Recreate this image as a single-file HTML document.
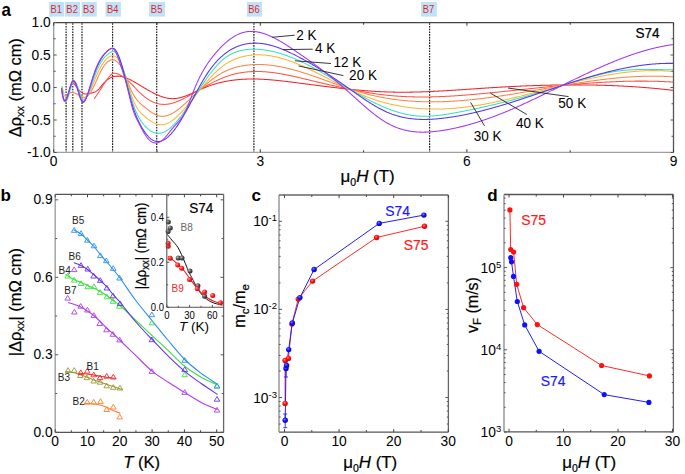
<!DOCTYPE html>
<html><head><meta charset="utf-8"><title>Figure</title>
<style>html,body{margin:0;padding:0;background:#fff;}body{width:685px;height:474px;overflow:hidden;font-family:"Liberation Sans", sans-serif;}svg{display:block;}</style>
</head><body>
<svg width="685" height="474" viewBox="0 0 685 474" font-family='"Liberation Sans", sans-serif'>
<style>text{stroke-width:0.22px;paint-order:stroke;}</style>
<rect width="685" height="474" fill="#fff"/>
<defs><radialGradient id="gk" cx="0.35" cy="0.35" r="0.7"><stop offset="0" stop-color="#bbb"/><stop offset="0.5" stop-color="#555"/><stop offset="1" stop-color="#222"/></radialGradient><radialGradient id="gr" cx="0.35" cy="0.35" r="0.7"><stop offset="0" stop-color="#ff9a9a"/><stop offset="0.5" stop-color="#f22"/><stop offset="1" stop-color="#c00"/></radialGradient><radialGradient id="cbg" cx="0.4" cy="0.35" r="0.7"><stop offset="0" stop-color="#7a7aff"/><stop offset="0.45" stop-color="#1010ff"/><stop offset="1" stop-color="#0000c0"/></radialGradient><radialGradient id="crg" cx="0.4" cy="0.35" r="0.7"><stop offset="0" stop-color="#ff8080"/><stop offset="0.45" stop-color="#ff1010"/><stop offset="1" stop-color="#c80000"/></radialGradient></defs>
<rect x="49.2" y="2" width="15" height="14.6" fill="#bae4fa"/>
<text transform="translate(56.3,13.3) scale(0.9,1)" font-size="10.5" text-anchor="middle" fill="#ee1c25" stroke="none" font-weight="normal"  >B1</text>
<rect x="65" y="2" width="15" height="14.6" fill="#bae4fa"/>
<text transform="translate(72.1,13.3) scale(0.9,1)" font-size="10.5" text-anchor="middle" fill="#ee1c25" stroke="none" font-weight="normal"  >B2</text>
<rect x="81.6" y="2" width="15.2" height="14.6" fill="#bae4fa"/>
<text transform="translate(88.8,13.3) scale(0.9,1)" font-size="10.5" text-anchor="middle" fill="#ee1c25" stroke="none" font-weight="normal"  >B3</text>
<rect x="105.5" y="2" width="15.4" height="14.6" fill="#bae4fa"/>
<text transform="translate(112.8,13.3) scale(0.9,1)" font-size="10.5" text-anchor="middle" fill="#ee1c25" stroke="none" font-weight="normal"  >B4</text>
<rect x="149" y="2" width="16" height="14.6" fill="#bae4fa"/>
<text transform="translate(156.6,13.3) scale(0.9,1)" font-size="10.5" text-anchor="middle" fill="#ee1c25" stroke="none" font-weight="normal"  >B5</text>
<rect x="246.9" y="2" width="15.1" height="14.6" fill="#bae4fa"/>
<text transform="translate(254.05,13.3) scale(0.9,1)" font-size="10.5" text-anchor="middle" fill="#ee1c25" stroke="none" font-weight="normal"  >B6</text>
<rect x="421" y="2" width="15.8" height="14.6" fill="#bae4fa"/>
<text transform="translate(428.5,13.3) scale(0.9,1)" font-size="10.5" text-anchor="middle" fill="#ee1c25" stroke="none" font-weight="normal"  >B7</text>
<line x1="66.1" y1="23.2" x2="66.1" y2="152" stroke="#1a1a1a" stroke-width="1.2" stroke-dasharray="1.6 1.13"/>
<line x1="72.8" y1="23.2" x2="72.8" y2="152" stroke="#1a1a1a" stroke-width="1.2" stroke-dasharray="1.6 1.13"/>
<line x1="82" y1="23.2" x2="82" y2="152" stroke="#1a1a1a" stroke-width="1.2" stroke-dasharray="1.6 1.13"/>
<line x1="112.6" y1="23.2" x2="112.6" y2="152" stroke="#1a1a1a" stroke-width="1.2" stroke-dasharray="1.6 1.13"/>
<line x1="156.7" y1="23.2" x2="156.7" y2="152" stroke="#1a1a1a" stroke-width="1.2" stroke-dasharray="1.6 1.13"/>
<line x1="253.9" y1="23.2" x2="253.9" y2="152" stroke="#1a1a1a" stroke-width="1.2" stroke-dasharray="1.6 1.13"/>
<line x1="429.6" y1="23.2" x2="429.6" y2="152" stroke="#1a1a1a" stroke-width="1.2" stroke-dasharray="1.6 1.13"/>
<g clip-path="url(#clipa)">
<path d="M72.8,81.98 L73.3,82.64 L73.8,83.31 L74.3,83.98 L74.8,84.65 L75.3,85.32 L75.8,85.99 L76.3,86.65 L76.8,87.3 L77.3,87.94 L77.8,88.56 L78.3,89.16 L78.8,89.74 L79.3,90.29 L79.8,90.82 L80.3,91.32 L80.8,91.78 L81.3,92.21 L81.8,92.59 L82.3,92.93 L82.8,93.23 L83.3,93.48 L83.8,93.68 L84.3,93.82 L84.8,93.92 L85.3,93.98 L85.8,93.99 L86.3,93.98 L86.8,93.94 L87.3,93.87 L87.8,93.79 L88.3,93.69 L88.8,93.59 L89.3,93.49 L89.8,93.38 L90.3,93.28 L90.8,93.18 L91.3,93.06 L91.8,92.95 L92.3,92.82 L92.8,92.68 L93.3,92.52 L93.8,92.35 L94.3,92.15 L94.8,91.94 L95.3,91.69 L95.8,91.42 L96.3,91.12 L96.8,90.78 L97.3,90.41 L97.8,90 L98.3,89.54 L98.8,89.05 L99.3,88.51 L99.8,87.93 L100.3,87.33 L100.8,86.71 L101.3,86.07 L101.8,85.44 L102.3,84.81 L102.8,84.2 L103.3,83.61 L103.8,83.05 L104.3,82.51 L104.8,82 L105.3,81.51 L105.8,81.05 L106.3,80.61 L106.8,80.19 L107.3,79.8 L107.8,79.42 L108.3,79.07 L108.8,78.74 L109.3,78.44 L109.8,78.15 L110.3,77.89 L110.8,77.64 L111.3,77.41 L111.8,77.21 L112.3,77.02 L112.8,76.85 L113.3,76.7 L113.8,76.57 L114.3,76.46 L114.8,76.36 L115.3,76.28 L115.8,76.21 L116.3,76.17 L116.8,76.13 L117.3,76.12 L117.8,76.11 L118.3,76.13 L118.8,76.15 L119.3,76.19 L119.8,76.25 L120.3,76.31 L120.8,76.39 L121.3,76.49 L121.8,76.59 L122.3,76.71 L122.8,76.83 L123.3,76.97 L123.8,77.12 L124.3,77.28 L124.8,77.45 L125.3,77.62 L125.8,77.81 L126.3,78 L126.8,78.21 L127.3,78.42 L127.8,78.64 L128.3,78.86 L128.8,79.1 L129.3,79.33 L129.8,79.58 L130.3,79.83 L130.8,80.08 L131.3,80.34 L131.8,80.61 L132.3,80.88 L132.8,81.15 L133.3,81.43 L133.8,81.71 L134.3,81.99 L134.8,82.27 L135.3,82.56 L135.8,82.85 L136.3,83.13 L136.8,83.43 L137.3,83.72 L137.8,84.01 L138.3,84.31 L138.8,84.6 L139.3,84.9 L139.8,85.2 L140.3,85.5 L140.8,85.8 L141.3,86.1 L141.8,86.4 L142.3,86.7 L142.8,86.99 L143.3,87.29 L143.8,87.59 L144.3,87.89 L144.8,88.18 L145.3,88.48 L145.8,88.78 L146.3,89.07 L146.8,89.36 L147.3,89.65 L147.8,89.94 L148.3,90.22 L148.8,90.51 L149.3,90.79 L149.8,91.07 L150.3,91.35 L150.8,91.62 L151.3,91.89 L151.8,92.16 L152.3,92.43 L152.8,92.69 L153.3,92.95 L153.8,93.2 L154.3,93.45 L154.8,93.7 L155.3,93.94 L155.8,94.18 L156.3,94.42 L156.8,94.65 L157.3,94.87 L157.8,95.09 L158.3,95.31 L158.8,95.52 L159.3,95.72 L159.8,95.92 L160.3,96.12 L160.8,96.3 L161.3,96.48 L161.8,96.66 L162.3,96.83 L162.8,96.99 L163.3,97.15 L163.8,97.3 L164.3,97.44 L164.8,97.58 L165.3,97.7 L165.8,97.83 L166.3,97.94 L166.8,98.04 L167.3,98.14 L167.8,98.23 L168.3,98.31 L168.8,98.39 L169.3,98.45 L169.8,98.51 L170.3,98.56 L170.8,98.6 L171.3,98.63 L171.8,98.65 L172.3,98.66 L172.8,98.66 L173.3,98.65 L173.8,98.63 L174.3,98.61 L174.8,98.57 L175.3,98.53 L175.8,98.47 L176.3,98.41 L176.8,98.34 L177.3,98.26 L177.8,98.18 L178.3,98.09 L178.8,97.99 L179.3,97.88 L179.8,97.76 L180.3,97.64 L180.8,97.51 L181.3,97.38 L181.8,97.24 L182.3,97.09 L182.8,96.94 L183.3,96.78 L183.8,96.62 L184.3,96.45 L184.8,96.28 L185.3,96.1 L185.8,95.91 L186.3,95.73 L186.8,95.54 L187.3,95.34 L187.8,95.14 L188.3,94.94 L188.8,94.73 L189.3,94.52 L189.8,94.31 L190.3,94.1 L190.8,93.88 L191.3,93.66 L191.8,93.44 L192.3,93.22 L192.8,92.99 L193.3,92.76 L193.8,92.54 L194.3,92.31 L194.8,92.08 L195.3,91.85 L195.8,91.62 L196.3,91.38 L196.8,91.15 L197.3,90.92 L197.8,90.69 L198.3,90.46 L198.8,90.23 L199.3,90 L199.8,89.77 L200.3,89.55 L200.8,89.32 L201.3,89.1 L201.8,88.88 L202.3,88.66 L202.8,88.44 L203.3,88.23 L203.8,88.02 L204.3,87.81 L204.8,87.6 L205.3,87.4 L205.8,87.2 L206.3,87 L206.8,86.81 L207.3,86.62 L207.8,86.43 L208.3,86.24 L208.8,86.06 L209.3,85.88 L209.8,85.7 L210.3,85.53 L210.8,85.35 L211.3,85.19 L211.8,85.02 L212.3,84.85 L212.8,84.69 L213.3,84.53 L213.8,84.38 L214.3,84.22 L214.8,84.07 L215.3,83.93 L215.8,83.78 L216.3,83.64 L216.8,83.5 L217.3,83.36 L217.8,83.22 L218.3,83.09 L218.8,82.96 L219.3,82.83 L219.8,82.7 L220.3,82.58 L220.8,82.46 L221.3,82.34 L221.8,82.22 L222.3,82.11 L222.8,82 L223.3,81.89 L223.8,81.78 L224.3,81.68 L224.8,81.58 L225.3,81.48 L225.8,81.38 L226.3,81.28 L226.8,81.19 L227.3,81.1 L227.8,81.01 L228.3,80.92 L228.8,80.84 L229.3,80.75 L229.8,80.67 L230.3,80.6 L230.8,80.52 L231.3,80.45 L231.8,80.37 L232.3,80.3 L232.8,80.24 L233.3,80.17 L233.8,80.11 L234.3,80.04 L234.8,79.98 L235.3,79.93 L235.8,79.87 L236.3,79.81 L236.8,79.76 L237.3,79.71 L237.8,79.66 L238.3,79.62 L238.8,79.57 L239.3,79.53 L239.8,79.49 L240.3,79.45 L240.8,79.41 L241.3,79.38 L241.8,79.34 L242.3,79.31 L242.8,79.28 L243.3,79.25 L243.8,79.22 L244.3,79.2 L244.8,79.17 L245.3,79.15 L245.8,79.13 L246.3,79.11 L246.8,79.09 L247.3,79.08 L247.8,79.06 L248.3,79.05 L248.8,79.04 L249.3,79.03 L249.8,79.02 L250.3,79.02 L250.8,79.01 L251.3,79.01 L251.8,79 L252.3,79 L252.8,79 L253.3,79.01 L253.8,79.01 L254.3,79.01 L254.8,79.02 L255.3,79.03 L255.8,79.04 L256.3,79.05 L256.8,79.06 L257.3,79.07 L257.8,79.08 L258.3,79.1 L258.8,79.12 L259.3,79.13 L259.8,79.15 L260.3,79.17 L260.8,79.19 L261.3,79.22 L261.8,79.24 L262.3,79.26 L262.8,79.29 L263.3,79.32 L263.8,79.34 L264.3,79.37 L264.8,79.4 L265.3,79.43 L265.8,79.46 L266.3,79.5 L266.8,79.53 L267.3,79.57 L267.8,79.6 L268.3,79.64 L268.8,79.68 L269.3,79.71 L269.8,79.75 L270.3,79.79 L270.8,79.84 L271.3,79.88 L271.8,79.92 L272.3,79.96 L272.8,80.01 L273.3,80.05 L273.8,80.1 L274.3,80.15 L274.8,80.19 L275.3,80.24 L275.8,80.29 L276.3,80.34 L276.8,80.39 L277.3,80.44 L277.8,80.49 L278.3,80.54 L278.8,80.6 L279.3,80.65 L279.8,80.7 L280.3,80.76 L280.8,80.81 L281.3,80.87 L281.8,80.92 L282.3,80.98 L282.8,81.04 L283.3,81.1 L283.8,81.15 L284.3,81.21 L284.8,81.27 L285.3,81.33 L285.8,81.39 L286.3,81.45 L286.8,81.51 L287.3,81.57 L287.8,81.63 L288.3,81.69 L288.8,81.75 L289.3,81.82 L289.8,81.88 L290.3,81.94 L290.8,82 L291.3,82.07 L291.8,82.13 L292.3,82.19 L292.8,82.26 L293.3,82.32 L293.8,82.38 L294.3,82.45 L294.8,82.51 L295.3,82.57 L295.8,82.64 L296.3,82.7 L296.8,82.77 L297.3,82.83 L297.8,82.9 L298.3,82.96 L298.8,83.02 L299.3,83.09 L299.8,83.15 L300.3,83.22 L300.8,83.28 L301.3,83.35 L301.8,83.41 L302.3,83.48 L302.8,83.54 L303.3,83.61 L303.8,83.67 L304.3,83.74 L304.8,83.8 L305.3,83.87 L305.8,83.93 L306.3,84 L306.8,84.06 L307.3,84.13 L307.8,84.19 L308.3,84.26 L308.8,84.32 L309.3,84.39 L309.8,84.45 L310.3,84.52 L310.8,84.58 L311.3,84.65 L311.8,84.71 L312.3,84.78 L312.8,84.84 L313.3,84.91 L313.8,84.97 L314.3,85.04 L314.8,85.1 L315.3,85.17 L315.8,85.23 L316.3,85.29 L316.8,85.36 L317.3,85.42 L317.8,85.49 L318.3,85.55 L318.8,85.62 L319.3,85.68 L319.8,85.74 L320.3,85.81 L320.8,85.87 L321.3,85.93 L321.8,86 L322.3,86.06 L322.8,86.12 L323.3,86.19 L323.8,86.25 L324.3,86.31 L324.8,86.38 L325.3,86.44 L325.8,86.5 L326.3,86.56 L326.8,86.63 L327.3,86.69 L327.8,86.75 L328.3,86.81 L328.8,86.87 L329.3,86.93 L329.8,87 L330.3,87.06 L330.8,87.12 L331.3,87.18 L331.8,87.24 L332.3,87.3 L332.8,87.36 L333.3,87.42 L333.8,87.48 L334.3,87.54 L334.8,87.6 L335.3,87.66 L335.8,87.72 L336.3,87.78 L336.8,87.83 L337.3,87.89 L337.8,87.95 L338.3,88.01 L338.8,88.07 L339.3,88.12 L339.8,88.18 L340.3,88.24 L340.8,88.29 L341.3,88.35 L341.8,88.41 L342.3,88.46 L342.8,88.52 L343.3,88.57 L343.8,88.63 L344.3,88.68 L344.8,88.74 L345.3,88.79 L345.8,88.85 L346.3,88.9 L346.8,88.95 L347.3,89.01 L347.8,89.06 L348.3,89.11 L348.8,89.16 L349.3,89.21 L349.8,89.27 L350.3,89.32 L350.8,89.37 L351.3,89.42 L351.8,89.47 L352.3,89.52 L352.8,89.57 L353.3,89.62 L353.8,89.67 L354.3,89.71 L354.8,89.76 L355.3,89.81 L355.8,89.86 L356.3,89.91 L356.8,89.95 L357.3,90 L357.8,90.04 L358.3,90.09 L358.8,90.13 L359.3,90.18 L359.8,90.22 L360.3,90.27 L360.8,90.31 L361.3,90.35 L361.8,90.4 L362.3,90.44 L362.8,90.48 L363.3,90.52 L363.8,90.56 L364.3,90.61 L364.8,90.65 L365.3,90.69 L365.8,90.72 L366.3,90.76 L366.8,90.8 L367.3,90.84 L367.8,90.88 L368.3,90.91 L368.8,90.95 L369.3,90.99 L369.8,91.02 L370.3,91.06 L370.8,91.09 L371.3,91.13 L371.8,91.16 L372.3,91.2 L372.8,91.23 L373.3,91.26 L373.8,91.29 L374.3,91.32 L374.8,91.35 L375.3,91.39 L375.8,91.42 L376.3,91.44 L376.8,91.47 L377.3,91.5 L377.8,91.53 L378.3,91.56 L378.8,91.58 L379.3,91.61 L379.8,91.64 L380.3,91.66 L380.8,91.69 L381.3,91.71 L381.8,91.73 L382.3,91.76 L382.8,91.78 L383.3,91.8 L383.8,91.82 L384.3,91.84 L384.8,91.86 L385.3,91.88 L385.8,91.9 L386.3,91.92 L386.8,91.94 L387.3,91.95 L387.8,91.97 L388.3,91.99 L388.8,92 L389.3,92.02 L389.8,92.03 L390.3,92.04 L390.8,92.06 L391.3,92.07 L391.8,92.08 L392.3,92.09 L392.8,92.1 L393.3,92.11 L393.8,92.12 L394.3,92.13 L394.8,92.14 L395.3,92.15 L395.8,92.15 L396.3,92.16 L396.8,92.17 L397.3,92.17 L397.8,92.18 L398.3,92.18 L398.8,92.19 L399.3,92.19 L399.8,92.19 L400.3,92.19 L400.8,92.2 L401.3,92.2 L401.8,92.2 L402.3,92.2 L402.8,92.2 L403.3,92.2 L403.8,92.2 L404.3,92.2 L404.8,92.19 L405.3,92.19 L405.8,92.19 L406.3,92.18 L406.8,92.18 L407.3,92.18 L407.8,92.17 L408.3,92.17 L408.8,92.16 L409.3,92.15 L409.8,92.15 L410.3,92.14 L410.8,92.13 L411.3,92.12 L411.8,92.12 L412.3,92.11 L412.8,92.1 L413.3,92.09 L413.8,92.08 L414.3,92.07 L414.8,92.06 L415.3,92.04 L415.8,92.03 L416.3,92.02 L416.8,92.01 L417.3,91.99 L417.8,91.98 L418.3,91.97 L418.8,91.95 L419.3,91.94 L419.8,91.92 L420.3,91.91 L420.8,91.89 L421.3,91.88 L421.8,91.86 L422.3,91.84 L422.8,91.83 L423.3,91.81 L423.8,91.79 L424.3,91.77 L424.8,91.75 L425.3,91.73 L425.8,91.72 L426.3,91.7 L426.8,91.68 L427.3,91.66 L427.8,91.64 L428.3,91.61 L428.8,91.59 L429.3,91.57 L429.8,91.55 L430.3,91.53 L430.8,91.51 L431.3,91.48 L431.8,91.46 L432.3,91.44 L432.8,91.41 L433.3,91.39 L433.8,91.37 L434.3,91.34 L434.8,91.32 L435.3,91.29 L435.8,91.27 L436.3,91.24 L436.8,91.22 L437.3,91.19 L437.8,91.16 L438.3,91.14 L438.8,91.11 L439.3,91.08 L439.8,91.06 L440.3,91.03 L440.8,91 L441.3,90.97 L441.8,90.95 L442.3,90.92 L442.8,90.89 L443.3,90.86 L443.8,90.83 L444.3,90.8 L444.8,90.77 L445.3,90.74 L445.8,90.71 L446.3,90.68 L446.8,90.65 L447.3,90.62 L447.8,90.59 L448.3,90.56 L448.8,90.53 L449.3,90.5 L449.8,90.47 L450.3,90.44 L450.8,90.41 L451.3,90.38 L451.8,90.35 L452.3,90.31 L452.8,90.28 L453.3,90.25 L453.8,90.22 L454.3,90.19 L454.8,90.15 L455.3,90.12 L455.8,90.09 L456.3,90.06 L456.8,90.02 L457.3,89.99 L457.8,89.96 L458.3,89.92 L458.8,89.89 L459.3,89.86 L459.8,89.82 L460.3,89.79 L460.8,89.76 L461.3,89.72 L461.8,89.69 L462.3,89.66 L462.8,89.62 L463.3,89.59 L463.8,89.55 L464.3,89.52 L464.8,89.49 L465.3,89.45 L465.8,89.42 L466.3,89.38 L466.8,89.35 L467.3,89.32 L467.8,89.28 L468.3,89.25 L468.8,89.21 L469.3,89.18 L469.8,89.14 L470.3,89.11 L470.8,89.07 L471.3,89.04 L471.8,89.01 L472.3,88.97 L472.8,88.94 L473.3,88.9 L473.8,88.87 L474.3,88.83 L474.8,88.8 L475.3,88.77 L475.8,88.73 L476.3,88.7 L476.8,88.66 L477.3,88.63 L477.8,88.6 L478.3,88.56 L478.8,88.53 L479.3,88.49 L479.8,88.46 L480.3,88.43 L480.8,88.39 L481.3,88.36 L481.8,88.32 L482.3,88.29 L482.8,88.26 L483.3,88.22 L483.8,88.19 L484.3,88.16 L484.8,88.13 L485.3,88.09 L485.8,88.06 L486.3,88.03 L486.8,87.99 L487.3,87.96 L487.8,87.93 L488.3,87.9 L488.8,87.86 L489.3,87.83 L489.8,87.8 L490.3,87.77 L490.8,87.74 L491.3,87.71 L491.8,87.67 L492.3,87.64 L492.8,87.61 L493.3,87.58 L493.8,87.55 L494.3,87.52 L494.8,87.49 L495.3,87.46 L495.8,87.43 L496.3,87.4 L496.8,87.37 L497.3,87.34 L497.8,87.31 L498.3,87.28 L498.8,87.25 L499.3,87.22 L499.8,87.19 L500.3,87.16 L500.8,87.14 L501.3,87.11 L501.8,87.08 L502.3,87.05 L502.8,87.02 L503.3,86.99 L503.8,86.97 L504.3,86.94 L504.8,86.91 L505.3,86.88 L505.8,86.86 L506.3,86.83 L506.8,86.8 L507.3,86.78 L507.8,86.75 L508.3,86.72 L508.8,86.7 L509.3,86.67 L509.8,86.64 L510.3,86.62 L510.8,86.59 L511.3,86.57 L511.8,86.54 L512.3,86.52 L512.8,86.49 L513.3,86.47 L513.8,86.44 L514.3,86.42 L514.8,86.39 L515.3,86.37 L515.8,86.35 L516.3,86.32 L516.8,86.3 L517.3,86.28 L517.8,86.25 L518.3,86.23 L518.8,86.21 L519.3,86.18 L519.8,86.16 L520.3,86.14 L520.8,86.12 L521.3,86.09 L521.8,86.07 L522.3,86.05 L522.8,86.03 L523.3,86.01 L523.8,85.99 L524.3,85.97 L524.8,85.95 L525.3,85.92 L525.8,85.9 L526.3,85.88 L526.8,85.86 L527.3,85.84 L527.8,85.82 L528.3,85.8 L528.8,85.79 L529.3,85.77 L529.8,85.75 L530.3,85.73 L530.8,85.71 L531.3,85.69 L531.8,85.67 L532.3,85.66 L532.8,85.64 L533.3,85.62 L533.8,85.6 L534.3,85.59 L534.8,85.57 L535.3,85.55 L535.8,85.53 L536.3,85.52 L536.8,85.5 L537.3,85.49 L537.8,85.47 L538.3,85.45 L538.8,85.44 L539.3,85.42 L539.8,85.41 L540.3,85.39 L540.8,85.38 L541.3,85.36 L541.8,85.35 L542.3,85.33 L542.8,85.32 L543.3,85.31 L543.8,85.29 L544.3,85.28 L544.8,85.27 L545.3,85.25 L545.8,85.24 L546.3,85.23 L546.8,85.22 L547.3,85.2 L547.8,85.19 L548.3,85.18 L548.8,85.17 L549.3,85.16 L549.8,85.15 L550.3,85.14 L550.8,85.13 L551.3,85.12 L551.8,85.1 L552.3,85.09 L552.8,85.08 L553.3,85.08 L553.8,85.07 L554.3,85.06 L554.8,85.05 L555.3,85.04 L555.8,85.03 L556.3,85.02 L556.8,85.01 L557.3,85.01 L557.8,85 L558.3,84.99 L558.8,84.98 L559.3,84.98 L559.8,84.97 L560.3,84.96 L560.8,84.96 L561.3,84.95 L561.8,84.95 L562.3,84.94 L562.8,84.93 L563.3,84.93 L563.8,84.92 L564.3,84.92 L564.8,84.91 L565.3,84.91 L565.8,84.91 L566.3,84.9 L566.8,84.9 L567.3,84.9 L567.8,84.89 L568.3,84.89 L568.8,84.89 L569.3,84.88 L569.8,84.88 L570.3,84.88 L570.8,84.88 L571.3,84.88 L571.8,84.88 L572.3,84.87 L572.8,84.87 L573.3,84.87 L573.8,84.87 L574.3,84.87 L574.8,84.87 L575.3,84.87 L575.8,84.87 L576.3,84.87 L576.8,84.88 L577.3,84.88 L577.8,84.88 L578.3,84.88 L578.8,84.88 L579.3,84.89 L579.8,84.89 L580.3,84.89 L580.8,84.89 L581.3,84.9 L581.8,84.9 L582.3,84.9 L582.8,84.91 L583.3,84.91 L583.8,84.92 L584.3,84.92 L584.8,84.93 L585.3,84.93 L585.8,84.94 L586.3,84.94 L586.8,84.95 L587.3,84.96 L587.8,84.96 L588.3,84.97 L588.8,84.98 L589.3,84.98 L589.8,84.99 L590.3,85 L590.8,85.01 L591.3,85.02 L591.8,85.02 L592.3,85.03 L592.8,85.04 L593.3,85.05 L593.8,85.06 L594.3,85.07 L594.8,85.08 L595.3,85.09 L595.8,85.1 L596.3,85.11 L596.8,85.13 L597.3,85.14 L597.8,85.15 L598.3,85.16 L598.8,85.17 L599.3,85.19 L599.8,85.2 L600.3,85.21 L600.8,85.23 L601.3,85.24 L601.8,85.25 L602.3,85.27 L602.8,85.28 L603.3,85.3 L603.8,85.31 L604.3,85.33 L604.8,85.34 L605.3,85.36 L605.8,85.37 L606.3,85.39 L606.8,85.41 L607.3,85.42 L607.8,85.44 L608.3,85.46 L608.8,85.48 L609.3,85.5 L609.8,85.51 L610.3,85.53 L610.8,85.55 L611.3,85.57 L611.8,85.59 L612.3,85.61 L612.8,85.63 L613.3,85.65 L613.8,85.67 L614.3,85.69 L614.8,85.71 L615.3,85.74 L615.8,85.76 L616.3,85.78 L616.8,85.8 L617.3,85.82 L617.8,85.85 L618.3,85.87 L618.8,85.89 L619.3,85.92 L619.8,85.94 L620.3,85.97 L620.8,85.99 L621.3,86.02 L621.8,86.04 L622.3,86.07 L622.8,86.09 L623.3,86.12 L623.8,86.15 L624.3,86.17 L624.8,86.2 L625.3,86.23 L625.8,86.26 L626.3,86.28 L626.8,86.31 L627.3,86.34 L627.8,86.37 L628.3,86.4 L628.8,86.43 L629.3,86.46 L629.8,86.49 L630.3,86.52 L630.8,86.55 L631.3,86.58 L631.8,86.61 L632.3,86.64 L632.8,86.68 L633.3,86.71 L633.8,86.74 L634.3,86.77 L634.8,86.81 L635.3,86.84 L635.8,86.87 L636.3,86.91 L636.8,86.94 L637.3,86.98 L637.8,87.01 L638.3,87.05 L638.8,87.08 L639.3,87.12 L639.8,87.16 L640.3,87.19 L640.8,87.23 L641.3,87.27 L641.8,87.3 L642.3,87.34 L642.8,87.38 L643.3,87.42 L643.8,87.46 L644.3,87.5 L644.8,87.54 L645.3,87.58 L645.8,87.62 L646.3,87.66 L646.8,87.7 L647.3,87.74 L647.8,87.78 L648.3,87.82 L648.8,87.87 L649.3,87.91 L649.8,87.95 L650.3,87.99 L650.8,88.04 L651.3,88.08 L651.8,88.13 L652.3,88.17 L652.8,88.22 L653.3,88.26 L653.8,88.31 L654.3,88.35 L654.8,88.4 L655.3,88.45 L655.8,88.49 L656.3,88.54 L656.8,88.59 L657.3,88.63 L657.8,88.68 L658.3,88.73 L658.8,88.78 L659.3,88.83 L659.8,88.88 L660.3,88.93 L660.8,88.98 L661.3,89.03 L661.8,89.08 L662.3,89.13 L662.8,89.18 L663.3,89.24 L663.8,89.29 L664.3,89.34 L664.8,89.39 L665.3,89.45 L665.8,89.5 L666.3,89.56 L666.8,89.61 L667.3,89.66 L667.8,89.72 L668.3,89.78 L668.8,89.83 L669.3,89.89 L669.8,89.94 L670.3,90 L670.8,90.06 L671.3,90.12 L671.8,90.17 L672.3,90.23 L672.8,90.29 L673.3,90.35 L673.4,90.36" fill="none" stroke="#f42228" stroke-width="1.05" stroke-linejoin="round" stroke-linecap="round" />
<path d="M94.5,98.36 L95,97.67 L95.5,96.97 L96,96.25 L96.5,95.52 L97,94.79 L97.5,94.04 L98,93.29 L98.5,92.53 L99,91.76 L99.5,90.99 L100,90.22 L100.5,89.44 L101,88.66 L101.5,87.88 L102,87.11 L102.5,86.33 L103,85.56 L103.5,84.79 L104,84.03 L104.5,83.27 L105,82.52 L105.5,81.78 L106,81.04 L106.5,80.32 L107,79.61 L107.5,78.91 L108,78.23 L108.5,77.56 L109,76.91 L109.5,76.3 L110,75.72 L110.5,75.19 L111,74.71 L111.5,74.29 L112,73.95 L112.5,73.67 L113,73.47 L113.5,73.34 L114,73.26 L114.5,73.23 L115,73.25 L115.5,73.31 L116,73.4 L116.5,73.52 L117,73.67 L117.5,73.83 L118,74.01 L118.5,74.21 L119,74.44 L119.5,74.67 L120,74.93 L120.5,75.2 L121,75.48 L121.5,75.78 L122,76.1 L122.5,76.42 L123,76.76 L123.5,77.12 L124,77.48 L124.5,77.86 L125,78.24 L125.5,78.64 L126,79.05 L126.5,79.47 L127,79.9 L127.5,80.34 L128,80.78 L128.5,81.24 L129,81.7 L129.5,82.18 L130,82.65 L130.5,83.14 L131,83.63 L131.5,84.13 L132,84.63 L132.5,85.14 L133,85.65 L133.5,86.17 L134,86.68 L134.5,87.2 L135,87.72 L135.5,88.24 L136,88.76 L136.5,89.28 L137,89.79 L137.5,90.31 L138,90.81 L138.5,91.32 L139,91.82 L139.5,92.31 L140,92.79 L140.5,93.27 L141,93.74 L141.5,94.2 L142,94.64 L142.5,95.08 L143,95.51 L143.5,95.93 L144,96.34 L144.5,96.74 L145,97.12 L145.5,97.5 L146,97.87 L146.5,98.23 L147,98.58 L147.5,98.91 L148,99.24 L148.5,99.56 L149,99.87 L149.5,100.16 L150,100.45 L150.5,100.73 L151,100.99 L151.5,101.25 L152,101.5 L152.5,101.73 L153,101.96 L153.5,102.18 L154,102.38 L154.5,102.58 L155,102.77 L155.5,102.94 L156,103.11 L156.5,103.26 L157,103.41 L157.5,103.55 L158,103.67 L158.5,103.79 L159,103.89 L159.5,103.99 L160,104.07 L160.5,104.15 L161,104.22 L161.5,104.27 L162,104.32 L162.5,104.35 L163,104.38 L163.5,104.39 L164,104.4 L164.5,104.4 L165,104.38 L165.5,104.36 L166,104.33 L166.5,104.29 L167,104.24 L167.5,104.18 L168,104.11 L168.5,104.04 L169,103.95 L169.5,103.86 L170,103.76 L170.5,103.65 L171,103.54 L171.5,103.41 L172,103.28 L172.5,103.15 L173,103 L173.5,102.85 L174,102.69 L174.5,102.53 L175,102.36 L175.5,102.18 L176,102 L176.5,101.81 L177,101.62 L177.5,101.42 L178,101.22 L178.5,101.01 L179,100.79 L179.5,100.57 L180,100.35 L180.5,100.12 L181,99.89 L181.5,99.65 L182,99.41 L182.5,99.17 L183,98.92 L183.5,98.66 L184,98.41 L184.5,98.15 L185,97.89 L185.5,97.62 L186,97.36 L186.5,97.09 L187,96.81 L187.5,96.54 L188,96.26 L188.5,95.98 L189,95.7 L189.5,95.42 L190,95.14 L190.5,94.85 L191,94.57 L191.5,94.28 L192,93.99 L192.5,93.71 L193,93.42 L193.5,93.13 L194,92.84 L194.5,92.55 L195,92.26 L195.5,91.97 L196,91.69 L196.5,91.4 L197,91.11 L197.5,90.82 L198,90.54 L198.5,90.25 L199,89.96 L199.5,89.68 L200,89.39 L200.5,89.11 L201,88.83 L201.5,88.54 L202,88.26 L202.5,87.98 L203,87.7 L203.5,87.42 L204,87.14 L204.5,86.87 L205,86.59 L205.5,86.32 L206,86.04 L206.5,85.77 L207,85.5 L207.5,85.23 L208,84.96 L208.5,84.7 L209,84.43 L209.5,84.17 L210,83.91 L210.5,83.65 L211,83.39 L211.5,83.13 L212,82.88 L212.5,82.62 L213,82.37 L213.5,82.12 L214,81.87 L214.5,81.63 L215,81.39 L215.5,81.15 L216,80.91 L216.5,80.67 L217,80.44 L217.5,80.2 L218,79.98 L218.5,79.75 L219,79.52 L219.5,79.3 L220,79.08 L220.5,78.87 L221,78.65 L221.5,78.44 L222,78.23 L222.5,78.03 L223,77.83 L223.5,77.63 L224,77.43 L224.5,77.24 L225,77.05 L225.5,76.86 L226,76.67 L226.5,76.49 L227,76.31 L227.5,76.14 L228,75.97 L228.5,75.8 L229,75.64 L229.5,75.48 L230,75.32 L230.5,75.17 L231,75.02 L231.5,74.87 L232,74.73 L232.5,74.59 L233,74.45 L233.5,74.32 L234,74.19 L234.5,74.07 L235,73.94 L235.5,73.82 L236,73.71 L236.5,73.59 L237,73.48 L237.5,73.38 L238,73.28 L238.5,73.18 L239,73.08 L239.5,72.98 L240,72.89 L240.5,72.81 L241,72.72 L241.5,72.64 L242,72.56 L242.5,72.49 L243,72.41 L243.5,72.34 L244,72.28 L244.5,72.21 L245,72.15 L245.5,72.09 L246,72.04 L246.5,71.99 L247,71.94 L247.5,71.89 L248,71.85 L248.5,71.8 L249,71.77 L249.5,71.73 L250,71.7 L250.5,71.67 L251,71.64 L251.5,71.61 L252,71.59 L252.5,71.57 L253,71.55 L253.5,71.53 L254,71.52 L254.5,71.51 L255,71.5 L255.5,71.5 L256,71.49 L256.5,71.49 L257,71.49 L257.5,71.5 L258,71.5 L258.5,71.51 L259,71.52 L259.5,71.53 L260,71.55 L260.5,71.56 L261,71.58 L261.5,71.6 L262,71.63 L262.5,71.65 L263,71.68 L263.5,71.71 L264,71.74 L264.5,71.77 L265,71.81 L265.5,71.85 L266,71.89 L266.5,71.93 L267,71.97 L267.5,72.01 L268,72.06 L268.5,72.11 L269,72.16 L269.5,72.21 L270,72.26 L270.5,72.32 L271,72.38 L271.5,72.44 L272,72.5 L272.5,72.56 L273,72.62 L273.5,72.69 L274,72.75 L274.5,72.82 L275,72.89 L275.5,72.96 L276,73.04 L276.5,73.11 L277,73.19 L277.5,73.26 L278,73.34 L278.5,73.42 L279,73.5 L279.5,73.59 L280,73.67 L280.5,73.76 L281,73.84 L281.5,73.93 L282,74.02 L282.5,74.11 L283,74.2 L283.5,74.29 L284,74.38 L284.5,74.48 L285,74.57 L285.5,74.67 L286,74.77 L286.5,74.87 L287,74.97 L287.5,75.07 L288,75.17 L288.5,75.27 L289,75.37 L289.5,75.48 L290,75.58 L290.5,75.69 L291,75.8 L291.5,75.9 L292,76.01 L292.5,76.12 L293,76.23 L293.5,76.34 L294,76.45 L294.5,76.56 L295,76.67 L295.5,76.79 L296,76.9 L296.5,77.01 L297,77.13 L297.5,77.24 L298,77.36 L298.5,77.47 L299,77.59 L299.5,77.7 L300,77.82 L300.5,77.94 L301,78.06 L301.5,78.17 L302,78.29 L302.5,78.41 L303,78.53 L303.5,78.65 L304,78.77 L304.5,78.89 L305,79.01 L305.5,79.13 L306,79.25 L306.5,79.37 L307,79.49 L307.5,79.61 L308,79.73 L308.5,79.85 L309,79.97 L309.5,80.09 L310,80.21 L310.5,80.33 L311,80.45 L311.5,80.57 L312,80.69 L312.5,80.81 L313,80.93 L313.5,81.05 L314,81.16 L314.5,81.28 L315,81.4 L315.5,81.52 L316,81.64 L316.5,81.76 L317,81.88 L317.5,82 L318,82.12 L318.5,82.24 L319,82.36 L319.5,82.48 L320,82.6 L320.5,82.72 L321,82.83 L321.5,82.95 L322,83.07 L322.5,83.19 L323,83.31 L323.5,83.42 L324,83.54 L324.5,83.66 L325,83.78 L325.5,83.89 L326,84.01 L326.5,84.13 L327,84.24 L327.5,84.36 L328,84.48 L328.5,84.59 L329,84.71 L329.5,84.82 L330,84.94 L330.5,85.05 L331,85.17 L331.5,85.28 L332,85.4 L332.5,85.51 L333,85.63 L333.5,85.74 L334,85.85 L334.5,85.97 L335,86.08 L335.5,86.19 L336,86.3 L336.5,86.42 L337,86.53 L337.5,86.64 L338,86.75 L338.5,86.86 L339,86.97 L339.5,87.08 L340,87.19 L340.5,87.3 L341,87.41 L341.5,87.52 L342,87.63 L342.5,87.73 L343,87.84 L343.5,87.95 L344,88.05 L344.5,88.16 L345,88.27 L345.5,88.37 L346,88.48 L346.5,88.58 L347,88.69 L347.5,88.79 L348,88.89 L348.5,89 L349,89.1 L349.5,89.2 L350,89.3 L350.5,89.41 L351,89.51 L351.5,89.61 L352,89.71 L352.5,89.81 L353,89.91 L353.5,90 L354,90.1 L354.5,90.2 L355,90.3 L355.5,90.39 L356,90.49 L356.5,90.58 L357,90.68 L357.5,90.77 L358,90.87 L358.5,90.96 L359,91.05 L359.5,91.15 L360,91.24 L360.5,91.33 L361,91.42 L361.5,91.51 L362,91.6 L362.5,91.69 L363,91.78 L363.5,91.86 L364,91.95 L364.5,92.04 L365,92.12 L365.5,92.21 L366,92.29 L366.5,92.38 L367,92.46 L367.5,92.54 L368,92.62 L368.5,92.71 L369,92.79 L369.5,92.87 L370,92.95 L370.5,93.02 L371,93.1 L371.5,93.18 L372,93.26 L372.5,93.33 L373,93.41 L373.5,93.48 L374,93.56 L374.5,93.63 L375,93.7 L375.5,93.77 L376,93.84 L376.5,93.91 L377,93.98 L377.5,94.05 L378,94.12 L378.5,94.19 L379,94.25 L379.5,94.32 L380,94.38 L380.5,94.45 L381,94.51 L381.5,94.57 L382,94.64 L382.5,94.7 L383,94.76 L383.5,94.82 L384,94.87 L384.5,94.93 L385,94.99 L385.5,95.05 L386,95.1 L386.5,95.15 L387,95.21 L387.5,95.26 L388,95.31 L388.5,95.36 L389,95.41 L389.5,95.46 L390,95.51 L390.5,95.56 L391,95.6 L391.5,95.65 L392,95.69 L392.5,95.74 L393,95.78 L393.5,95.82 L394,95.87 L394.5,95.91 L395,95.95 L395.5,95.98 L396,96.02 L396.5,96.06 L397,96.1 L397.5,96.13 L398,96.17 L398.5,96.2 L399,96.23 L399.5,96.27 L400,96.3 L400.5,96.33 L401,96.36 L401.5,96.39 L402,96.42 L402.5,96.45 L403,96.47 L403.5,96.5 L404,96.53 L404.5,96.55 L405,96.57 L405.5,96.6 L406,96.62 L406.5,96.64 L407,96.66 L407.5,96.68 L408,96.7 L408.5,96.72 L409,96.74 L409.5,96.76 L410,96.77 L410.5,96.79 L411,96.81 L411.5,96.82 L412,96.83 L412.5,96.85 L413,96.86 L413.5,96.87 L414,96.88 L414.5,96.89 L415,96.9 L415.5,96.91 L416,96.92 L416.5,96.93 L417,96.94 L417.5,96.94 L418,96.95 L418.5,96.95 L419,96.96 L419.5,96.96 L420,96.97 L420.5,96.97 L421,96.97 L421.5,96.97 L422,96.97 L422.5,96.97 L423,96.97 L423.5,96.97 L424,96.97 L424.5,96.97 L425,96.97 L425.5,96.96 L426,96.96 L426.5,96.95 L427,96.95 L427.5,96.94 L428,96.94 L428.5,96.93 L429,96.92 L429.5,96.91 L430,96.9 L430.5,96.9 L431,96.89 L431.5,96.87 L432,96.86 L432.5,96.85 L433,96.84 L433.5,96.83 L434,96.82 L434.5,96.8 L435,96.79 L435.5,96.77 L436,96.76 L436.5,96.74 L437,96.73 L437.5,96.71 L438,96.69 L438.5,96.67 L439,96.66 L439.5,96.64 L440,96.62 L440.5,96.6 L441,96.58 L441.5,96.56 L442,96.54 L442.5,96.51 L443,96.49 L443.5,96.47 L444,96.45 L444.5,96.42 L445,96.4 L445.5,96.38 L446,96.35 L446.5,96.33 L447,96.3 L447.5,96.27 L448,96.25 L448.5,96.22 L449,96.19 L449.5,96.17 L450,96.14 L450.5,96.11 L451,96.08 L451.5,96.05 L452,96.02 L452.5,95.99 L453,95.96 L453.5,95.93 L454,95.9 L454.5,95.87 L455,95.83 L455.5,95.8 L456,95.77 L456.5,95.73 L457,95.7 L457.5,95.67 L458,95.63 L458.5,95.6 L459,95.56 L459.5,95.53 L460,95.49 L460.5,95.46 L461,95.42 L461.5,95.38 L462,95.35 L462.5,95.31 L463,95.27 L463.5,95.23 L464,95.19 L464.5,95.16 L465,95.12 L465.5,95.08 L466,95.04 L466.5,95 L467,94.96 L467.5,94.92 L468,94.88 L468.5,94.84 L469,94.79 L469.5,94.75 L470,94.71 L470.5,94.67 L471,94.63 L471.5,94.58 L472,94.54 L472.5,94.5 L473,94.45 L473.5,94.41 L474,94.37 L474.5,94.32 L475,94.28 L475.5,94.23 L476,94.19 L476.5,94.15 L477,94.1 L477.5,94.05 L478,94.01 L478.5,93.96 L479,93.92 L479.5,93.87 L480,93.82 L480.5,93.78 L481,93.73 L481.5,93.68 L482,93.64 L482.5,93.59 L483,93.54 L483.5,93.5 L484,93.45 L484.5,93.4 L485,93.35 L485.5,93.3 L486,93.25 L486.5,93.21 L487,93.16 L487.5,93.11 L488,93.06 L488.5,93.01 L489,92.96 L489.5,92.91 L490,92.86 L490.5,92.81 L491,92.76 L491.5,92.71 L492,92.66 L492.5,92.61 L493,92.56 L493.5,92.51 L494,92.46 L494.5,92.41 L495,92.36 L495.5,92.31 L496,92.26 L496.5,92.21 L497,92.16 L497.5,92.11 L498,92.06 L498.5,92.01 L499,91.96 L499.5,91.9 L500,91.85 L500.5,91.8 L501,91.75 L501.5,91.7 L502,91.65 L502.5,91.59 L503,91.54 L503.5,91.49 L504,91.44 L504.5,91.39 L505,91.33 L505.5,91.28 L506,91.23 L506.5,91.18 L507,91.13 L507.5,91.07 L508,91.02 L508.5,90.97 L509,90.92 L509.5,90.86 L510,90.81 L510.5,90.76 L511,90.71 L511.5,90.65 L512,90.6 L512.5,90.55 L513,90.49 L513.5,90.44 L514,90.39 L514.5,90.34 L515,90.28 L515.5,90.23 L516,90.18 L516.5,90.12 L517,90.07 L517.5,90.02 L518,89.96 L518.5,89.91 L519,89.86 L519.5,89.81 L520,89.75 L520.5,89.7 L521,89.65 L521.5,89.59 L522,89.54 L522.5,89.49 L523,89.43 L523.5,89.38 L524,89.33 L524.5,89.27 L525,89.22 L525.5,89.17 L526,89.12 L526.5,89.06 L527,89.01 L527.5,88.96 L528,88.9 L528.5,88.85 L529,88.8 L529.5,88.74 L530,88.69 L530.5,88.64 L531,88.59 L531.5,88.53 L532,88.48 L532.5,88.43 L533,88.38 L533.5,88.32 L534,88.27 L534.5,88.22 L535,88.17 L535.5,88.11 L536,88.06 L536.5,88.01 L537,87.96 L537.5,87.9 L538,87.85 L538.5,87.8 L539,87.75 L539.5,87.7 L540,87.64 L540.5,87.59 L541,87.54 L541.5,87.49 L542,87.44 L542.5,87.39 L543,87.33 L543.5,87.28 L544,87.23 L544.5,87.18 L545,87.13 L545.5,87.08 L546,87.03 L546.5,86.98 L547,86.93 L547.5,86.88 L548,86.83 L548.5,86.77 L549,86.72 L549.5,86.67 L550,86.62 L550.5,86.57 L551,86.52 L551.5,86.47 L552,86.42 L552.5,86.38 L553,86.33 L553.5,86.28 L554,86.23 L554.5,86.18 L555,86.13 L555.5,86.08 L556,86.03 L556.5,85.98 L557,85.93 L557.5,85.89 L558,85.84 L558.5,85.79 L559,85.74 L559.5,85.69 L560,85.65 L560.5,85.6 L561,85.55 L561.5,85.5 L562,85.46 L562.5,85.41 L563,85.36 L563.5,85.32 L564,85.27 L564.5,85.22 L565,85.18 L565.5,85.13 L566,85.09 L566.5,85.04 L567,84.99 L567.5,84.95 L568,84.9 L568.5,84.86 L569,84.81 L569.5,84.77 L570,84.73 L570.5,84.68 L571,84.64 L571.5,84.59 L572,84.55 L572.5,84.51 L573,84.46 L573.5,84.42 L574,84.38 L574.5,84.33 L575,84.29 L575.5,84.25 L576,84.21 L576.5,84.16 L577,84.12 L577.5,84.08 L578,84.04 L578.5,84 L579,83.96 L579.5,83.92 L580,83.88 L580.5,83.84 L581,83.8 L581.5,83.76 L582,83.72 L582.5,83.68 L583,83.64 L583.5,83.6 L584,83.56 L584.5,83.52 L585,83.48 L585.5,83.45 L586,83.41 L586.5,83.37 L587,83.33 L587.5,83.3 L588,83.26 L588.5,83.22 L589,83.19 L589.5,83.15 L590,83.11 L590.5,83.08 L591,83.04 L591.5,83.01 L592,82.97 L592.5,82.94 L593,82.9 L593.5,82.87 L594,82.84 L594.5,82.8 L595,82.77 L595.5,82.74 L596,82.7 L596.5,82.67 L597,82.64 L597.5,82.61 L598,82.58 L598.5,82.54 L599,82.51 L599.5,82.48 L600,82.45 L600.5,82.42 L601,82.39 L601.5,82.36 L602,82.33 L602.5,82.3 L603,82.28 L603.5,82.25 L604,82.22 L604.5,82.19 L605,82.16 L605.5,82.14 L606,82.11 L606.5,82.08 L607,82.06 L607.5,82.03 L608,82.01 L608.5,81.98 L609,81.96 L609.5,81.93 L610,81.91 L610.5,81.88 L611,81.86 L611.5,81.84 L612,81.81 L612.5,81.79 L613,81.77 L613.5,81.75 L614,81.72 L614.5,81.7 L615,81.68 L615.5,81.66 L616,81.64 L616.5,81.62 L617,81.6 L617.5,81.58 L618,81.56 L618.5,81.54 L619,81.53 L619.5,81.51 L620,81.49 L620.5,81.47 L621,81.46 L621.5,81.44 L622,81.42 L622.5,81.41 L623,81.39 L623.5,81.38 L624,81.36 L624.5,81.35 L625,81.34 L625.5,81.32 L626,81.31 L626.5,81.3 L627,81.29 L627.5,81.27 L628,81.26 L628.5,81.25 L629,81.24 L629.5,81.23 L630,81.22 L630.5,81.21 L631,81.2 L631.5,81.19 L632,81.19 L632.5,81.18 L633,81.17 L633.5,81.16 L634,81.16 L634.5,81.15 L635,81.14 L635.5,81.14 L636,81.13 L636.5,81.13 L637,81.13 L637.5,81.12 L638,81.12 L638.5,81.12 L639,81.11 L639.5,81.11 L640,81.11 L640.5,81.11 L641,81.11 L641.5,81.11 L642,81.11 L642.5,81.11 L643,81.11 L643.5,81.11 L644,81.11 L644.5,81.12 L645,81.12 L645.5,81.12 L646,81.13 L646.5,81.13 L647,81.14 L647.5,81.14 L648,81.15 L648.5,81.15 L649,81.16 L649.5,81.17 L650,81.18 L650.5,81.18 L651,81.19 L651.5,81.2 L652,81.21 L652.5,81.22 L653,81.23 L653.5,81.24 L654,81.25 L654.5,81.27 L655,81.28 L655.5,81.29 L656,81.3 L656.5,81.32 L657,81.33 L657.5,81.35 L658,81.36 L658.5,81.38 L659,81.39 L659.5,81.41 L660,81.43 L660.5,81.45 L661,81.47 L661.5,81.48 L662,81.5 L662.5,81.52 L663,81.54 L663.5,81.57 L664,81.59 L664.5,81.61 L665,81.63 L665.5,81.65 L666,81.68 L666.5,81.7 L667,81.73 L667.5,81.75 L668,81.78 L668.5,81.81 L669,81.83 L669.5,81.86 L670,81.89 L670.5,81.92 L671,81.94 L671.5,81.97 L672,82 L672.5,82.04 L673,82.07 L673.4,82.09" fill="none" stroke="#ff5446" stroke-width="1.05" stroke-linejoin="round" stroke-linecap="round" />
<path d="M68.8,93.71 L69.3,93.35 L69.8,93.06 L70.3,92.83 L70.8,92.66 L71.3,92.55 L71.8,92.5 L72.3,92.5 L72.8,92.54 L73.3,92.62 L73.8,92.74 L74.3,92.9 L74.8,93.08 L75.3,93.3 L75.8,93.53 L76.3,93.78 L76.8,94.05 L77.3,94.33 L77.8,94.62 L78.3,94.91 L78.8,95.19 L79.3,95.48 L79.8,95.75 L80.3,96.02 L80.8,96.26 L81.3,96.49 L81.8,96.69 L82.3,96.86 L82.8,97 L83.3,97.11 L83.8,97.18 L84.3,97.2 L84.8,97.18 L85.3,97.1 L85.8,96.97 L86.3,96.78 L86.8,96.52 L87.3,96.2 L87.8,95.81 L88.3,95.35 L88.8,94.81 L89.3,94.2 L89.8,93.53 L90.3,92.79 L90.8,92 L91.3,91.16 L91.8,90.27 L92.3,89.34 L92.8,88.38 L93.3,87.37 L93.8,86.34 L94.3,85.29 L94.8,84.21 L95.3,83.12 L95.8,82.01 L96.3,80.9 L96.8,79.79 L97.3,78.68 L97.8,77.57 L98.3,76.48 L98.8,75.4 L99.3,74.34 L99.8,73.3 L100.3,72.29 L100.8,71.32 L101.3,70.38 L101.8,69.48 L102.3,68.61 L102.8,67.79 L103.3,67 L103.8,66.25 L104.3,65.54 L104.8,64.87 L105.3,64.25 L105.8,63.66 L106.3,63.11 L106.8,62.6 L107.3,62.13 L107.8,61.7 L108.3,61.32 L108.8,60.98 L109.3,60.68 L109.8,60.42 L110.3,60.2 L110.8,60.03 L111.3,59.9 L111.8,59.82 L112.3,59.78 L112.8,59.78 L113.3,59.83 L113.8,59.92 L114.3,60.06 L114.8,60.25 L115.3,60.48 L115.8,60.75 L116.3,61.08 L116.8,61.45 L117.3,61.87 L117.8,62.34 L118.3,62.86 L118.8,63.43 L119.3,64.06 L119.8,64.75 L120.3,65.49 L120.8,66.29 L121.3,67.15 L121.8,68.06 L122.3,69.03 L122.8,70.04 L123.3,71.1 L123.8,72.21 L124.3,73.36 L124.8,74.54 L125.3,75.76 L125.8,77.01 L126.3,78.27 L126.8,79.55 L127.3,80.83 L127.8,82.12 L128.3,83.4 L128.8,84.66 L129.3,85.91 L129.8,87.12 L130.3,88.3 L130.8,89.44 L131.3,90.53 L131.8,91.57 L132.3,92.56 L132.8,93.51 L133.3,94.41 L133.8,95.27 L134.3,96.09 L134.8,96.88 L135.3,97.62 L135.8,98.34 L136.3,99.02 L136.8,99.67 L137.3,100.29 L137.8,100.88 L138.3,101.45 L138.8,101.99 L139.3,102.51 L139.8,103.01 L140.3,103.49 L140.8,103.96 L141.3,104.41 L141.8,104.85 L142.3,105.27 L142.8,105.69 L143.3,106.1 L143.8,106.5 L144.3,106.9 L144.8,107.3 L145.3,107.69 L145.8,108.08 L146.3,108.48 L146.8,108.86 L147.3,109.25 L147.8,109.63 L148.3,110 L148.8,110.37 L149.3,110.74 L149.8,111.1 L150.3,111.45 L150.8,111.79 L151.3,112.13 L151.8,112.46 L152.3,112.77 L152.8,113.08 L153.3,113.38 L153.8,113.67 L154.3,113.94 L154.8,114.2 L155.3,114.45 L155.8,114.69 L156.3,114.91 L156.8,115.12 L157.3,115.31 L157.8,115.49 L158.3,115.65 L158.8,115.79 L159.3,115.92 L159.8,116.03 L160.3,116.12 L160.8,116.19 L161.3,116.24 L161.8,116.28 L162.3,116.29 L162.8,116.29 L163.3,116.27 L163.8,116.24 L164.3,116.19 L164.8,116.12 L165.3,116.04 L165.8,115.94 L166.3,115.83 L166.8,115.7 L167.3,115.55 L167.8,115.4 L168.3,115.22 L168.8,115.04 L169.3,114.84 L169.8,114.63 L170.3,114.41 L170.8,114.17 L171.3,113.92 L171.8,113.66 L172.3,113.39 L172.8,113.11 L173.3,112.81 L173.8,112.51 L174.3,112.2 L174.8,111.87 L175.3,111.54 L175.8,111.2 L176.3,110.85 L176.8,110.49 L177.3,110.12 L177.8,109.74 L178.3,109.36 L178.8,108.97 L179.3,108.57 L179.8,108.17 L180.3,107.75 L180.8,107.34 L181.3,106.92 L181.8,106.49 L182.3,106.06 L182.8,105.62 L183.3,105.18 L183.8,104.73 L184.3,104.28 L184.8,103.83 L185.3,103.37 L185.8,102.91 L186.3,102.45 L186.8,101.99 L187.3,101.52 L187.8,101.05 L188.3,100.58 L188.8,100.11 L189.3,99.64 L189.8,99.17 L190.3,98.7 L190.8,98.23 L191.3,97.76 L191.8,97.29 L192.3,96.82 L192.8,96.35 L193.3,95.88 L193.8,95.41 L194.3,94.94 L194.8,94.48 L195.3,94.01 L195.8,93.54 L196.3,93.08 L196.8,92.62 L197.3,92.16 L197.8,91.69 L198.3,91.24 L198.8,90.78 L199.3,90.32 L199.8,89.87 L200.3,89.41 L200.8,88.96 L201.3,88.51 L201.8,88.07 L202.3,87.62 L202.8,87.18 L203.3,86.74 L203.8,86.3 L204.3,85.87 L204.8,85.44 L205.3,85.01 L205.8,84.58 L206.3,84.16 L206.8,83.74 L207.3,83.32 L207.8,82.91 L208.3,82.5 L208.8,82.09 L209.3,81.69 L209.8,81.29 L210.3,80.89 L210.8,80.5 L211.3,80.11 L211.8,79.73 L212.3,79.35 L212.8,78.97 L213.3,78.6 L213.8,78.23 L214.3,77.87 L214.8,77.51 L215.3,77.16 L215.8,76.81 L216.3,76.47 L216.8,76.13 L217.3,75.8 L217.8,75.47 L218.3,75.15 L218.8,74.83 L219.3,74.52 L219.8,74.21 L220.3,73.91 L220.8,73.62 L221.3,73.33 L221.8,73.05 L222.3,72.77 L222.8,72.5 L223.3,72.23 L223.8,71.97 L224.3,71.72 L224.8,71.47 L225.3,71.23 L225.8,71 L226.3,70.76 L226.8,70.54 L227.3,70.32 L227.8,70.11 L228.3,69.9 L228.8,69.69 L229.3,69.49 L229.8,69.3 L230.3,69.11 L230.8,68.93 L231.3,68.75 L231.8,68.57 L232.3,68.4 L232.8,68.24 L233.3,68.08 L233.8,67.92 L234.3,67.77 L234.8,67.62 L235.3,67.48 L235.8,67.34 L236.3,67.2 L236.8,67.07 L237.3,66.94 L237.8,66.82 L238.3,66.7 L238.8,66.58 L239.3,66.47 L239.8,66.36 L240.3,66.26 L240.8,66.16 L241.3,66.06 L241.8,65.96 L242.3,65.87 L242.8,65.78 L243.3,65.7 L243.8,65.61 L244.3,65.53 L244.8,65.46 L245.3,65.38 L245.8,65.31 L246.3,65.25 L246.8,65.18 L247.3,65.12 L247.8,65.06 L248.3,65.01 L248.8,64.96 L249.3,64.91 L249.8,64.86 L250.3,64.82 L250.8,64.77 L251.3,64.74 L251.8,64.7 L252.3,64.67 L252.8,64.64 L253.3,64.61 L253.8,64.59 L254.3,64.57 L254.8,64.55 L255.3,64.53 L255.8,64.52 L256.3,64.51 L256.8,64.5 L257.3,64.49 L257.8,64.49 L258.3,64.49 L258.8,64.49 L259.3,64.5 L259.8,64.5 L260.3,64.51 L260.8,64.53 L261.3,64.54 L261.8,64.56 L262.3,64.58 L262.8,64.6 L263.3,64.62 L263.8,64.65 L264.3,64.68 L264.8,64.71 L265.3,64.74 L265.8,64.78 L266.3,64.82 L266.8,64.86 L267.3,64.9 L267.8,64.95 L268.3,64.99 L268.8,65.04 L269.3,65.1 L269.8,65.15 L270.3,65.21 L270.8,65.26 L271.3,65.32 L271.8,65.39 L272.3,65.45 L272.8,65.52 L273.3,65.58 L273.8,65.66 L274.3,65.73 L274.8,65.8 L275.3,65.88 L275.8,65.96 L276.3,66.04 L276.8,66.12 L277.3,66.2 L277.8,66.29 L278.3,66.38 L278.8,66.47 L279.3,66.56 L279.8,66.65 L280.3,66.75 L280.8,66.84 L281.3,66.94 L281.8,67.04 L282.3,67.14 L282.8,67.25 L283.3,67.35 L283.8,67.46 L284.3,67.57 L284.8,67.68 L285.3,67.79 L285.8,67.9 L286.3,68.02 L286.8,68.14 L287.3,68.25 L287.8,68.37 L288.3,68.49 L288.8,68.62 L289.3,68.74 L289.8,68.87 L290.3,68.99 L290.8,69.12 L291.3,69.25 L291.8,69.38 L292.3,69.51 L292.8,69.65 L293.3,69.78 L293.8,69.92 L294.3,70.06 L294.8,70.19 L295.3,70.33 L295.8,70.47 L296.3,70.62 L296.8,70.76 L297.3,70.91 L297.8,71.05 L298.3,71.2 L298.8,71.35 L299.3,71.5 L299.8,71.65 L300.3,71.8 L300.8,71.95 L301.3,72.1 L301.8,72.26 L302.3,72.41 L302.8,72.57 L303.3,72.73 L303.8,72.88 L304.3,73.04 L304.8,73.2 L305.3,73.36 L305.8,73.52 L306.3,73.69 L306.8,73.85 L307.3,74.01 L307.8,74.18 L308.3,74.35 L308.8,74.51 L309.3,74.68 L309.8,74.85 L310.3,75.01 L310.8,75.18 L311.3,75.35 L311.8,75.52 L312.3,75.7 L312.8,75.87 L313.3,76.04 L313.8,76.21 L314.3,76.39 L314.8,76.56 L315.3,76.73 L315.8,76.91 L316.3,77.08 L316.8,77.26 L317.3,77.44 L317.8,77.61 L318.3,77.79 L318.8,77.97 L319.3,78.14 L319.8,78.32 L320.3,78.5 L320.8,78.68 L321.3,78.86 L321.8,79.04 L322.3,79.22 L322.8,79.4 L323.3,79.58 L323.8,79.76 L324.3,79.94 L324.8,80.12 L325.3,80.3 L325.8,80.48 L326.3,80.66 L326.8,80.84 L327.3,81.02 L327.8,81.2 L328.3,81.39 L328.8,81.57 L329.3,81.75 L329.8,81.93 L330.3,82.11 L330.8,82.29 L331.3,82.47 L331.8,82.65 L332.3,82.83 L332.8,83.01 L333.3,83.2 L333.8,83.38 L334.3,83.56 L334.8,83.74 L335.3,83.92 L335.8,84.1 L336.3,84.27 L336.8,84.45 L337.3,84.63 L337.8,84.81 L338.3,84.99 L338.8,85.17 L339.3,85.34 L339.8,85.52 L340.3,85.7 L340.8,85.87 L341.3,86.05 L341.8,86.22 L342.3,86.4 L342.8,86.57 L343.3,86.75 L343.8,86.92 L344.3,87.09 L344.8,87.27 L345.3,87.44 L345.8,87.61 L346.3,87.78 L346.8,87.95 L347.3,88.12 L347.8,88.29 L348.3,88.45 L348.8,88.62 L349.3,88.79 L349.8,88.95 L350.3,89.12 L350.8,89.28 L351.3,89.44 L351.8,89.61 L352.3,89.77 L352.8,89.93 L353.3,90.09 L353.8,90.25 L354.3,90.4 L354.8,90.56 L355.3,90.72 L355.8,90.87 L356.3,91.03 L356.8,91.18 L357.3,91.33 L357.8,91.48 L358.3,91.63 L358.8,91.78 L359.3,91.93 L359.8,92.08 L360.3,92.22 L360.8,92.37 L361.3,92.51 L361.8,92.65 L362.3,92.79 L362.8,92.93 L363.3,93.07 L363.8,93.21 L364.3,93.34 L364.8,93.48 L365.3,93.61 L365.8,93.75 L366.3,93.88 L366.8,94.01 L367.3,94.14 L367.8,94.26 L368.3,94.39 L368.8,94.51 L369.3,94.64 L369.8,94.76 L370.3,94.88 L370.8,95 L371.3,95.12 L371.8,95.24 L372.3,95.36 L372.8,95.47 L373.3,95.59 L373.8,95.7 L374.3,95.81 L374.8,95.92 L375.3,96.03 L375.8,96.14 L376.3,96.25 L376.8,96.36 L377.3,96.46 L377.8,96.57 L378.3,96.67 L378.8,96.77 L379.3,96.87 L379.8,96.97 L380.3,97.07 L380.8,97.17 L381.3,97.26 L381.8,97.36 L382.3,97.45 L382.8,97.55 L383.3,97.64 L383.8,97.73 L384.3,97.82 L384.8,97.91 L385.3,98 L385.8,98.08 L386.3,98.17 L386.8,98.25 L387.3,98.33 L387.8,98.42 L388.3,98.5 L388.8,98.58 L389.3,98.66 L389.8,98.73 L390.3,98.81 L390.8,98.89 L391.3,98.96 L391.8,99.04 L392.3,99.11 L392.8,99.18 L393.3,99.25 L393.8,99.32 L394.3,99.39 L394.8,99.46 L395.3,99.52 L395.8,99.59 L396.3,99.65 L396.8,99.72 L397.3,99.78 L397.8,99.84 L398.3,99.9 L398.8,99.96 L399.3,100.02 L399.8,100.08 L400.3,100.13 L400.8,100.19 L401.3,100.24 L401.8,100.3 L402.3,100.35 L402.8,100.4 L403.3,100.45 L403.8,100.5 L404.3,100.55 L404.8,100.6 L405.3,100.64 L405.8,100.69 L406.3,100.73 L406.8,100.78 L407.3,100.82 L407.8,100.86 L408.3,100.9 L408.8,100.94 L409.3,100.98 L409.8,101.02 L410.3,101.06 L410.8,101.09 L411.3,101.13 L411.8,101.16 L412.3,101.2 L412.8,101.23 L413.3,101.26 L413.8,101.29 L414.3,101.32 L414.8,101.35 L415.3,101.38 L415.8,101.41 L416.3,101.43 L416.8,101.46 L417.3,101.49 L417.8,101.51 L418.3,101.53 L418.8,101.55 L419.3,101.58 L419.8,101.6 L420.3,101.62 L420.8,101.63 L421.3,101.65 L421.8,101.67 L422.3,101.69 L422.8,101.7 L423.3,101.71 L423.8,101.73 L424.3,101.74 L424.8,101.75 L425.3,101.76 L425.8,101.77 L426.3,101.78 L426.8,101.79 L427.3,101.8 L427.8,101.81 L428.3,101.81 L428.8,101.82 L429.3,101.82 L429.8,101.83 L430.3,101.83 L430.8,101.83 L431.3,101.84 L431.8,101.84 L432.3,101.84 L432.8,101.84 L433.3,101.83 L433.8,101.83 L434.3,101.83 L434.8,101.82 L435.3,101.82 L435.8,101.81 L436.3,101.81 L436.8,101.8 L437.3,101.79 L437.8,101.79 L438.3,101.78 L438.8,101.77 L439.3,101.76 L439.8,101.74 L440.3,101.73 L440.8,101.72 L441.3,101.71 L441.8,101.69 L442.3,101.68 L442.8,101.66 L443.3,101.64 L443.8,101.63 L444.3,101.61 L444.8,101.59 L445.3,101.57 L445.8,101.55 L446.3,101.53 L446.8,101.51 L447.3,101.49 L447.8,101.47 L448.3,101.44 L448.8,101.42 L449.3,101.39 L449.8,101.37 L450.3,101.34 L450.8,101.32 L451.3,101.29 L451.8,101.26 L452.3,101.23 L452.8,101.2 L453.3,101.17 L453.8,101.14 L454.3,101.11 L454.8,101.08 L455.3,101.05 L455.8,101.02 L456.3,100.98 L456.8,100.95 L457.3,100.91 L457.8,100.88 L458.3,100.84 L458.8,100.81 L459.3,100.77 L459.8,100.73 L460.3,100.69 L460.8,100.65 L461.3,100.61 L461.8,100.57 L462.3,100.53 L462.8,100.49 L463.3,100.45 L463.8,100.41 L464.3,100.36 L464.8,100.32 L465.3,100.28 L465.8,100.23 L466.3,100.19 L466.8,100.14 L467.3,100.09 L467.8,100.05 L468.3,100 L468.8,99.95 L469.3,99.9 L469.8,99.85 L470.3,99.8 L470.8,99.75 L471.3,99.7 L471.8,99.65 L472.3,99.6 L472.8,99.55 L473.3,99.5 L473.8,99.44 L474.3,99.39 L474.8,99.34 L475.3,99.28 L475.8,99.23 L476.3,99.17 L476.8,99.11 L477.3,99.06 L477.8,99 L478.3,98.94 L478.8,98.89 L479.3,98.83 L479.8,98.77 L480.3,98.71 L480.8,98.65 L481.3,98.59 L481.8,98.53 L482.3,98.47 L482.8,98.41 L483.3,98.35 L483.8,98.28 L484.3,98.22 L484.8,98.16 L485.3,98.09 L485.8,98.03 L486.3,97.97 L486.8,97.9 L487.3,97.84 L487.8,97.77 L488.3,97.7 L488.8,97.64 L489.3,97.57 L489.8,97.5 L490.3,97.44 L490.8,97.37 L491.3,97.3 L491.8,97.23 L492.3,97.16 L492.8,97.09 L493.3,97.02 L493.8,96.95 L494.3,96.88 L494.8,96.81 L495.3,96.74 L495.8,96.67 L496.3,96.6 L496.8,96.53 L497.3,96.46 L497.8,96.38 L498.3,96.31 L498.8,96.24 L499.3,96.16 L499.8,96.09 L500.3,96.01 L500.8,95.94 L501.3,95.87 L501.8,95.79 L502.3,95.71 L502.8,95.64 L503.3,95.56 L503.8,95.49 L504.3,95.41 L504.8,95.33 L505.3,95.26 L505.8,95.18 L506.3,95.1 L506.8,95.02 L507.3,94.94 L507.8,94.87 L508.3,94.79 L508.8,94.71 L509.3,94.63 L509.8,94.55 L510.3,94.47 L510.8,94.39 L511.3,94.31 L511.8,94.23 L512.3,94.15 L512.8,94.07 L513.3,93.99 L513.8,93.91 L514.3,93.83 L514.8,93.74 L515.3,93.66 L515.8,93.58 L516.3,93.5 L516.8,93.42 L517.3,93.33 L517.8,93.25 L518.3,93.17 L518.8,93.08 L519.3,93 L519.8,92.92 L520.3,92.83 L520.8,92.75 L521.3,92.67 L521.8,92.58 L522.3,92.5 L522.8,92.41 L523.3,92.33 L523.8,92.25 L524.3,92.16 L524.8,92.08 L525.3,91.99 L525.8,91.91 L526.3,91.82 L526.8,91.73 L527.3,91.65 L527.8,91.56 L528.3,91.48 L528.8,91.39 L529.3,91.31 L529.8,91.22 L530.3,91.13 L530.8,91.05 L531.3,90.96 L531.8,90.88 L532.3,90.79 L532.8,90.7 L533.3,90.62 L533.8,90.53 L534.3,90.44 L534.8,90.36 L535.3,90.27 L535.8,90.18 L536.3,90.1 L536.8,90.01 L537.3,89.92 L537.8,89.83 L538.3,89.75 L538.8,89.66 L539.3,89.57 L539.8,89.49 L540.3,89.4 L540.8,89.31 L541.3,89.22 L541.8,89.14 L542.3,89.05 L542.8,88.96 L543.3,88.88 L543.8,88.79 L544.3,88.7 L544.8,88.61 L545.3,88.53 L545.8,88.44 L546.3,88.35 L546.8,88.27 L547.3,88.18 L547.8,88.09 L548.3,88.01 L548.8,87.92 L549.3,87.83 L549.8,87.74 L550.3,87.66 L550.8,87.57 L551.3,87.48 L551.8,87.4 L552.3,87.31 L552.8,87.22 L553.3,87.14 L553.8,87.05 L554.3,86.97 L554.8,86.88 L555.3,86.79 L555.8,86.71 L556.3,86.62 L556.8,86.54 L557.3,86.45 L557.8,86.36 L558.3,86.28 L558.8,86.19 L559.3,86.11 L559.8,86.02 L560.3,85.94 L560.8,85.85 L561.3,85.77 L561.8,85.68 L562.3,85.6 L562.8,85.51 L563.3,85.43 L563.8,85.35 L564.3,85.26 L564.8,85.18 L565.3,85.1 L565.8,85.01 L566.3,84.93 L566.8,84.85 L567.3,84.76 L567.8,84.68 L568.3,84.6 L568.8,84.52 L569.3,84.43 L569.8,84.35 L570.3,84.27 L570.8,84.19 L571.3,84.11 L571.8,84.03 L572.3,83.94 L572.8,83.86 L573.3,83.78 L573.8,83.7 L574.3,83.62 L574.8,83.54 L575.3,83.46 L575.8,83.38 L576.3,83.3 L576.8,83.23 L577.3,83.15 L577.8,83.07 L578.3,82.99 L578.8,82.91 L579.3,82.83 L579.8,82.76 L580.3,82.68 L580.8,82.6 L581.3,82.53 L581.8,82.45 L582.3,82.37 L582.8,82.3 L583.3,82.22 L583.8,82.15 L584.3,82.07 L584.8,82 L585.3,81.92 L585.8,81.85 L586.3,81.78 L586.8,81.7 L587.3,81.63 L587.8,81.56 L588.3,81.48 L588.8,81.41 L589.3,81.34 L589.8,81.27 L590.3,81.2 L590.8,81.13 L591.3,81.06 L591.8,80.99 L592.3,80.92 L592.8,80.85 L593.3,80.78 L593.8,80.71 L594.3,80.64 L594.8,80.57 L595.3,80.51 L595.8,80.44 L596.3,80.37 L596.8,80.31 L597.3,80.24 L597.8,80.18 L598.3,80.11 L598.8,80.05 L599.3,79.98 L599.8,79.92 L600.3,79.85 L600.8,79.79 L601.3,79.73 L601.8,79.67 L602.3,79.6 L602.8,79.54 L603.3,79.48 L603.8,79.42 L604.3,79.36 L604.8,79.3 L605.3,79.24 L605.8,79.18 L606.3,79.12 L606.8,79.07 L607.3,79.01 L607.8,78.95 L608.3,78.9 L608.8,78.84 L609.3,78.78 L609.8,78.73 L610.3,78.67 L610.8,78.62 L611.3,78.57 L611.8,78.51 L612.3,78.46 L612.8,78.41 L613.3,78.36 L613.8,78.31 L614.3,78.26 L614.8,78.21 L615.3,78.16 L615.8,78.11 L616.3,78.06 L616.8,78.01 L617.3,77.96 L617.8,77.92 L618.3,77.87 L618.8,77.82 L619.3,77.78 L619.8,77.73 L620.3,77.69 L620.8,77.65 L621.3,77.6 L621.8,77.56 L622.3,77.52 L622.8,77.48 L623.3,77.44 L623.8,77.4 L624.3,77.36 L624.8,77.32 L625.3,77.28 L625.8,77.24 L626.3,77.2 L626.8,77.17 L627.3,77.13 L627.8,77.1 L628.3,77.06 L628.8,77.03 L629.3,76.99 L629.8,76.96 L630.3,76.93 L630.8,76.9 L631.3,76.86 L631.8,76.83 L632.3,76.8 L632.8,76.77 L633.3,76.75 L633.8,76.72 L634.3,76.69 L634.8,76.66 L635.3,76.64 L635.8,76.61 L636.3,76.59 L636.8,76.56 L637.3,76.54 L637.8,76.52 L638.3,76.5 L638.8,76.48 L639.3,76.46 L639.8,76.44 L640.3,76.42 L640.8,76.4 L641.3,76.38 L641.8,76.36 L642.3,76.35 L642.8,76.33 L643.3,76.32 L643.8,76.3 L644.3,76.29 L644.8,76.28 L645.3,76.26 L645.8,76.25 L646.3,76.24 L646.8,76.23 L647.3,76.22 L647.8,76.22 L648.3,76.21 L648.8,76.2 L649.3,76.19 L649.8,76.19 L650.3,76.19 L650.8,76.18 L651.3,76.18 L651.8,76.18 L652.3,76.18 L652.8,76.17 L653.3,76.17 L653.8,76.18 L654.3,76.18 L654.8,76.18 L655.3,76.18 L655.8,76.19 L656.3,76.19 L656.8,76.2 L657.3,76.21 L657.8,76.21 L658.3,76.22 L658.8,76.23 L659.3,76.24 L659.8,76.25 L660.3,76.26 L660.8,76.28 L661.3,76.29 L661.8,76.3 L662.3,76.32 L662.8,76.33 L663.3,76.35 L663.8,76.37 L664.3,76.39 L664.8,76.41 L665.3,76.43 L665.8,76.45 L666.3,76.47 L666.8,76.49 L667.3,76.52 L667.8,76.54 L668.3,76.57 L668.8,76.59 L669.3,76.62 L669.8,76.65 L670.3,76.68 L670.8,76.71 L671.3,76.74 L671.8,76.77 L672.3,76.8 L672.8,76.84 L673.3,76.87 L673.4,76.88" fill="none" stroke="#ff8444" stroke-width="1.05" stroke-linejoin="round" stroke-linecap="round" />
<path d="M62.5,87.01 L63,90.11 L63.5,92.57 L64,94.44 L64.5,95.76 L65,96.6 L65.5,96.99 L66,96.98 L66.5,96.63 L67,95.97 L67.5,95.06 L68,93.96 L68.5,92.69 L69,91.32 L69.5,89.9 L70,88.46 L70.5,87.06 L71,85.76 L71.5,84.58 L72,83.6 L72.5,82.84 L73,82.37 L73.5,82.19 L74,82.29 L74.5,82.63 L75,83.19 L75.5,83.94 L76,84.85 L76.5,85.89 L77,87.04 L77.5,88.27 L78,89.55 L78.5,90.86 L79,92.16 L79.5,93.44 L80,94.65 L80.5,95.78 L81,96.79 L81.5,97.66 L82,98.37 L82.5,98.88 L83,99.17 L83.5,99.25 L84,99.13 L84.5,98.86 L85,98.43 L85.5,97.89 L86,97.24 L86.5,96.52 L87,95.74 L87.5,94.93 L88,94.11 L88.5,93.29 L89,92.47 L89.5,91.63 L90,90.77 L90.5,89.86 L91,88.9 L91.5,87.86 L92,86.75 L92.5,85.58 L93,84.36 L93.5,83.11 L94,81.84 L94.5,80.59 L95,79.35 L95.5,78.14 L96,76.95 L96.5,75.78 L97,74.65 L97.5,73.54 L98,72.46 L98.5,71.4 L99,70.38 L99.5,69.38 L100,68.42 L100.5,67.49 L101,66.58 L101.5,65.72 L102,64.88 L102.5,64.08 L103,63.31 L103.5,62.57 L104,61.87 L104.5,61.21 L105,60.58 L105.5,59.99 L106,59.43 L106.5,58.92 L107,58.44 L107.5,57.99 L108,57.59 L108.5,57.23 L109,56.91 L109.5,56.62 L110,56.38 L110.5,56.18 L111,56.03 L111.5,55.91 L112,55.84 L112.5,55.81 L113,55.83 L113.5,55.89 L114,55.99 L114.5,56.14 L115,56.34 L115.5,56.58 L116,56.87 L116.5,57.21 L117,57.6 L117.5,58.06 L118,58.58 L118.5,59.18 L119,59.86 L119.5,60.63 L120,61.5 L120.5,62.47 L121,63.55 L121.5,64.71 L122,65.95 L122.5,67.25 L123,68.59 L123.5,69.97 L124,71.35 L124.5,72.74 L125,74.14 L125.5,75.57 L126,77.04 L126.5,78.56 L127,80.14 L127.5,81.81 L128,83.53 L128.5,85.28 L129,87.06 L129.5,88.82 L130,90.56 L130.5,92.26 L131,93.88 L131.5,95.42 L132,96.89 L132.5,98.28 L133,99.59 L133.5,100.84 L134,102.02 L134.5,103.13 L135,104.18 L135.5,105.18 L136,106.12 L136.5,107 L137,107.84 L137.5,108.63 L138,109.37 L138.5,110.07 L139,110.73 L139.5,111.36 L140,111.95 L140.5,112.51 L141,113.05 L141.5,113.56 L142,114.05 L142.5,114.52 L143,114.97 L143.5,115.41 L144,115.84 L144.5,116.26 L145,116.67 L145.5,117.08 L146,117.49 L146.5,117.89 L147,118.29 L147.5,118.67 L148,119.06 L148.5,119.43 L149,119.8 L149.5,120.16 L150,120.5 L150.5,120.84 L151,121.17 L151.5,121.49 L152,121.8 L152.5,122.09 L153,122.38 L153.5,122.65 L154,122.91 L154.5,123.15 L155,123.38 L155.5,123.59 L156,123.79 L156.5,123.97 L157,124.14 L157.5,124.29 L158,124.42 L158.5,124.54 L159,124.63 L159.5,124.71 L160,124.76 L160.5,124.8 L161,124.82 L161.5,124.81 L162,124.79 L162.5,124.75 L163,124.69 L163.5,124.61 L164,124.52 L164.5,124.4 L165,124.27 L165.5,124.12 L166,123.95 L166.5,123.77 L167,123.57 L167.5,123.36 L168,123.13 L168.5,122.88 L169,122.62 L169.5,122.35 L170,122.06 L170.5,121.75 L171,121.44 L171.5,121.11 L172,120.76 L172.5,120.4 L173,120.04 L173.5,119.65 L174,119.26 L174.5,118.85 L175,118.44 L175.5,118.01 L176,117.57 L176.5,117.12 L177,116.66 L177.5,116.19 L178,115.71 L178.5,115.23 L179,114.73 L179.5,114.22 L180,113.71 L180.5,113.19 L181,112.66 L181.5,112.12 L182,111.58 L182.5,111.03 L183,110.47 L183.5,109.91 L184,109.34 L184.5,108.76 L185,108.18 L185.5,107.6 L186,107.01 L186.5,106.41 L187,105.81 L187.5,105.21 L188,104.61 L188.5,104 L189,103.39 L189.5,102.77 L190,102.16 L190.5,101.54 L191,100.92 L191.5,100.3 L192,99.68 L192.5,99.06 L193,98.43 L193.5,97.81 L194,97.19 L194.5,96.56 L195,95.94 L195.5,95.32 L196,94.69 L196.5,94.07 L197,93.45 L197.5,92.83 L198,92.21 L198.5,91.59 L199,90.98 L199.5,90.36 L200,89.75 L200.5,89.14 L201,88.53 L201.5,87.92 L202,87.31 L202.5,86.71 L203,86.11 L203.5,85.51 L204,84.92 L204.5,84.33 L205,83.74 L205.5,83.15 L206,82.57 L206.5,81.99 L207,81.42 L207.5,80.85 L208,80.28 L208.5,79.72 L209,79.16 L209.5,78.61 L210,78.06 L210.5,77.52 L211,76.98 L211.5,76.44 L212,75.91 L212.5,75.39 L213,74.87 L213.5,74.36 L214,73.86 L214.5,73.36 L215,72.86 L215.5,72.37 L216,71.89 L216.5,71.42 L217,70.95 L217.5,70.49 L218,70.04 L218.5,69.59 L219,69.15 L219.5,68.72 L220,68.3 L220.5,67.88 L221,67.47 L221.5,67.07 L222,66.68 L222.5,66.3 L223,65.92 L223.5,65.55 L224,65.19 L224.5,64.84 L225,64.5 L225.5,64.16 L226,63.84 L226.5,63.52 L227,63.2 L227.5,62.9 L228,62.6 L228.5,62.31 L229,62.03 L229.5,61.75 L230,61.48 L230.5,61.22 L231,60.96 L231.5,60.71 L232,60.47 L232.5,60.23 L233,60 L233.5,59.78 L234,59.56 L234.5,59.35 L235,59.14 L235.5,58.94 L236,58.75 L236.5,58.56 L237,58.37 L237.5,58.2 L238,58.02 L238.5,57.86 L239,57.69 L239.5,57.54 L240,57.39 L240.5,57.24 L241,57.1 L241.5,56.96 L242,56.83 L242.5,56.7 L243,56.57 L243.5,56.45 L244,56.34 L244.5,56.23 L245,56.12 L245.5,56.02 L246,55.92 L246.5,55.83 L247,55.74 L247.5,55.65 L248,55.57 L248.5,55.49 L249,55.42 L249.5,55.35 L250,55.29 L250.5,55.22 L251,55.17 L251.5,55.11 L252,55.07 L252.5,55.02 L253,54.98 L253.5,54.94 L254,54.91 L254.5,54.88 L255,54.85 L255.5,54.83 L256,54.81 L256.5,54.8 L257,54.79 L257.5,54.78 L258,54.78 L258.5,54.78 L259,54.78 L259.5,54.79 L260,54.8 L260.5,54.82 L261,54.83 L261.5,54.86 L262,54.88 L262.5,54.91 L263,54.94 L263.5,54.98 L264,55.01 L264.5,55.06 L265,55.1 L265.5,55.15 L266,55.2 L266.5,55.26 L267,55.31 L267.5,55.38 L268,55.44 L268.5,55.51 L269,55.58 L269.5,55.65 L270,55.73 L270.5,55.81 L271,55.89 L271.5,55.98 L272,56.07 L272.5,56.16 L273,56.25 L273.5,56.35 L274,56.45 L274.5,56.55 L275,56.66 L275.5,56.77 L276,56.88 L276.5,56.99 L277,57.11 L277.5,57.23 L278,57.35 L278.5,57.48 L279,57.6 L279.5,57.73 L280,57.87 L280.5,58 L281,58.14 L281.5,58.28 L282,58.42 L282.5,58.57 L283,58.71 L283.5,58.86 L284,59.01 L284.5,59.17 L285,59.33 L285.5,59.48 L286,59.65 L286.5,59.81 L287,59.97 L287.5,60.14 L288,60.31 L288.5,60.48 L289,60.66 L289.5,60.83 L290,61.01 L290.5,61.19 L291,61.37 L291.5,61.56 L292,61.74 L292.5,61.93 L293,62.12 L293.5,62.31 L294,62.51 L294.5,62.7 L295,62.9 L295.5,63.1 L296,63.3 L296.5,63.5 L297,63.7 L297.5,63.91 L298,64.12 L298.5,64.32 L299,64.53 L299.5,64.75 L300,64.96 L300.5,65.17 L301,65.39 L301.5,65.61 L302,65.83 L302.5,66.05 L303,66.27 L303.5,66.49 L304,66.72 L304.5,66.94 L305,67.17 L305.5,67.4 L306,67.63 L306.5,67.86 L307,68.09 L307.5,68.33 L308,68.56 L308.5,68.8 L309,69.03 L309.5,69.27 L310,69.51 L310.5,69.75 L311,69.99 L311.5,70.23 L312,70.47 L312.5,70.72 L313,70.96 L313.5,71.21 L314,71.45 L314.5,71.7 L315,71.95 L315.5,72.19 L316,72.44 L316.5,72.69 L317,72.94 L317.5,73.19 L318,73.45 L318.5,73.7 L319,73.95 L319.5,74.2 L320,74.46 L320.5,74.71 L321,74.97 L321.5,75.22 L322,75.48 L322.5,75.73 L323,75.99 L323.5,76.25 L324,76.5 L324.5,76.76 L325,77.02 L325.5,77.28 L326,77.53 L326.5,77.79 L327,78.05 L327.5,78.31 L328,78.57 L328.5,78.83 L329,79.09 L329.5,79.34 L330,79.6 L330.5,79.86 L331,80.12 L331.5,80.38 L332,80.64 L332.5,80.9 L333,81.15 L333.5,81.41 L334,81.67 L334.5,81.93 L335,82.19 L335.5,82.44 L336,82.7 L336.5,82.96 L337,83.21 L337.5,83.47 L338,83.72 L338.5,83.98 L339,84.23 L339.5,84.49 L340,84.74 L340.5,84.99 L341,85.25 L341.5,85.5 L342,85.75 L342.5,86 L343,86.25 L343.5,86.5 L344,86.75 L344.5,87 L345,87.24 L345.5,87.49 L346,87.74 L346.5,87.98 L347,88.23 L347.5,88.47 L348,88.71 L348.5,88.95 L349,89.19 L349.5,89.43 L350,89.67 L350.5,89.91 L351,90.14 L351.5,90.38 L352,90.61 L352.5,90.85 L353,91.08 L353.5,91.31 L354,91.54 L354.5,91.77 L355,91.99 L355.5,92.22 L356,92.44 L356.5,92.67 L357,92.89 L357.5,93.11 L358,93.33 L358.5,93.54 L359,93.76 L359.5,93.97 L360,94.19 L360.5,94.4 L361,94.61 L361.5,94.82 L362,95.02 L362.5,95.23 L363,95.43 L363.5,95.63 L364,95.83 L364.5,96.03 L365,96.23 L365.5,96.42 L366,96.62 L366.5,96.81 L367,97 L367.5,97.19 L368,97.37 L368.5,97.56 L369,97.74 L369.5,97.92 L370,98.1 L370.5,98.28 L371,98.46 L371.5,98.64 L372,98.81 L372.5,98.98 L373,99.15 L373.5,99.32 L374,99.49 L374.5,99.65 L375,99.82 L375.5,99.98 L376,100.14 L376.5,100.3 L377,100.46 L377.5,100.62 L378,100.77 L378.5,100.92 L379,101.08 L379.5,101.23 L380,101.37 L380.5,101.52 L381,101.67 L381.5,101.81 L382,101.95 L382.5,102.09 L383,102.23 L383.5,102.37 L384,102.51 L384.5,102.64 L385,102.77 L385.5,102.91 L386,103.04 L386.5,103.17 L387,103.29 L387.5,103.42 L388,103.54 L388.5,103.67 L389,103.79 L389.5,103.91 L390,104.02 L390.5,104.14 L391,104.26 L391.5,104.37 L392,104.48 L392.5,104.59 L393,104.7 L393.5,104.81 L394,104.92 L394.5,105.02 L395,105.13 L395.5,105.23 L396,105.33 L396.5,105.43 L397,105.53 L397.5,105.63 L398,105.72 L398.5,105.81 L399,105.91 L399.5,106 L400,106.09 L400.5,106.18 L401,106.26 L401.5,106.35 L402,106.43 L402.5,106.51 L403,106.6 L403.5,106.68 L404,106.75 L404.5,106.83 L405,106.91 L405.5,106.98 L406,107.05 L406.5,107.13 L407,107.2 L407.5,107.26 L408,107.33 L408.5,107.4 L409,107.46 L409.5,107.53 L410,107.59 L410.5,107.65 L411,107.71 L411.5,107.77 L412,107.83 L412.5,107.88 L413,107.94 L413.5,107.99 L414,108.04 L414.5,108.09 L415,108.14 L415.5,108.19 L416,108.23 L416.5,108.28 L417,108.32 L417.5,108.37 L418,108.41 L418.5,108.45 L419,108.49 L419.5,108.53 L420,108.56 L420.5,108.6 L421,108.63 L421.5,108.66 L422,108.7 L422.5,108.73 L423,108.75 L423.5,108.78 L424,108.81 L424.5,108.83 L425,108.86 L425.5,108.88 L426,108.9 L426.5,108.92 L427,108.94 L427.5,108.96 L428,108.98 L428.5,108.99 L429,109.01 L429.5,109.02 L430,109.03 L430.5,109.04 L431,109.05 L431.5,109.06 L432,109.07 L432.5,109.08 L433,109.08 L433.5,109.09 L434,109.09 L434.5,109.09 L435,109.09 L435.5,109.09 L436,109.09 L436.5,109.09 L437,109.08 L437.5,109.08 L438,109.07 L438.5,109.06 L439,109.05 L439.5,109.04 L440,109.03 L440.5,109.02 L441,109.01 L441.5,109 L442,108.98 L442.5,108.96 L443,108.95 L443.5,108.93 L444,108.91 L444.5,108.89 L445,108.87 L445.5,108.84 L446,108.82 L446.5,108.8 L447,108.77 L447.5,108.74 L448,108.72 L448.5,108.69 L449,108.66 L449.5,108.63 L450,108.59 L450.5,108.56 L451,108.53 L451.5,108.49 L452,108.45 L452.5,108.42 L453,108.38 L453.5,108.34 L454,108.3 L454.5,108.26 L455,108.22 L455.5,108.17 L456,108.13 L456.5,108.08 L457,108.04 L457.5,107.99 L458,107.94 L458.5,107.89 L459,107.84 L459.5,107.79 L460,107.74 L460.5,107.69 L461,107.63 L461.5,107.58 L462,107.52 L462.5,107.47 L463,107.41 L463.5,107.35 L464,107.29 L464.5,107.23 L465,107.17 L465.5,107.11 L466,107.04 L466.5,106.98 L467,106.92 L467.5,106.85 L468,106.78 L468.5,106.72 L469,106.65 L469.5,106.58 L470,106.51 L470.5,106.44 L471,106.37 L471.5,106.3 L472,106.22 L472.5,106.15 L473,106.07 L473.5,106 L474,105.92 L474.5,105.85 L475,105.77 L475.5,105.69 L476,105.61 L476.5,105.53 L477,105.45 L477.5,105.37 L478,105.28 L478.5,105.2 L479,105.12 L479.5,105.03 L480,104.95 L480.5,104.86 L481,104.77 L481.5,104.69 L482,104.6 L482.5,104.51 L483,104.42 L483.5,104.33 L484,104.24 L484.5,104.15 L485,104.06 L485.5,103.96 L486,103.87 L486.5,103.77 L487,103.68 L487.5,103.58 L488,103.49 L488.5,103.39 L489,103.29 L489.5,103.2 L490,103.1 L490.5,103 L491,102.9 L491.5,102.8 L492,102.7 L492.5,102.59 L493,102.49 L493.5,102.39 L494,102.29 L494.5,102.18 L495,102.08 L495.5,101.97 L496,101.87 L496.5,101.76 L497,101.65 L497.5,101.55 L498,101.44 L498.5,101.33 L499,101.22 L499.5,101.11 L500,101 L500.5,100.89 L501,100.78 L501.5,100.67 L502,100.56 L502.5,100.45 L503,100.33 L503.5,100.22 L504,100.11 L504.5,99.99 L505,99.88 L505.5,99.76 L506,99.65 L506.5,99.53 L507,99.42 L507.5,99.3 L508,99.18 L508.5,99.07 L509,98.95 L509.5,98.83 L510,98.71 L510.5,98.59 L511,98.47 L511.5,98.35 L512,98.23 L512.5,98.11 L513,97.99 L513.5,97.87 L514,97.75 L514.5,97.63 L515,97.5 L515.5,97.38 L516,97.26 L516.5,97.13 L517,97.01 L517.5,96.89 L518,96.76 L518.5,96.64 L519,96.51 L519.5,96.39 L520,96.26 L520.5,96.14 L521,96.01 L521.5,95.89 L522,95.76 L522.5,95.63 L523,95.51 L523.5,95.38 L524,95.25 L524.5,95.12 L525,94.99 L525.5,94.87 L526,94.74 L526.5,94.61 L527,94.48 L527.5,94.35 L528,94.22 L528.5,94.09 L529,93.96 L529.5,93.84 L530,93.71 L530.5,93.58 L531,93.45 L531.5,93.31 L532,93.18 L532.5,93.05 L533,92.92 L533.5,92.79 L534,92.66 L534.5,92.53 L535,92.4 L535.5,92.27 L536,92.14 L536.5,92.01 L537,91.87 L537.5,91.74 L538,91.61 L538.5,91.48 L539,91.35 L539.5,91.21 L540,91.08 L540.5,90.95 L541,90.82 L541.5,90.69 L542,90.55 L542.5,90.42 L543,90.29 L543.5,90.16 L544,90.02 L544.5,89.89 L545,89.76 L545.5,89.63 L546,89.5 L546.5,89.36 L547,89.23 L547.5,89.1 L548,88.97 L548.5,88.83 L549,88.7 L549.5,88.57 L550,88.44 L550.5,88.31 L551,88.17 L551.5,88.04 L552,87.91 L552.5,87.78 L553,87.65 L553.5,87.52 L554,87.39 L554.5,87.25 L555,87.12 L555.5,86.99 L556,86.86 L556.5,86.73 L557,86.6 L557.5,86.47 L558,86.34 L558.5,86.21 L559,86.08 L559.5,85.95 L560,85.82 L560.5,85.69 L561,85.56 L561.5,85.43 L562,85.3 L562.5,85.17 L563,85.04 L563.5,84.92 L564,84.79 L564.5,84.66 L565,84.53 L565.5,84.4 L566,84.28 L566.5,84.15 L567,84.02 L567.5,83.9 L568,83.77 L568.5,83.64 L569,83.52 L569.5,83.39 L570,83.27 L570.5,83.14 L571,83.02 L571.5,82.89 L572,82.77 L572.5,82.64 L573,82.52 L573.5,82.4 L574,82.27 L574.5,82.15 L575,82.03 L575.5,81.91 L576,81.79 L576.5,81.66 L577,81.54 L577.5,81.42 L578,81.3 L578.5,81.18 L579,81.06 L579.5,80.95 L580,80.83 L580.5,80.71 L581,80.59 L581.5,80.47 L582,80.36 L582.5,80.24 L583,80.12 L583.5,80.01 L584,79.89 L584.5,79.78 L585,79.66 L585.5,79.55 L586,79.44 L586.5,79.32 L587,79.21 L587.5,79.1 L588,78.99 L588.5,78.87 L589,78.76 L589.5,78.65 L590,78.54 L590.5,78.44 L591,78.33 L591.5,78.22 L592,78.11 L592.5,78 L593,77.9 L593.5,77.79 L594,77.69 L594.5,77.58 L595,77.48 L595.5,77.37 L596,77.27 L596.5,77.17 L597,77.06 L597.5,76.96 L598,76.86 L598.5,76.76 L599,76.66 L599.5,76.56 L600,76.46 L600.5,76.37 L601,76.27 L601.5,76.17 L602,76.08 L602.5,75.98 L603,75.89 L603.5,75.79 L604,75.7 L604.5,75.6 L605,75.51 L605.5,75.42 L606,75.33 L606.5,75.24 L607,75.15 L607.5,75.06 L608,74.97 L608.5,74.89 L609,74.8 L609.5,74.71 L610,74.63 L610.5,74.54 L611,74.46 L611.5,74.38 L612,74.3 L612.5,74.21 L613,74.13 L613.5,74.05 L614,73.97 L614.5,73.9 L615,73.82 L615.5,73.74 L616,73.66 L616.5,73.59 L617,73.51 L617.5,73.44 L618,73.37 L618.5,73.3 L619,73.22 L619.5,73.15 L620,73.08 L620.5,73.02 L621,72.95 L621.5,72.88 L622,72.81 L622.5,72.75 L623,72.69 L623.5,72.62 L624,72.56 L624.5,72.5 L625,72.44 L625.5,72.38 L626,72.32 L626.5,72.26 L627,72.2 L627.5,72.14 L628,72.09 L628.5,72.03 L629,71.98 L629.5,71.93 L630,71.88 L630.5,71.83 L631,71.78 L631.5,71.73 L632,71.68 L632.5,71.63 L633,71.59 L633.5,71.54 L634,71.5 L634.5,71.45 L635,71.41 L635.5,71.37 L636,71.33 L636.5,71.29 L637,71.25 L637.5,71.22 L638,71.18 L638.5,71.15 L639,71.11 L639.5,71.08 L640,71.05 L640.5,71.02 L641,70.99 L641.5,70.96 L642,70.93 L642.5,70.9 L643,70.88 L643.5,70.85 L644,70.83 L644.5,70.81 L645,70.79 L645.5,70.77 L646,70.75 L646.5,70.73 L647,70.72 L647.5,70.7 L648,70.69 L648.5,70.67 L649,70.66 L649.5,70.65 L650,70.64 L650.5,70.63 L651,70.63 L651.5,70.62 L652,70.62 L652.5,70.61 L653,70.61 L653.5,70.61 L654,70.61 L654.5,70.61 L655,70.61 L655.5,70.62 L656,70.62 L656.5,70.63 L657,70.64 L657.5,70.64 L658,70.65 L658.5,70.67 L659,70.68 L659.5,70.69 L660,70.71 L660.5,70.72 L661,70.74 L661.5,70.76 L662,70.78 L662.5,70.8 L663,70.82 L663.5,70.85 L664,70.87 L664.5,70.9 L665,70.93 L665.5,70.96 L666,70.99 L666.5,71.02 L667,71.05 L667.5,71.09 L668,71.12 L668.5,71.16 L669,71.2 L669.5,71.24 L670,71.28 L670.5,71.33 L671,71.37 L671.5,71.42 L672,71.46 L672.5,71.51 L673,71.56 L673.4,71.6" fill="none" stroke="#ffb431" stroke-width="1.05" stroke-linejoin="round" stroke-linecap="round" />
<path d="M61.8,86.41 L62.3,90.53 L62.8,93.91 L63.3,96.6 L63.8,98.65 L64.3,100.12 L64.8,101.04 L65.3,101.47 L65.8,101.46 L66.3,101.06 L66.8,100.31 L67.3,99.26 L67.8,97.97 L68.3,96.48 L68.8,94.85 L69.3,93.11 L69.8,91.33 L70.3,89.54 L70.8,87.8 L71.3,86.17 L71.8,84.67 L72.3,83.37 L72.8,82.32 L73.3,81.56 L73.8,81.14 L74.3,81.06 L74.8,81.29 L75.3,81.8 L75.8,82.55 L76.3,83.5 L76.8,84.63 L77.3,85.91 L77.8,87.29 L78.3,88.74 L78.8,90.23 L79.3,91.73 L79.8,93.21 L80.3,94.62 L80.8,95.94 L81.3,97.13 L81.8,98.16 L82.3,99 L82.8,99.61 L83.3,99.96 L83.8,100.05 L84.3,99.91 L84.8,99.56 L85.3,99.03 L85.8,98.35 L86.3,97.53 L86.8,96.62 L87.3,95.62 L87.8,94.58 L88.3,93.49 L88.8,92.36 L89.3,91.19 L89.8,89.98 L90.3,88.71 L90.8,87.4 L91.3,86.04 L91.8,84.64 L92.3,83.18 L92.8,81.69 L93.3,80.19 L93.8,78.7 L94.3,77.24 L94.8,75.84 L95.3,74.5 L95.8,73.22 L96.3,71.98 L96.8,70.79 L97.3,69.63 L97.8,68.51 L98.3,67.42 L98.8,66.36 L99.3,65.34 L99.8,64.36 L100.3,63.42 L100.8,62.54 L101.3,61.71 L101.8,60.93 L102.3,60.2 L102.8,59.51 L103.3,58.87 L103.8,58.26 L104.3,57.69 L104.8,57.15 L105.3,56.64 L105.8,56.15 L106.3,55.69 L106.8,55.24 L107.3,54.81 L107.8,54.39 L108.3,53.98 L108.8,53.58 L109.3,53.19 L109.8,52.83 L110.3,52.5 L110.8,52.21 L111.3,51.96 L111.8,51.76 L112.3,51.61 L112.8,51.53 L113.3,51.52 L113.8,51.58 L114.3,51.72 L114.8,51.95 L115.3,52.28 L115.8,52.71 L116.3,53.24 L116.8,53.89 L117.3,54.63 L117.8,55.48 L118.3,56.42 L118.8,57.45 L119.3,58.56 L119.8,59.76 L120.3,61.02 L120.8,62.35 L121.3,63.75 L121.8,65.21 L122.3,66.71 L122.8,68.27 L123.3,69.87 L123.8,71.5 L124.3,73.17 L124.8,74.87 L125.3,76.6 L125.8,78.36 L126.3,80.15 L126.8,81.97 L127.3,83.82 L127.8,85.7 L128.3,87.59 L128.8,89.47 L129.3,91.34 L129.8,93.19 L130.3,94.99 L130.8,96.75 L131.3,98.44 L131.8,100.07 L132.3,101.65 L132.8,103.16 L133.3,104.61 L133.8,106.01 L134.3,107.36 L134.8,108.65 L135.3,109.89 L135.8,111.08 L136.3,112.23 L136.8,113.32 L137.3,114.37 L137.8,115.38 L138.3,116.35 L138.8,117.28 L139.3,118.16 L139.8,119.01 L140.3,119.83 L140.8,120.61 L141.3,121.36 L141.8,122.07 L142.3,122.76 L142.8,123.42 L143.3,124.06 L143.8,124.66 L144.3,125.25 L144.8,125.81 L145.3,126.36 L145.8,126.88 L146.3,127.38 L146.8,127.86 L147.3,128.32 L147.8,128.76 L148.3,129.19 L148.8,129.59 L149.3,129.96 L149.8,130.32 L150.3,130.66 L150.8,130.98 L151.3,131.28 L151.8,131.56 L152.3,131.81 L152.8,132.05 L153.3,132.27 L153.8,132.46 L154.3,132.64 L154.8,132.8 L155.3,132.93 L155.8,133.05 L156.3,133.14 L156.8,133.22 L157.3,133.27 L157.8,133.31 L158.3,133.32 L158.8,133.31 L159.3,133.29 L159.8,133.24 L160.3,133.17 L160.8,133.08 L161.3,132.98 L161.8,132.85 L162.3,132.71 L162.8,132.54 L163.3,132.36 L163.8,132.16 L164.3,131.94 L164.8,131.7 L165.3,131.45 L165.8,131.18 L166.3,130.89 L166.8,130.58 L167.3,130.26 L167.8,129.92 L168.3,129.57 L168.8,129.2 L169.3,128.82 L169.8,128.42 L170.3,128.01 L170.8,127.58 L171.3,127.14 L171.8,126.69 L172.3,126.22 L172.8,125.74 L173.3,125.25 L173.8,124.74 L174.3,124.23 L174.8,123.7 L175.3,123.15 L175.8,122.6 L176.3,122.04 L176.8,121.47 L177.3,120.88 L177.8,120.29 L178.3,119.68 L178.8,119.07 L179.3,118.45 L179.8,117.82 L180.3,117.17 L180.8,116.53 L181.3,115.87 L181.8,115.21 L182.3,114.53 L182.8,113.85 L183.3,113.17 L183.8,112.48 L184.3,111.78 L184.8,111.07 L185.3,110.36 L185.8,109.65 L186.3,108.93 L186.8,108.2 L187.3,107.47 L187.8,106.74 L188.3,106 L188.8,105.26 L189.3,104.51 L189.8,103.76 L190.3,103.01 L190.8,102.26 L191.3,101.5 L191.8,100.75 L192.3,99.99 L192.8,99.23 L193.3,98.47 L193.8,97.7 L194.3,96.94 L194.8,96.18 L195.3,95.41 L195.8,94.65 L196.3,93.89 L196.8,93.13 L197.3,92.36 L197.8,91.6 L198.3,90.84 L198.8,90.08 L199.3,89.33 L199.8,88.57 L200.3,87.82 L200.8,87.07 L201.3,86.32 L201.8,85.58 L202.3,84.83 L202.8,84.1 L203.3,83.36 L203.8,82.63 L204.3,81.9 L204.8,81.17 L205.3,80.46 L205.8,79.74 L206.3,79.03 L206.8,78.32 L207.3,77.62 L207.8,76.93 L208.3,76.24 L208.8,75.55 L209.3,74.88 L209.8,74.21 L210.3,73.54 L210.8,72.88 L211.3,72.23 L211.8,71.59 L212.3,70.95 L212.8,70.32 L213.3,69.7 L213.8,69.09 L214.3,68.48 L214.8,67.89 L215.3,67.3 L215.8,66.72 L216.3,66.15 L216.8,65.59 L217.3,65.04 L217.8,64.5 L218.3,63.97 L218.8,63.45 L219.3,62.94 L219.8,62.44 L220.3,61.96 L220.8,61.48 L221.3,61.01 L221.8,60.56 L222.3,60.12 L222.8,59.69 L223.3,59.27 L223.8,58.86 L224.3,58.47 L224.8,58.08 L225.3,57.71 L225.8,57.35 L226.3,57 L226.8,56.65 L227.3,56.32 L227.8,56 L228.3,55.69 L228.8,55.39 L229.3,55.1 L229.8,54.81 L230.3,54.54 L230.8,54.27 L231.3,54.02 L231.8,53.77 L232.3,53.53 L232.8,53.3 L233.3,53.08 L233.8,52.87 L234.3,52.66 L234.8,52.46 L235.3,52.27 L235.8,52.09 L236.3,51.91 L236.8,51.74 L237.3,51.58 L237.8,51.42 L238.3,51.27 L238.8,51.13 L239.3,50.99 L239.8,50.86 L240.3,50.74 L240.8,50.62 L241.3,50.51 L241.8,50.4 L242.3,50.29 L242.8,50.2 L243.3,50.1 L243.8,50.01 L244.3,49.93 L244.8,49.85 L245.3,49.78 L245.8,49.71 L246.3,49.64 L246.8,49.58 L247.3,49.52 L247.8,49.47 L248.3,49.43 L248.8,49.38 L249.3,49.34 L249.8,49.31 L250.3,49.28 L250.8,49.25 L251.3,49.23 L251.8,49.21 L252.3,49.2 L252.8,49.19 L253.3,49.18 L253.8,49.18 L254.3,49.18 L254.8,49.18 L255.3,49.19 L255.8,49.2 L256.3,49.22 L256.8,49.24 L257.3,49.26 L257.8,49.29 L258.3,49.32 L258.8,49.35 L259.3,49.38 L259.8,49.42 L260.3,49.46 L260.8,49.51 L261.3,49.56 L261.8,49.61 L262.3,49.66 L262.8,49.72 L263.3,49.78 L263.8,49.84 L264.3,49.9 L264.8,49.97 L265.3,50.04 L265.8,50.12 L266.3,50.19 L266.8,50.27 L267.3,50.36 L267.8,50.44 L268.3,50.53 L268.8,50.62 L269.3,50.72 L269.8,50.81 L270.3,50.91 L270.8,51.01 L271.3,51.12 L271.8,51.23 L272.3,51.34 L272.8,51.45 L273.3,51.56 L273.8,51.68 L274.3,51.8 L274.8,51.93 L275.3,52.05 L275.8,52.18 L276.3,52.31 L276.8,52.44 L277.3,52.58 L277.8,52.72 L278.3,52.86 L278.8,53 L279.3,53.15 L279.8,53.3 L280.3,53.45 L280.8,53.6 L281.3,53.75 L281.8,53.91 L282.3,54.07 L282.8,54.23 L283.3,54.4 L283.8,54.56 L284.3,54.73 L284.8,54.9 L285.3,55.08 L285.8,55.25 L286.3,55.43 L286.8,55.61 L287.3,55.79 L287.8,55.98 L288.3,56.16 L288.8,56.35 L289.3,56.54 L289.8,56.73 L290.3,56.93 L290.8,57.13 L291.3,57.32 L291.8,57.52 L292.3,57.73 L292.8,57.93 L293.3,58.14 L293.8,58.35 L294.3,58.56 L294.8,58.77 L295.3,58.98 L295.8,59.2 L296.3,59.42 L296.8,59.64 L297.3,59.86 L297.8,60.08 L298.3,60.31 L298.8,60.53 L299.3,60.76 L299.8,60.99 L300.3,61.22 L300.8,61.46 L301.3,61.69 L301.8,61.93 L302.3,62.17 L302.8,62.41 L303.3,62.65 L303.8,62.89 L304.3,63.14 L304.8,63.39 L305.3,63.63 L305.8,63.88 L306.3,64.13 L306.8,64.39 L307.3,64.64 L307.8,64.9 L308.3,65.15 L308.8,65.41 L309.3,65.67 L309.8,65.93 L310.3,66.2 L310.8,66.46 L311.3,66.72 L311.8,66.99 L312.3,67.26 L312.8,67.53 L313.3,67.8 L313.8,68.07 L314.3,68.34 L314.8,68.61 L315.3,68.89 L315.8,69.16 L316.3,69.44 L316.8,69.72 L317.3,70 L317.8,70.28 L318.3,70.56 L318.8,70.84 L319.3,71.12 L319.8,71.41 L320.3,71.69 L320.8,71.98 L321.3,72.26 L321.8,72.55 L322.3,72.84 L322.8,73.13 L323.3,73.42 L323.8,73.71 L324.3,74 L324.8,74.29 L325.3,74.58 L325.8,74.87 L326.3,75.17 L326.8,75.46 L327.3,75.76 L327.8,76.05 L328.3,76.35 L328.8,76.64 L329.3,76.94 L329.8,77.24 L330.3,77.53 L330.8,77.83 L331.3,78.13 L331.8,78.43 L332.3,78.73 L332.8,79.03 L333.3,79.33 L333.8,79.63 L334.3,79.93 L334.8,80.23 L335.3,80.53 L335.8,80.83 L336.3,81.13 L336.8,81.43 L337.3,81.73 L337.8,82.03 L338.3,82.33 L338.8,82.63 L339.3,82.94 L339.8,83.24 L340.3,83.54 L340.8,83.84 L341.3,84.14 L341.8,84.44 L342.3,84.74 L342.8,85.04 L343.3,85.34 L343.8,85.64 L344.3,85.94 L344.8,86.24 L345.3,86.54 L345.8,86.84 L346.3,87.14 L346.8,87.44 L347.3,87.74 L347.8,88.04 L348.3,88.33 L348.8,88.63 L349.3,88.93 L349.8,89.22 L350.3,89.52 L350.8,89.82 L351.3,90.11 L351.8,90.4 L352.3,90.7 L352.8,90.99 L353.3,91.28 L353.8,91.57 L354.3,91.87 L354.8,92.16 L355.3,92.45 L355.8,92.73 L356.3,93.02 L356.8,93.31 L357.3,93.6 L357.8,93.88 L358.3,94.17 L358.8,94.45 L359.3,94.73 L359.8,95.02 L360.3,95.3 L360.8,95.58 L361.3,95.86 L361.8,96.13 L362.3,96.41 L362.8,96.69 L363.3,96.96 L363.8,97.24 L364.3,97.51 L364.8,97.78 L365.3,98.05 L365.8,98.32 L366.3,98.59 L366.8,98.85 L367.3,99.12 L367.8,99.38 L368.3,99.65 L368.8,99.91 L369.3,100.17 L369.8,100.43 L370.3,100.69 L370.8,100.94 L371.3,101.2 L371.8,101.45 L372.3,101.7 L372.8,101.95 L373.3,102.2 L373.8,102.45 L374.3,102.7 L374.8,102.94 L375.3,103.18 L375.8,103.42 L376.3,103.66 L376.8,103.9 L377.3,104.14 L377.8,104.37 L378.3,104.61 L378.8,104.84 L379.3,105.07 L379.8,105.3 L380.3,105.52 L380.8,105.75 L381.3,105.97 L381.8,106.19 L382.3,106.41 L382.8,106.63 L383.3,106.84 L383.8,107.05 L384.3,107.27 L384.8,107.47 L385.3,107.68 L385.8,107.89 L386.3,108.09 L386.8,108.29 L387.3,108.49 L387.8,108.69 L388.3,108.88 L388.8,109.08 L389.3,109.27 L389.8,109.46 L390.3,109.64 L390.8,109.83 L391.3,110.01 L391.8,110.19 L392.3,110.37 L392.8,110.55 L393.3,110.72 L393.8,110.89 L394.3,111.06 L394.8,111.23 L395.3,111.39 L395.8,111.55 L396.3,111.71 L396.8,111.87 L397.3,112.02 L397.8,112.17 L398.3,112.32 L398.8,112.47 L399.3,112.61 L399.8,112.76 L400.3,112.9 L400.8,113.03 L401.3,113.17 L401.8,113.3 L402.3,113.43 L402.8,113.55 L403.3,113.68 L403.8,113.8 L404.3,113.92 L404.8,114.03 L405.3,114.14 L405.8,114.25 L406.3,114.36 L406.8,114.47 L407.3,114.57 L407.8,114.67 L408.3,114.76 L408.8,114.85 L409.3,114.94 L409.8,115.03 L410.3,115.12 L410.8,115.2 L411.3,115.28 L411.8,115.35 L412.3,115.42 L412.8,115.49 L413.3,115.56 L413.8,115.62 L414.3,115.68 L414.8,115.74 L415.3,115.79 L415.8,115.84 L416.3,115.89 L416.8,115.93 L417.3,115.97 L417.8,116.01 L418.3,116.05 L418.8,116.08 L419.3,116.11 L419.8,116.13 L420.3,116.16 L420.8,116.18 L421.3,116.2 L421.8,116.21 L422.3,116.22 L422.8,116.23 L423.3,116.24 L423.8,116.24 L424.3,116.25 L424.8,116.25 L425.3,116.24 L425.8,116.24 L426.3,116.23 L426.8,116.22 L427.3,116.21 L427.8,116.19 L428.3,116.17 L428.8,116.15 L429.3,116.13 L429.8,116.11 L430.3,116.08 L430.8,116.05 L431.3,116.02 L431.8,115.99 L432.3,115.96 L432.8,115.92 L433.3,115.88 L433.8,115.84 L434.3,115.8 L434.8,115.76 L435.3,115.71 L435.8,115.66 L436.3,115.61 L436.8,115.56 L437.3,115.51 L437.8,115.45 L438.3,115.4 L438.8,115.34 L439.3,115.28 L439.8,115.22 L440.3,115.16 L440.8,115.09 L441.3,115.03 L441.8,114.96 L442.3,114.89 L442.8,114.82 L443.3,114.75 L443.8,114.68 L444.3,114.61 L444.8,114.53 L445.3,114.46 L445.8,114.38 L446.3,114.31 L446.8,114.23 L447.3,114.15 L447.8,114.07 L448.3,113.99 L448.8,113.9 L449.3,113.82 L449.8,113.74 L450.3,113.65 L450.8,113.56 L451.3,113.48 L451.8,113.39 L452.3,113.3 L452.8,113.21 L453.3,113.13 L453.8,113.04 L454.3,112.95 L454.8,112.85 L455.3,112.76 L455.8,112.67 L456.3,112.58 L456.8,112.49 L457.3,112.39 L457.8,112.3 L458.3,112.21 L458.8,112.11 L459.3,112.02 L459.8,111.92 L460.3,111.83 L460.8,111.73 L461.3,111.64 L461.8,111.54 L462.3,111.45 L462.8,111.35 L463.3,111.25 L463.8,111.15 L464.3,111.06 L464.8,110.96 L465.3,110.86 L465.8,110.76 L466.3,110.66 L466.8,110.56 L467.3,110.46 L467.8,110.36 L468.3,110.26 L468.8,110.16 L469.3,110.05 L469.8,109.95 L470.3,109.85 L470.8,109.75 L471.3,109.64 L471.8,109.54 L472.3,109.44 L472.8,109.33 L473.3,109.23 L473.8,109.12 L474.3,109.02 L474.8,108.91 L475.3,108.81 L475.8,108.7 L476.3,108.59 L476.8,108.49 L477.3,108.38 L477.8,108.27 L478.3,108.16 L478.8,108.05 L479.3,107.95 L479.8,107.84 L480.3,107.73 L480.8,107.62 L481.3,107.51 L481.8,107.4 L482.3,107.29 L482.8,107.17 L483.3,107.06 L483.8,106.95 L484.3,106.84 L484.8,106.73 L485.3,106.61 L485.8,106.5 L486.3,106.39 L486.8,106.27 L487.3,106.16 L487.8,106.04 L488.3,105.93 L488.8,105.81 L489.3,105.7 L489.8,105.58 L490.3,105.46 L490.8,105.35 L491.3,105.23 L491.8,105.11 L492.3,104.99 L492.8,104.88 L493.3,104.76 L493.8,104.64 L494.3,104.52 L494.8,104.4 L495.3,104.28 L495.8,104.16 L496.3,104.04 L496.8,103.92 L497.3,103.8 L497.8,103.68 L498.3,103.56 L498.8,103.43 L499.3,103.31 L499.8,103.19 L500.3,103.07 L500.8,102.94 L501.3,102.82 L501.8,102.7 L502.3,102.57 L502.8,102.45 L503.3,102.32 L503.8,102.2 L504.3,102.07 L504.8,101.95 L505.3,101.82 L505.8,101.69 L506.3,101.57 L506.8,101.44 L507.3,101.31 L507.8,101.18 L508.3,101.06 L508.8,100.93 L509.3,100.8 L509.8,100.67 L510.3,100.54 L510.8,100.41 L511.3,100.28 L511.8,100.15 L512.3,100.02 L512.8,99.89 L513.3,99.76 L513.8,99.63 L514.3,99.5 L514.8,99.36 L515.3,99.23 L515.8,99.1 L516.3,98.97 L516.8,98.83 L517.3,98.7 L517.8,98.56 L518.3,98.43 L518.8,98.3 L519.3,98.16 L519.8,98.03 L520.3,97.89 L520.8,97.75 L521.3,97.62 L521.8,97.48 L522.3,97.35 L522.8,97.21 L523.3,97.07 L523.8,96.93 L524.3,96.8 L524.8,96.66 L525.3,96.52 L525.8,96.38 L526.3,96.24 L526.8,96.1 L527.3,95.96 L527.8,95.82 L528.3,95.68 L528.8,95.54 L529.3,95.4 L529.8,95.26 L530.3,95.12 L530.8,94.98 L531.3,94.84 L531.8,94.7 L532.3,94.55 L532.8,94.41 L533.3,94.27 L533.8,94.13 L534.3,93.98 L534.8,93.84 L535.3,93.69 L535.8,93.55 L536.3,93.41 L536.8,93.26 L537.3,93.12 L537.8,92.97 L538.3,92.82 L538.8,92.68 L539.3,92.53 L539.8,92.39 L540.3,92.24 L540.8,92.09 L541.3,91.94 L541.8,91.8 L542.3,91.65 L542.8,91.5 L543.3,91.35 L543.8,91.2 L544.3,91.05 L544.8,90.91 L545.3,90.76 L545.8,90.61 L546.3,90.46 L546.8,90.31 L547.3,90.16 L547.8,90.01 L548.3,89.85 L548.8,89.7 L549.3,89.55 L549.8,89.4 L550.3,89.25 L550.8,89.09 L551.3,88.94 L551.8,88.79 L552.3,88.64 L552.8,88.48 L553.3,88.33 L553.8,88.18 L554.3,88.02 L554.8,87.87 L555.3,87.71 L555.8,87.56 L556.3,87.4 L556.8,87.25 L557.3,87.09 L557.8,86.94 L558.3,86.78 L558.8,86.62 L559.3,86.47 L559.8,86.31 L560.3,86.15 L560.8,86 L561.3,85.84 L561.8,85.68 L562.3,85.52 L562.8,85.36 L563.3,85.21 L563.8,85.05 L564.3,84.89 L564.8,84.73 L565.3,84.57 L565.8,84.42 L566.3,84.26 L566.8,84.1 L567.3,83.94 L567.8,83.78 L568.3,83.62 L568.8,83.47 L569.3,83.31 L569.8,83.15 L570.3,82.99 L570.8,82.84 L571.3,82.68 L571.8,82.52 L572.3,82.36 L572.8,82.21 L573.3,82.05 L573.8,81.89 L574.3,81.74 L574.8,81.58 L575.3,81.43 L575.8,81.27 L576.3,81.12 L576.8,80.96 L577.3,80.81 L577.8,80.65 L578.3,80.5 L578.8,80.35 L579.3,80.2 L579.8,80.04 L580.3,79.89 L580.8,79.74 L581.3,79.59 L581.8,79.44 L582.3,79.29 L582.8,79.14 L583.3,78.99 L583.8,78.85 L584.3,78.7 L584.8,78.55 L585.3,78.41 L585.8,78.26 L586.3,78.12 L586.8,77.97 L587.3,77.83 L587.8,77.69 L588.3,77.54 L588.8,77.4 L589.3,77.26 L589.8,77.12 L590.3,76.98 L590.8,76.85 L591.3,76.71 L591.8,76.57 L592.3,76.44 L592.8,76.3 L593.3,76.17 L593.8,76.04 L594.3,75.9 L594.8,75.77 L595.3,75.64 L595.8,75.51 L596.3,75.39 L596.8,75.26 L597.3,75.13 L597.8,75.01 L598.3,74.89 L598.8,74.76 L599.3,74.64 L599.8,74.52 L600.3,74.4 L600.8,74.28 L601.3,74.17 L601.8,74.05 L602.3,73.94 L602.8,73.82 L603.3,73.71 L603.8,73.6 L604.3,73.49 L604.8,73.38 L605.3,73.28 L605.8,73.17 L606.3,73.07 L606.8,72.96 L607.3,72.86 L607.8,72.76 L608.3,72.66 L608.8,72.56 L609.3,72.47 L609.8,72.37 L610.3,72.28 L610.8,72.19 L611.3,72.1 L611.8,72.01 L612.3,71.92 L612.8,71.84 L613.3,71.75 L613.8,71.67 L614.3,71.59 L614.8,71.51 L615.3,71.44 L615.8,71.36 L616.3,71.29 L616.8,71.21 L617.3,71.14 L617.8,71.07 L618.3,71.01 L618.8,70.94 L619.3,70.88 L619.8,70.82 L620.3,70.76 L620.8,70.7 L621.3,70.64 L621.8,70.59 L622.3,70.53 L622.8,70.48 L623.3,70.43 L623.8,70.38 L624.3,70.33 L624.8,70.29 L625.3,70.24 L625.8,70.2 L626.3,70.16 L626.8,70.12 L627.3,70.08 L627.8,70.05 L628.3,70.01 L628.8,69.98 L629.3,69.94 L629.8,69.91 L630.3,69.88 L630.8,69.85 L631.3,69.83 L631.8,69.8 L632.3,69.77 L632.8,69.75 L633.3,69.73 L633.8,69.71 L634.3,69.69 L634.8,69.67 L635.3,69.65 L635.8,69.63 L636.3,69.61 L636.8,69.6 L637.3,69.58 L637.8,69.57 L638.3,69.56 L638.8,69.55 L639.3,69.54 L639.8,69.53 L640.3,69.52 L640.8,69.51 L641.3,69.5 L641.8,69.5 L642.3,69.49 L642.8,69.48 L643.3,69.48 L643.8,69.48 L644.3,69.47 L644.8,69.47 L645.3,69.47 L645.8,69.47 L646.3,69.47 L646.8,69.47 L647.3,69.47 L647.8,69.47 L648.3,69.47 L648.8,69.48 L649.3,69.48 L649.8,69.48 L650.3,69.48 L650.8,69.49 L651.3,69.49 L651.8,69.5 L652.3,69.5 L652.8,69.51 L653.3,69.51 L653.8,69.52 L654.3,69.53 L654.8,69.53 L655.3,69.54 L655.8,69.55 L656.3,69.55 L656.8,69.56 L657.3,69.57 L657.8,69.57 L658.3,69.58 L658.8,69.59 L659.3,69.6 L659.8,69.6 L660.3,69.61 L660.8,69.62 L661.3,69.62 L661.8,69.63 L662.3,69.64 L662.8,69.65 L663.3,69.65 L663.8,69.66 L664.3,69.66 L664.8,69.67 L665.3,69.68 L665.8,69.68 L666.3,69.69 L666.8,69.69 L667.3,69.7 L667.8,69.7 L668.3,69.71 L668.8,69.71 L669.3,69.71 L669.8,69.71 L670.3,69.72 L670.8,69.72 L671.3,69.72 L671.8,69.72 L672.3,69.72 L672.8,69.72 L673.3,69.72 L673.4,69.72" fill="none" stroke="#36e0c4" stroke-width="1.05" stroke-linejoin="round" stroke-linecap="round" />
<path d="M61.6,88.57 L62.1,92.23 L62.6,95.15 L63.1,97.36 L63.6,98.94 L64.1,99.94 L64.6,100.42 L65.1,100.45 L65.6,100.08 L66.1,99.36 L66.6,98.34 L67.1,97.08 L67.6,95.63 L68.1,94.02 L68.6,92.32 L69.1,90.57 L69.6,88.83 L70.1,87.13 L70.6,85.54 L71.1,84.1 L71.6,82.85 L72.1,81.86 L72.6,81.16 L73.1,80.81 L73.6,80.81 L74.1,81.12 L74.6,81.71 L75.1,82.55 L75.6,83.6 L76.1,84.83 L76.6,86.2 L77.1,87.68 L77.6,89.24 L78.1,90.84 L78.6,92.45 L79.1,94.03 L79.6,95.55 L80.1,96.98 L80.6,98.28 L81.1,99.42 L81.6,100.36 L82.1,101.07 L82.6,101.52 L83.1,101.7 L83.6,101.64 L84.1,101.34 L84.6,100.84 L85.1,100.14 L85.6,99.27 L86.1,98.25 L86.6,97.09 L87.1,95.81 L87.6,94.43 L88.1,92.97 L88.6,91.45 L89.1,89.89 L89.6,88.3 L90.1,86.71 L90.6,85.11 L91.1,83.51 L91.6,81.93 L92.1,80.36 L92.6,78.81 L93.1,77.29 L93.6,75.81 L94.1,74.36 L94.6,72.96 L95.1,71.61 L95.6,70.31 L96.1,69.06 L96.6,67.86 L97.1,66.71 L97.6,65.6 L98.1,64.54 L98.6,63.51 L99.1,62.53 L99.6,61.58 L100.1,60.68 L100.6,59.8 L101.1,58.96 L101.6,58.15 L102.1,57.38 L102.6,56.63 L103.1,55.92 L103.6,55.23 L104.1,54.58 L104.6,53.95 L105.1,53.35 L105.6,52.78 L106.1,52.24 L106.6,51.72 L107.1,51.23 L107.6,50.76 L108.1,50.32 L108.6,49.9 L109.1,49.52 L109.6,49.17 L110.1,48.86 L110.6,48.61 L111.1,48.41 L111.6,48.27 L112.1,48.2 L112.6,48.2 L113.1,48.28 L113.6,48.44 L114.1,48.7 L114.6,49.05 L115.1,49.51 L115.6,50.07 L116.1,50.75 L116.6,51.55 L117.1,52.46 L117.6,53.48 L118.1,54.6 L118.6,55.81 L119.1,57.11 L119.6,58.5 L120.1,59.96 L120.6,61.5 L121.1,63.1 L121.6,64.76 L122.1,66.48 L122.6,68.24 L123.1,70.05 L123.6,71.9 L124.1,73.77 L124.6,75.68 L125.1,77.6 L125.6,79.55 L126.1,81.5 L126.6,83.47 L127.1,85.44 L127.6,87.41 L128.1,89.37 L128.6,91.33 L129.1,93.27 L129.6,95.19 L130.1,97.1 L130.6,98.97 L131.1,100.8 L131.6,102.59 L132.1,104.31 L132.6,105.98 L133.1,107.56 L133.6,109.08 L134.1,110.52 L134.6,111.91 L135.1,113.23 L135.6,114.5 L136.1,115.73 L136.6,116.91 L137.1,118.05 L137.6,119.16 L138.1,120.24 L138.6,121.29 L139.1,122.32 L139.6,123.32 L140.1,124.29 L140.6,125.24 L141.1,126.16 L141.6,127.05 L142.1,127.92 L142.6,128.76 L143.1,129.58 L143.6,130.37 L144.1,131.13 L144.6,131.86 L145.1,132.57 L145.6,133.25 L146.1,133.91 L146.6,134.54 L147.1,135.14 L147.6,135.71 L148.1,136.26 L148.6,136.78 L149.1,137.28 L149.6,137.75 L150.1,138.19 L150.6,138.6 L151.1,138.99 L151.6,139.35 L152.1,139.68 L152.6,139.99 L153.1,140.27 L153.6,140.53 L154.1,140.75 L154.6,140.95 L155.1,141.13 L155.6,141.27 L156.1,141.39 L156.6,141.48 L157.1,141.55 L157.6,141.58 L158.1,141.6 L158.6,141.58 L159.1,141.54 L159.6,141.48 L160.1,141.39 L160.6,141.27 L161.1,141.14 L161.6,140.97 L162.1,140.79 L162.6,140.58 L163.1,140.35 L163.6,140.09 L164.1,139.82 L164.6,139.52 L165.1,139.2 L165.6,138.86 L166.1,138.5 L166.6,138.12 L167.1,137.72 L167.6,137.3 L168.1,136.86 L168.6,136.41 L169.1,135.93 L169.6,135.43 L170.1,134.92 L170.6,134.39 L171.1,133.85 L171.6,133.28 L172.1,132.7 L172.6,132.11 L173.1,131.5 L173.6,130.87 L174.1,130.23 L174.6,129.57 L175.1,128.9 L175.6,128.22 L176.1,127.52 L176.6,126.81 L177.1,126.09 L177.6,125.35 L178.1,124.6 L178.6,123.84 L179.1,123.07 L179.6,122.29 L180.1,121.5 L180.6,120.69 L181.1,119.88 L181.6,119.06 L182.1,118.23 L182.6,117.39 L183.1,116.54 L183.6,115.68 L184.1,114.82 L184.6,113.94 L185.1,113.06 L185.6,112.18 L186.1,111.29 L186.6,110.39 L187.1,109.48 L187.6,108.58 L188.1,107.66 L188.6,106.75 L189.1,105.83 L189.6,104.9 L190.1,103.97 L190.6,103.05 L191.1,102.11 L191.6,101.18 L192.1,100.25 L192.6,99.31 L193.1,98.38 L193.6,97.44 L194.1,96.51 L194.6,95.58 L195.1,94.65 L195.6,93.72 L196.1,92.79 L196.6,91.87 L197.1,90.95 L197.6,90.03 L198.1,89.11 L198.6,88.21 L199.1,87.3 L199.6,86.4 L200.1,85.51 L200.6,84.62 L201.1,83.74 L201.6,82.87 L202.1,82.01 L202.6,81.15 L203.1,80.3 L203.6,79.46 L204.1,78.63 L204.6,77.81 L205.1,76.99 L205.6,76.19 L206.1,75.4 L206.6,74.62 L207.1,73.86 L207.6,73.1 L208.1,72.36 L208.6,71.63 L209.1,70.91 L209.6,70.2 L210.1,69.51 L210.6,68.82 L211.1,68.15 L211.6,67.49 L212.1,66.84 L212.6,66.2 L213.1,65.58 L213.6,64.96 L214.1,64.36 L214.6,63.76 L215.1,63.18 L215.6,62.6 L216.1,62.04 L216.6,61.49 L217.1,60.95 L217.6,60.42 L218.1,59.89 L218.6,59.38 L219.1,58.88 L219.6,58.39 L220.1,57.91 L220.6,57.44 L221.1,56.97 L221.6,56.52 L222.1,56.08 L222.6,55.64 L223.1,55.22 L223.6,54.8 L224.1,54.39 L224.6,53.99 L225.1,53.61 L225.6,53.22 L226.1,52.85 L226.6,52.49 L227.1,52.13 L227.6,51.78 L228.1,51.44 L228.6,51.11 L229.1,50.79 L229.6,50.47 L230.1,50.17 L230.6,49.87 L231.1,49.57 L231.6,49.29 L232.1,49.01 L232.6,48.74 L233.1,48.48 L233.6,48.22 L234.1,47.97 L234.6,47.73 L235.1,47.5 L235.6,47.27 L236.1,47.05 L236.6,46.83 L237.1,46.62 L237.6,46.42 L238.1,46.22 L238.6,46.03 L239.1,45.85 L239.6,45.68 L240.1,45.51 L240.6,45.34 L241.1,45.18 L241.6,45.03 L242.1,44.89 L242.6,44.75 L243.1,44.61 L243.6,44.49 L244.1,44.36 L244.6,44.25 L245.1,44.14 L245.6,44.03 L246.1,43.94 L246.6,43.84 L247.1,43.76 L247.6,43.68 L248.1,43.6 L248.6,43.53 L249.1,43.47 L249.6,43.41 L250.1,43.35 L250.6,43.31 L251.1,43.26 L251.6,43.22 L252.1,43.19 L252.6,43.16 L253.1,43.14 L253.6,43.13 L254.1,43.11 L254.6,43.11 L255.1,43.1 L255.6,43.11 L256.1,43.12 L256.6,43.13 L257.1,43.15 L257.6,43.17 L258.1,43.19 L258.6,43.23 L259.1,43.26 L259.6,43.3 L260.1,43.35 L260.6,43.4 L261.1,43.45 L261.6,43.51 L262.1,43.57 L262.6,43.64 L263.1,43.71 L263.6,43.79 L264.1,43.87 L264.6,43.95 L265.1,44.04 L265.6,44.13 L266.1,44.23 L266.6,44.33 L267.1,44.43 L267.6,44.54 L268.1,44.65 L268.6,44.77 L269.1,44.88 L269.6,45.01 L270.1,45.13 L270.6,45.26 L271.1,45.4 L271.6,45.53 L272.1,45.67 L272.6,45.82 L273.1,45.96 L273.6,46.12 L274.1,46.27 L274.6,46.43 L275.1,46.59 L275.6,46.75 L276.1,46.92 L276.6,47.09 L277.1,47.26 L277.6,47.43 L278.1,47.61 L278.6,47.79 L279.1,47.98 L279.6,48.16 L280.1,48.35 L280.6,48.55 L281.1,48.74 L281.6,48.94 L282.1,49.14 L282.6,49.34 L283.1,49.55 L283.6,49.75 L284.1,49.96 L284.6,50.17 L285.1,50.39 L285.6,50.61 L286.1,50.82 L286.6,51.05 L287.1,51.27 L287.6,51.49 L288.1,51.72 L288.6,51.95 L289.1,52.18 L289.6,52.42 L290.1,52.65 L290.6,52.89 L291.1,53.13 L291.6,53.37 L292.1,53.61 L292.6,53.85 L293.1,54.1 L293.6,54.34 L294.1,54.59 L294.6,54.84 L295.1,55.09 L295.6,55.35 L296.1,55.6 L296.6,55.85 L297.1,56.11 L297.6,56.37 L298.1,56.63 L298.6,56.89 L299.1,57.15 L299.6,57.41 L300.1,57.68 L300.6,57.94 L301.1,58.21 L301.6,58.48 L302.1,58.75 L302.6,59.02 L303.1,59.29 L303.6,59.56 L304.1,59.84 L304.6,60.11 L305.1,60.39 L305.6,60.67 L306.1,60.95 L306.6,61.23 L307.1,61.51 L307.6,61.79 L308.1,62.08 L308.6,62.36 L309.1,62.65 L309.6,62.94 L310.1,63.23 L310.6,63.51 L311.1,63.81 L311.6,64.1 L312.1,64.39 L312.6,64.69 L313.1,64.98 L313.6,65.28 L314.1,65.57 L314.6,65.87 L315.1,66.17 L315.6,66.47 L316.1,66.78 L316.6,67.08 L317.1,67.38 L317.6,67.69 L318.1,67.99 L318.6,68.3 L319.1,68.61 L319.6,68.92 L320.1,69.23 L320.6,69.54 L321.1,69.85 L321.6,70.16 L322.1,70.47 L322.6,70.79 L323.1,71.11 L323.6,71.42 L324.1,71.74 L324.6,72.06 L325.1,72.38 L325.6,72.7 L326.1,73.02 L326.6,73.34 L327.1,73.66 L327.6,73.99 L328.1,74.31 L328.6,74.64 L329.1,74.96 L329.6,75.29 L330.1,75.62 L330.6,75.95 L331.1,76.27 L331.6,76.61 L332.1,76.94 L332.6,77.27 L333.1,77.6 L333.6,77.93 L334.1,78.27 L334.6,78.6 L335.1,78.94 L335.6,79.28 L336.1,79.61 L336.6,79.95 L337.1,80.29 L337.6,80.63 L338.1,80.97 L338.6,81.31 L339.1,81.65 L339.6,81.99 L340.1,82.33 L340.6,82.68 L341.1,83.02 L341.6,83.37 L342.1,83.71 L342.6,84.06 L343.1,84.4 L343.6,84.75 L344.1,85.1 L344.6,85.45 L345.1,85.8 L345.6,86.15 L346.1,86.5 L346.6,86.85 L347.1,87.2 L347.6,87.55 L348.1,87.9 L348.6,88.25 L349.1,88.61 L349.6,88.96 L350.1,89.31 L350.6,89.66 L351.1,90.02 L351.6,90.37 L352.1,90.72 L352.6,91.08 L353.1,91.43 L353.6,91.78 L354.1,92.13 L354.6,92.49 L355.1,92.84 L355.6,93.19 L356.1,93.54 L356.6,93.89 L357.1,94.24 L357.6,94.59 L358.1,94.94 L358.6,95.28 L359.1,95.63 L359.6,95.98 L360.1,96.32 L360.6,96.66 L361.1,97.01 L361.6,97.35 L362.1,97.69 L362.6,98.03 L363.1,98.37 L363.6,98.71 L364.1,99.04 L364.6,99.38 L365.1,99.71 L365.6,100.04 L366.1,100.37 L366.6,100.7 L367.1,101.03 L367.6,101.35 L368.1,101.68 L368.6,102 L369.1,102.32 L369.6,102.64 L370.1,102.96 L370.6,103.27 L371.1,103.58 L371.6,103.89 L372.1,104.2 L372.6,104.51 L373.1,104.81 L373.6,105.11 L374.1,105.41 L374.6,105.71 L375.1,106 L375.6,106.3 L376.1,106.58 L376.6,106.87 L377.1,107.16 L377.6,107.44 L378.1,107.72 L378.6,107.99 L379.1,108.26 L379.6,108.53 L380.1,108.8 L380.6,109.07 L381.1,109.33 L381.6,109.58 L382.1,109.84 L382.6,110.09 L383.1,110.34 L383.6,110.58 L384.1,110.82 L384.6,111.06 L385.1,111.3 L385.6,111.53 L386.1,111.76 L386.6,111.98 L387.1,112.2 L387.6,112.42 L388.1,112.63 L388.6,112.84 L389.1,113.04 L389.6,113.24 L390.1,113.44 L390.6,113.63 L391.1,113.82 L391.6,114.01 L392.1,114.19 L392.6,114.37 L393.1,114.55 L393.6,114.72 L394.1,114.89 L394.6,115.05 L395.1,115.21 L395.6,115.37 L396.1,115.53 L396.6,115.68 L397.1,115.82 L397.6,115.97 L398.1,116.11 L398.6,116.25 L399.1,116.38 L399.6,116.51 L400.1,116.64 L400.6,116.76 L401.1,116.88 L401.6,117 L402.1,117.12 L402.6,117.23 L403.1,117.34 L403.6,117.44 L404.1,117.54 L404.6,117.64 L405.1,117.74 L405.6,117.83 L406.1,117.92 L406.6,118.01 L407.1,118.1 L407.6,118.18 L408.1,118.26 L408.6,118.33 L409.1,118.41 L409.6,118.48 L410.1,118.54 L410.6,118.61 L411.1,118.67 L411.6,118.73 L412.1,118.79 L412.6,118.84 L413.1,118.89 L413.6,118.94 L414.1,118.99 L414.6,119.03 L415.1,119.08 L415.6,119.12 L416.1,119.15 L416.6,119.19 L417.1,119.22 L417.6,119.25 L418.1,119.28 L418.6,119.3 L419.1,119.32 L419.6,119.34 L420.1,119.36 L420.6,119.38 L421.1,119.39 L421.6,119.4 L422.1,119.41 L422.6,119.42 L423.1,119.42 L423.6,119.43 L424.1,119.43 L424.6,119.43 L425.1,119.42 L425.6,119.42 L426.1,119.41 L426.6,119.4 L427.1,119.39 L427.6,119.38 L428.1,119.37 L428.6,119.35 L429.1,119.33 L429.6,119.31 L430.1,119.29 L430.6,119.27 L431.1,119.24 L431.6,119.22 L432.1,119.19 L432.6,119.16 L433.1,119.13 L433.6,119.09 L434.1,119.06 L434.6,119.02 L435.1,118.99 L435.6,118.95 L436.1,118.91 L436.6,118.86 L437.1,118.82 L437.6,118.78 L438.1,118.73 L438.6,118.68 L439.1,118.63 L439.6,118.59 L440.1,118.53 L440.6,118.48 L441.1,118.43 L441.6,118.37 L442.1,118.32 L442.6,118.26 L443.1,118.2 L443.6,118.14 L444.1,118.08 L444.6,118.02 L445.1,117.96 L445.6,117.9 L446.1,117.83 L446.6,117.77 L447.1,117.7 L447.6,117.63 L448.1,117.57 L448.6,117.5 L449.1,117.43 L449.6,117.35 L450.1,117.28 L450.6,117.21 L451.1,117.13 L451.6,117.06 L452.1,116.98 L452.6,116.9 L453.1,116.82 L453.6,116.74 L454.1,116.66 L454.6,116.58 L455.1,116.5 L455.6,116.42 L456.1,116.33 L456.6,116.25 L457.1,116.16 L457.6,116.07 L458.1,115.99 L458.6,115.9 L459.1,115.81 L459.6,115.72 L460.1,115.62 L460.6,115.53 L461.1,115.44 L461.6,115.34 L462.1,115.25 L462.6,115.15 L463.1,115.05 L463.6,114.96 L464.1,114.86 L464.6,114.76 L465.1,114.66 L465.6,114.55 L466.1,114.45 L466.6,114.35 L467.1,114.24 L467.6,114.14 L468.1,114.03 L468.6,113.93 L469.1,113.82 L469.6,113.71 L470.1,113.6 L470.6,113.49 L471.1,113.38 L471.6,113.27 L472.1,113.16 L472.6,113.05 L473.1,112.93 L473.6,112.82 L474.1,112.7 L474.6,112.59 L475.1,112.47 L475.6,112.35 L476.1,112.24 L476.6,112.12 L477.1,112 L477.6,111.88 L478.1,111.76 L478.6,111.63 L479.1,111.51 L479.6,111.39 L480.1,111.26 L480.6,111.14 L481.1,111.02 L481.6,110.89 L482.1,110.76 L482.6,110.64 L483.1,110.51 L483.6,110.38 L484.1,110.25 L484.6,110.12 L485.1,109.99 L485.6,109.86 L486.1,109.73 L486.6,109.59 L487.1,109.46 L487.6,109.33 L488.1,109.19 L488.6,109.06 L489.1,108.92 L489.6,108.79 L490.1,108.65 L490.6,108.51 L491.1,108.38 L491.6,108.24 L492.1,108.1 L492.6,107.96 L493.1,107.82 L493.6,107.68 L494.1,107.54 L494.6,107.4 L495.1,107.25 L495.6,107.11 L496.1,106.97 L496.6,106.82 L497.1,106.68 L497.6,106.53 L498.1,106.39 L498.6,106.24 L499.1,106.1 L499.6,105.95 L500.1,105.8 L500.6,105.66 L501.1,105.51 L501.6,105.36 L502.1,105.21 L502.6,105.06 L503.1,104.91 L503.6,104.76 L504.1,104.61 L504.6,104.46 L505.1,104.31 L505.6,104.15 L506.1,104 L506.6,103.85 L507.1,103.69 L507.6,103.54 L508.1,103.39 L508.6,103.23 L509.1,103.08 L509.6,102.92 L510.1,102.77 L510.6,102.61 L511.1,102.45 L511.6,102.3 L512.1,102.14 L512.6,101.98 L513.1,101.82 L513.6,101.67 L514.1,101.51 L514.6,101.35 L515.1,101.19 L515.6,101.03 L516.1,100.87 L516.6,100.71 L517.1,100.55 L517.6,100.39 L518.1,100.23 L518.6,100.07 L519.1,99.9 L519.6,99.74 L520.1,99.58 L520.6,99.42 L521.1,99.26 L521.6,99.09 L522.1,98.93 L522.6,98.77 L523.1,98.6 L523.6,98.44 L524.1,98.28 L524.6,98.11 L525.1,97.95 L525.6,97.78 L526.1,97.62 L526.6,97.45 L527.1,97.29 L527.6,97.12 L528.1,96.96 L528.6,96.79 L529.1,96.62 L529.6,96.46 L530.1,96.29 L530.6,96.13 L531.1,95.96 L531.6,95.79 L532.1,95.63 L532.6,95.46 L533.1,95.29 L533.6,95.12 L534.1,94.96 L534.6,94.79 L535.1,94.62 L535.6,94.45 L536.1,94.29 L536.6,94.12 L537.1,93.95 L537.6,93.78 L538.1,93.61 L538.6,93.45 L539.1,93.28 L539.6,93.11 L540.1,92.94 L540.6,92.77 L541.1,92.6 L541.6,92.44 L542.1,92.27 L542.6,92.1 L543.1,91.93 L543.6,91.76 L544.1,91.59 L544.6,91.43 L545.1,91.26 L545.6,91.09 L546.1,90.92 L546.6,90.75 L547.1,90.58 L547.6,90.41 L548.1,90.25 L548.6,90.08 L549.1,89.91 L549.6,89.74 L550.1,89.57 L550.6,89.4 L551.1,89.24 L551.6,89.07 L552.1,88.9 L552.6,88.73 L553.1,88.57 L553.6,88.4 L554.1,88.23 L554.6,88.06 L555.1,87.9 L555.6,87.73 L556.1,87.56 L556.6,87.39 L557.1,87.23 L557.6,87.06 L558.1,86.89 L558.6,86.73 L559.1,86.56 L559.6,86.4 L560.1,86.23 L560.6,86.06 L561.1,85.9 L561.6,85.73 L562.1,85.57 L562.6,85.4 L563.1,85.24 L563.6,85.07 L564.1,84.91 L564.6,84.74 L565.1,84.58 L565.6,84.42 L566.1,84.25 L566.6,84.09 L567.1,83.93 L567.6,83.76 L568.1,83.6 L568.6,83.44 L569.1,83.28 L569.6,83.11 L570.1,82.95 L570.6,82.79 L571.1,82.63 L571.6,82.47 L572.1,82.31 L572.6,82.15 L573.1,81.99 L573.6,81.83 L574.1,81.67 L574.6,81.51 L575.1,81.35 L575.6,81.2 L576.1,81.04 L576.6,80.88 L577.1,80.72 L577.6,80.57 L578.1,80.41 L578.6,80.25 L579.1,80.1 L579.6,79.94 L580.1,79.79 L580.6,79.63 L581.1,79.48 L581.6,79.32 L582.1,79.17 L582.6,79.02 L583.1,78.87 L583.6,78.71 L584.1,78.56 L584.6,78.41 L585.1,78.26 L585.6,78.11 L586.1,77.96 L586.6,77.81 L587.1,77.66 L587.6,77.51 L588.1,77.36 L588.6,77.22 L589.1,77.07 L589.6,76.92 L590.1,76.77 L590.6,76.63 L591.1,76.48 L591.6,76.34 L592.1,76.19 L592.6,76.05 L593.1,75.91 L593.6,75.76 L594.1,75.62 L594.6,75.48 L595.1,75.34 L595.6,75.2 L596.1,75.06 L596.6,74.92 L597.1,74.78 L597.6,74.64 L598.1,74.5 L598.6,74.37 L599.1,74.23 L599.6,74.09 L600.1,73.96 L600.6,73.82 L601.1,73.69 L601.6,73.56 L602.1,73.42 L602.6,73.29 L603.1,73.16 L603.6,73.03 L604.1,72.9 L604.6,72.77 L605.1,72.64 L605.6,72.51 L606.1,72.38 L606.6,72.25 L607.1,72.13 L607.6,72 L608.1,71.88 L608.6,71.75 L609.1,71.63 L609.6,71.5 L610.1,71.38 L610.6,71.26 L611.1,71.14 L611.6,71.02 L612.1,70.9 L612.6,70.78 L613.1,70.66 L613.6,70.54 L614.1,70.43 L614.6,70.31 L615.1,70.2 L615.6,70.08 L616.1,69.97 L616.6,69.86 L617.1,69.74 L617.6,69.63 L618.1,69.52 L618.6,69.41 L619.1,69.3 L619.6,69.19 L620.1,69.09 L620.6,68.98 L621.1,68.88 L621.6,68.77 L622.1,68.67 L622.6,68.56 L623.1,68.46 L623.6,68.36 L624.1,68.26 L624.6,68.16 L625.1,68.06 L625.6,67.96 L626.1,67.86 L626.6,67.77 L627.1,67.67 L627.6,67.58 L628.1,67.48 L628.6,67.39 L629.1,67.3 L629.6,67.21 L630.1,67.12 L630.6,67.03 L631.1,66.94 L631.6,66.85 L632.1,66.77 L632.6,66.68 L633.1,66.6 L633.6,66.51 L634.1,66.43 L634.6,66.35 L635.1,66.27 L635.6,66.19 L636.1,66.11 L636.6,66.03 L637.1,65.96 L637.6,65.88 L638.1,65.81 L638.6,65.73 L639.1,65.66 L639.6,65.59 L640.1,65.52 L640.6,65.45 L641.1,65.38 L641.6,65.31 L642.1,65.24 L642.6,65.18 L643.1,65.11 L643.6,65.05 L644.1,64.99 L644.6,64.93 L645.1,64.87 L645.6,64.81 L646.1,64.75 L646.6,64.69 L647.1,64.64 L647.6,64.58 L648.1,64.53 L648.6,64.48 L649.1,64.43 L649.6,64.38 L650.1,64.33 L650.6,64.28 L651.1,64.23 L651.6,64.19 L652.1,64.14 L652.6,64.1 L653.1,64.06 L653.6,64.01 L654.1,63.98 L654.6,63.94 L655.1,63.9 L655.6,63.86 L656.1,63.83 L656.6,63.79 L657.1,63.76 L657.6,63.73 L658.1,63.7 L658.6,63.67 L659.1,63.64 L659.6,63.62 L660.1,63.59 L660.6,63.57 L661.1,63.54 L661.6,63.52 L662.1,63.5 L662.6,63.48 L663.1,63.46 L663.6,63.45 L664.1,63.43 L664.6,63.42 L665.1,63.41 L665.6,63.39 L666.1,63.38 L666.6,63.38 L667.1,63.37 L667.6,63.36 L668.1,63.36 L668.6,63.35 L669.1,63.35 L669.6,63.35 L670.1,63.35 L670.6,63.35 L671.1,63.36 L671.6,63.36 L672.1,63.37 L672.6,63.37 L673.1,63.38 L673.4,63.39" fill="none" stroke="#5634ee" stroke-width="1.05" stroke-linejoin="round" stroke-linecap="round" />
<path d="M61.5,89.03 L62,92.71 L62.5,95.66 L63,97.94 L63.5,99.59 L64,100.67 L64.5,101.23 L65,101.31 L65.5,100.99 L66,100.29 L66.5,99.28 L67,98 L67.5,96.52 L68,94.87 L68.5,93.11 L69,91.29 L69.5,89.47 L70,87.69 L70.5,86.01 L71,84.48 L71.5,83.14 L72,82.06 L72.5,81.27 L73,80.84 L73.5,80.78 L74,81.05 L74.5,81.62 L75,82.45 L75.5,83.51 L76,84.76 L76.5,86.16 L77,87.69 L77.5,89.3 L78,90.96 L78.5,92.63 L79,94.28 L79.5,95.87 L80,97.37 L80.5,98.74 L81,99.94 L81.5,100.94 L82,101.71 L82.5,102.2 L83,102.42 L83.5,102.36 L84,102.06 L84.5,101.54 L85,100.81 L85.5,99.9 L86,98.82 L86.5,97.6 L87,96.25 L87.5,94.8 L88,93.27 L88.5,91.67 L89,90.03 L89.5,88.37 L90,86.7 L90.5,85.02 L91,83.35 L91.5,81.7 L92,80.06 L92.5,78.44 L93,76.85 L93.5,75.31 L94,73.8 L94.5,72.35 L95,70.95 L95.5,69.61 L96,68.33 L96.5,67.09 L97,65.91 L97.5,64.79 L98,63.71 L98.5,62.68 L99,61.7 L99.5,60.77 L100,59.89 L100.5,59.05 L101,58.25 L101.5,57.5 L102,56.79 L102.5,56.12 L103,55.48 L103.5,54.88 L104,54.3 L104.5,53.76 L105,53.24 L105.5,52.74 L106,52.27 L106.5,51.81 L107,51.38 L107.5,50.95 L108,50.54 L108.5,50.14 L109,49.76 L109.5,49.41 L110,49.1 L110.5,48.85 L111,48.65 L111.5,48.53 L112,48.5 L112.5,48.56 L113,48.73 L113.5,49.01 L114,49.42 L114.5,49.96 L115,50.66 L115.5,51.5 L116,52.49 L116.5,53.61 L117,54.83 L117.5,56.13 L118,57.51 L118.5,58.94 L119,60.41 L119.5,61.89 L120,63.38 L120.5,64.87 L121,66.37 L121.5,67.89 L122,69.42 L122.5,70.97 L123,72.54 L123.5,74.13 L124,75.74 L124.5,77.39 L125,79.08 L125.5,80.81 L126,82.6 L126.5,84.44 L127,86.35 L127.5,88.32 L128,90.34 L128.5,92.4 L129,94.48 L129.5,96.57 L130,98.64 L130.5,100.69 L131,102.7 L131.5,104.64 L132,106.49 L132.5,108.25 L133,109.88 L133.5,111.38 L134,112.78 L134.5,114.08 L135,115.3 L135.5,116.45 L136,117.54 L136.5,118.58 L137,119.6 L137.5,120.59 L138,121.58 L138.5,122.57 L139,123.56 L139.5,124.54 L140,125.52 L140.5,126.49 L141,127.46 L141.5,128.4 L142,129.34 L142.5,130.26 L143,131.16 L143.5,132.04 L144,132.89 L144.5,133.72 L145,134.52 L145.5,135.3 L146,136.03 L146.5,136.74 L147,137.41 L147.5,138.04 L148,138.63 L148.5,139.18 L149,139.69 L149.5,140.17 L150,140.6 L150.5,141 L151,141.36 L151.5,141.69 L152,141.98 L152.5,142.23 L153,142.44 L153.5,142.62 L154,142.76 L154.5,142.87 L155,142.94 L155.5,142.98 L156,142.99 L156.5,142.96 L157,142.89 L157.5,142.8 L158,142.66 L158.5,142.5 L159,142.31 L159.5,142.08 L160,141.82 L160.5,141.52 L161,141.2 L161.5,140.85 L162,140.46 L162.5,140.04 L163,139.6 L163.5,139.13 L164,138.63 L164.5,138.1 L165,137.56 L165.5,136.99 L166,136.41 L166.5,135.82 L167,135.21 L167.5,134.59 L168,133.97 L168.5,133.34 L169,132.7 L169.5,132.07 L170,131.43 L170.5,130.8 L171,130.17 L171.5,129.55 L172,128.95 L172.5,128.35 L173,127.77 L173.5,127.2 L174,126.64 L174.5,126.09 L175,125.54 L175.5,125 L176,124.47 L176.5,123.93 L177,123.38 L177.5,122.83 L178,122.27 L178.5,121.7 L179,121.12 L179.5,120.52 L180,119.9 L180.5,119.26 L181,118.59 L181.5,117.9 L182,117.18 L182.5,116.43 L183,115.65 L183.5,114.83 L184,113.97 L184.5,113.06 L185,112.12 L185.5,111.13 L186,110.09 L186.5,109 L187,107.87 L187.5,106.7 L188,105.5 L188.5,104.26 L189,103.01 L189.5,101.73 L190,100.43 L190.5,99.13 L191,97.81 L191.5,96.5 L192,95.18 L192.5,93.87 L193,92.57 L193.5,91.28 L194,90.01 L194.5,88.77 L195,87.55 L195.5,86.35 L196,85.18 L196.5,84.03 L197,82.91 L197.5,81.8 L198,80.72 L198.5,79.66 L199,78.62 L199.5,77.6 L200,76.61 L200.5,75.63 L201,74.67 L201.5,73.73 L202,72.81 L202.5,71.9 L203,71.02 L203.5,70.15 L204,69.3 L204.5,68.46 L205,67.64 L205.5,66.84 L206,66.04 L206.5,65.27 L207,64.51 L207.5,63.76 L208,63.02 L208.5,62.3 L209,61.59 L209.5,60.89 L210,60.2 L210.5,59.52 L211,58.86 L211.5,58.2 L212,57.55 L212.5,56.92 L213,56.29 L213.5,55.66 L214,55.05 L214.5,54.44 L215,53.84 L215.5,53.25 L216,52.66 L216.5,52.09 L217,51.51 L217.5,50.95 L218,50.39 L218.5,49.84 L219,49.29 L219.5,48.76 L220,48.23 L220.5,47.71 L221,47.19 L221.5,46.68 L222,46.18 L222.5,45.69 L223,45.21 L223.5,44.73 L224,44.26 L224.5,43.8 L225,43.34 L225.5,42.89 L226,42.46 L226.5,42.02 L227,41.6 L227.5,41.19 L228,40.78 L228.5,40.38 L229,39.99 L229.5,39.61 L230,39.23 L230.5,38.87 L231,38.51 L231.5,38.16 L232,37.82 L232.5,37.48 L233,37.16 L233.5,36.84 L234,36.54 L234.5,36.24 L235,35.95 L235.5,35.66 L236,35.39 L236.5,35.13 L237,34.87 L237.5,34.63 L238,34.39 L238.5,34.16 L239,33.94 L239.5,33.73 L240,33.53 L240.5,33.34 L241,33.16 L241.5,32.98 L242,32.82 L242.5,32.67 L243,32.52 L243.5,32.39 L244,32.26 L244.5,32.14 L245,32.03 L245.5,31.93 L246,31.84 L246.5,31.76 L247,31.69 L247.5,31.62 L248,31.56 L248.5,31.52 L249,31.48 L249.5,31.44 L250,31.42 L250.5,31.4 L251,31.4 L251.5,31.4 L252,31.4 L252.5,31.42 L253,31.44 L253.5,31.47 L254,31.51 L254.5,31.55 L255,31.6 L255.5,31.66 L256,31.73 L256.5,31.8 L257,31.88 L257.5,31.96 L258,32.05 L258.5,32.15 L259,32.26 L259.5,32.37 L260,32.49 L260.5,32.61 L261,32.74 L261.5,32.87 L262,33.01 L262.5,33.16 L263,33.31 L263.5,33.47 L264,33.63 L264.5,33.8 L265,33.97 L265.5,34.15 L266,34.33 L266.5,34.52 L267,34.71 L267.5,34.91 L268,35.12 L268.5,35.32 L269,35.53 L269.5,35.75 L270,35.97 L270.5,36.19 L271,36.42 L271.5,36.65 L272,36.89 L272.5,37.13 L273,37.37 L273.5,37.62 L274,37.87 L274.5,38.12 L275,38.38 L275.5,38.64 L276,38.91 L276.5,39.17 L277,39.45 L277.5,39.72 L278,40 L278.5,40.28 L279,40.56 L279.5,40.84 L280,41.13 L280.5,41.42 L281,41.72 L281.5,42.01 L282,42.31 L282.5,42.61 L283,42.91 L283.5,43.22 L284,43.53 L284.5,43.84 L285,44.15 L285.5,44.46 L286,44.78 L286.5,45.09 L287,45.41 L287.5,45.73 L288,46.06 L288.5,46.38 L289,46.71 L289.5,47.03 L290,47.36 L290.5,47.69 L291,48.02 L291.5,48.35 L292,48.69 L292.5,49.02 L293,49.36 L293.5,49.69 L294,50.03 L294.5,50.36 L295,50.7 L295.5,51.04 L296,51.38 L296.5,51.72 L297,52.06 L297.5,52.4 L298,52.74 L298.5,53.09 L299,53.43 L299.5,53.77 L300,54.12 L300.5,54.46 L301,54.81 L301.5,55.15 L302,55.5 L302.5,55.85 L303,56.19 L303.5,56.54 L304,56.89 L304.5,57.24 L305,57.6 L305.5,57.95 L306,58.3 L306.5,58.65 L307,59.01 L307.5,59.36 L308,59.72 L308.5,60.07 L309,60.43 L309.5,60.79 L310,61.15 L310.5,61.51 L311,61.87 L311.5,62.23 L312,62.59 L312.5,62.96 L313,63.32 L313.5,63.69 L314,64.05 L314.5,64.42 L315,64.79 L315.5,65.15 L316,65.52 L316.5,65.89 L317,66.26 L317.5,66.64 L318,67.01 L318.5,67.38 L319,67.76 L319.5,68.13 L320,68.51 L320.5,68.89 L321,69.27 L321.5,69.65 L322,70.03 L322.5,70.41 L323,70.79 L323.5,71.18 L324,71.56 L324.5,71.95 L325,72.34 L325.5,72.72 L326,73.11 L326.5,73.5 L327,73.9 L327.5,74.29 L328,74.68 L328.5,75.08 L329,75.47 L329.5,75.87 L330,76.27 L330.5,76.67 L331,77.07 L331.5,77.47 L332,77.87 L332.5,78.27 L333,78.68 L333.5,79.09 L334,79.49 L334.5,79.9 L335,80.31 L335.5,80.72 L336,81.14 L336.5,81.55 L337,81.96 L337.5,82.38 L338,82.8 L338.5,83.22 L339,83.64 L339.5,84.06 L340,84.48 L340.5,84.9 L341,85.33 L341.5,85.75 L342,86.18 L342.5,86.61 L343,87.04 L343.5,87.47 L344,87.91 L344.5,88.34 L345,88.78 L345.5,89.21 L346,89.65 L346.5,90.09 L347,90.53 L347.5,90.98 L348,91.42 L348.5,91.86 L349,92.31 L349.5,92.75 L350,93.2 L350.5,93.65 L351,94.1 L351.5,94.55 L352,95 L352.5,95.45 L353,95.9 L353.5,96.35 L354,96.8 L354.5,97.25 L355,97.7 L355.5,98.15 L356,98.6 L356.5,99.05 L357,99.5 L357.5,99.95 L358,100.4 L358.5,100.84 L359,101.29 L359.5,101.74 L360,102.19 L360.5,102.63 L361,103.08 L361.5,103.52 L362,103.96 L362.5,104.4 L363,104.84 L363.5,105.28 L364,105.72 L364.5,106.15 L365,106.59 L365.5,107.02 L366,107.45 L366.5,107.88 L367,108.31 L367.5,108.73 L368,109.16 L368.5,109.58 L369,110 L369.5,110.41 L370,110.83 L370.5,111.24 L371,111.65 L371.5,112.06 L372,112.46 L372.5,112.86 L373,113.26 L373.5,113.66 L374,114.05 L374.5,114.44 L375,114.83 L375.5,115.21 L376,115.59 L376.5,115.97 L377,116.34 L377.5,116.71 L378,117.08 L378.5,117.44 L379,117.8 L379.5,118.16 L380,118.51 L380.5,118.86 L381,119.2 L381.5,119.54 L382,119.87 L382.5,120.2 L383,120.53 L383.5,120.85 L384,121.17 L384.5,121.48 L385,121.79 L385.5,122.1 L386,122.39 L386.5,122.69 L387,122.98 L387.5,123.26 L388,123.54 L388.5,123.81 L389,124.08 L389.5,124.34 L390,124.6 L390.5,124.85 L391,125.1 L391.5,125.35 L392,125.58 L392.5,125.82 L393,126.04 L393.5,126.27 L394,126.49 L394.5,126.7 L395,126.91 L395.5,127.11 L396,127.31 L396.5,127.51 L397,127.7 L397.5,127.88 L398,128.07 L398.5,128.24 L399,128.41 L399.5,128.58 L400,128.75 L400.5,128.91 L401,129.06 L401.5,129.21 L402,129.36 L402.5,129.5 L403,129.64 L403.5,129.77 L404,129.9 L404.5,130.03 L405,130.15 L405.5,130.27 L406,130.38 L406.5,130.49 L407,130.6 L407.5,130.7 L408,130.8 L408.5,130.89 L409,130.98 L409.5,131.07 L410,131.15 L410.5,131.23 L411,131.31 L411.5,131.38 L412,131.45 L412.5,131.52 L413,131.58 L413.5,131.64 L414,131.69 L414.5,131.75 L415,131.79 L415.5,131.84 L416,131.88 L416.5,131.92 L417,131.96 L417.5,131.99 L418,132.02 L418.5,132.05 L419,132.07 L419.5,132.09 L420,132.11 L420.5,132.12 L421,132.14 L421.5,132.15 L422,132.15 L422.5,132.16 L423,132.16 L423.5,132.16 L424,132.15 L424.5,132.14 L425,132.14 L425.5,132.12 L426,132.11 L426.5,132.09 L427,132.07 L427.5,132.05 L428,132.03 L428.5,132 L429,131.97 L429.5,131.94 L430,131.91 L430.5,131.87 L431,131.83 L431.5,131.79 L432,131.75 L432.5,131.71 L433,131.66 L433.5,131.62 L434,131.57 L434.5,131.51 L435,131.46 L435.5,131.41 L436,131.35 L436.5,131.29 L437,131.23 L437.5,131.17 L438,131.1 L438.5,131.04 L439,130.97 L439.5,130.9 L440,130.83 L440.5,130.76 L441,130.69 L441.5,130.62 L442,130.54 L442.5,130.46 L443,130.39 L443.5,130.31 L444,130.23 L444.5,130.14 L445,130.06 L445.5,129.98 L446,129.89 L446.5,129.8 L447,129.72 L447.5,129.63 L448,129.54 L448.5,129.44 L449,129.35 L449.5,129.26 L450,129.16 L450.5,129.06 L451,128.97 L451.5,128.87 L452,128.77 L452.5,128.67 L453,128.56 L453.5,128.46 L454,128.35 L454.5,128.25 L455,128.14 L455.5,128.03 L456,127.92 L456.5,127.81 L457,127.7 L457.5,127.58 L458,127.47 L458.5,127.35 L459,127.24 L459.5,127.12 L460,127 L460.5,126.88 L461,126.76 L461.5,126.64 L462,126.51 L462.5,126.39 L463,126.26 L463.5,126.13 L464,126.01 L464.5,125.88 L465,125.75 L465.5,125.62 L466,125.48 L466.5,125.35 L467,125.21 L467.5,125.08 L468,124.94 L468.5,124.8 L469,124.66 L469.5,124.52 L470,124.38 L470.5,124.24 L471,124.1 L471.5,123.95 L472,123.81 L472.5,123.66 L473,123.51 L473.5,123.37 L474,123.22 L474.5,123.07 L475,122.91 L475.5,122.76 L476,122.61 L476.5,122.45 L477,122.3 L477.5,122.14 L478,121.98 L478.5,121.83 L479,121.67 L479.5,121.51 L480,121.34 L480.5,121.18 L481,121.02 L481.5,120.85 L482,120.69 L482.5,120.52 L483,120.36 L483.5,120.19 L484,120.02 L484.5,119.85 L485,119.68 L485.5,119.5 L486,119.33 L486.5,119.16 L487,118.98 L487.5,118.81 L488,118.63 L488.5,118.45 L489,118.28 L489.5,118.1 L490,117.92 L490.5,117.73 L491,117.55 L491.5,117.37 L492,117.19 L492.5,117 L493,116.82 L493.5,116.63 L494,116.44 L494.5,116.25 L495,116.07 L495.5,115.88 L496,115.68 L496.5,115.49 L497,115.3 L497.5,115.11 L498,114.91 L498.5,114.72 L499,114.52 L499.5,114.33 L500,114.13 L500.5,113.93 L501,113.73 L501.5,113.53 L502,113.33 L502.5,113.13 L503,112.93 L503.5,112.73 L504,112.52 L504.5,112.32 L505,112.11 L505.5,111.91 L506,111.7 L506.5,111.49 L507,111.28 L507.5,111.07 L508,110.86 L508.5,110.65 L509,110.44 L509.5,110.23 L510,110.02 L510.5,109.8 L511,109.59 L511.5,109.38 L512,109.16 L512.5,108.94 L513,108.73 L513.5,108.51 L514,108.29 L514.5,108.07 L515,107.85 L515.5,107.64 L516,107.41 L516.5,107.19 L517,106.97 L517.5,106.75 L518,106.53 L518.5,106.3 L519,106.08 L519.5,105.86 L520,105.63 L520.5,105.4 L521,105.18 L521.5,104.95 L522,104.72 L522.5,104.5 L523,104.27 L523.5,104.04 L524,103.81 L524.5,103.58 L525,103.35 L525.5,103.12 L526,102.89 L526.5,102.66 L527,102.42 L527.5,102.19 L528,101.96 L528.5,101.73 L529,101.49 L529.5,101.26 L530,101.02 L530.5,100.79 L531,100.55 L531.5,100.32 L532,100.08 L532.5,99.84 L533,99.61 L533.5,99.37 L534,99.13 L534.5,98.89 L535,98.66 L535.5,98.42 L536,98.18 L536.5,97.94 L537,97.7 L537.5,97.46 L538,97.22 L538.5,96.98 L539,96.74 L539.5,96.5 L540,96.25 L540.5,96.01 L541,95.77 L541.5,95.53 L542,95.29 L542.5,95.04 L543,94.8 L543.5,94.56 L544,94.32 L544.5,94.07 L545,93.83 L545.5,93.58 L546,93.34 L546.5,93.1 L547,92.85 L547.5,92.61 L548,92.36 L548.5,92.12 L549,91.87 L549.5,91.63 L550,91.38 L550.5,91.14 L551,90.89 L551.5,90.65 L552,90.4 L552.5,90.16 L553,89.91 L553.5,89.66 L554,89.42 L554.5,89.17 L555,88.93 L555.5,88.68 L556,88.43 L556.5,88.19 L557,87.94 L557.5,87.7 L558,87.45 L558.5,87.2 L559,86.96 L559.5,86.71 L560,86.47 L560.5,86.22 L561,85.97 L561.5,85.73 L562,85.48 L562.5,85.24 L563,84.99 L563.5,84.74 L564,84.5 L564.5,84.25 L565,84.01 L565.5,83.76 L566,83.52 L566.5,83.27 L567,83.03 L567.5,82.78 L568,82.54 L568.5,82.29 L569,82.05 L569.5,81.8 L570,81.56 L570.5,81.31 L571,81.07 L571.5,80.83 L572,80.58 L572.5,80.34 L573,80.1 L573.5,79.85 L574,79.61 L574.5,79.37 L575,79.13 L575.5,78.88 L576,78.64 L576.5,78.4 L577,78.16 L577.5,77.92 L578,77.68 L578.5,77.44 L579,77.2 L579.5,76.96 L580,76.72 L580.5,76.48 L581,76.24 L581.5,76 L582,75.76 L582.5,75.52 L583,75.29 L583.5,75.05 L584,74.81 L584.5,74.58 L585,74.34 L585.5,74.1 L586,73.87 L586.5,73.63 L587,73.4 L587.5,73.16 L588,72.93 L588.5,72.7 L589,72.46 L589.5,72.23 L590,72 L590.5,71.77 L591,71.53 L591.5,71.3 L592,71.07 L592.5,70.84 L593,70.61 L593.5,70.38 L594,70.15 L594.5,69.93 L595,69.7 L595.5,69.47 L596,69.24 L596.5,69.02 L597,68.79 L597.5,68.57 L598,68.34 L598.5,68.12 L599,67.9 L599.5,67.67 L600,67.45 L600.5,67.23 L601,67.01 L601.5,66.79 L602,66.57 L602.5,66.35 L603,66.13 L603.5,65.91 L604,65.69 L604.5,65.47 L605,65.26 L605.5,65.04 L606,64.83 L606.5,64.61 L607,64.4 L607.5,64.19 L608,63.97 L608.5,63.76 L609,63.55 L609.5,63.34 L610,63.13 L610.5,62.92 L611,62.71 L611.5,62.51 L612,62.3 L612.5,62.09 L613,61.89 L613.5,61.68 L614,61.48 L614.5,61.28 L615,61.07 L615.5,60.87 L616,60.67 L616.5,60.47 L617,60.27 L617.5,60.07 L618,59.88 L618.5,59.68 L619,59.48 L619.5,59.29 L620,59.09 L620.5,58.9 L621,58.71 L621.5,58.51 L622,58.32 L622.5,58.13 L623,57.94 L623.5,57.76 L624,57.57 L624.5,57.38 L625,57.2 L625.5,57.01 L626,56.83 L626.5,56.65 L627,56.46 L627.5,56.28 L628,56.1 L628.5,55.92 L629,55.74 L629.5,55.57 L630,55.39 L630.5,55.22 L631,55.04 L631.5,54.87 L632,54.7 L632.5,54.52 L633,54.35 L633.5,54.18 L634,54.02 L634.5,53.85 L635,53.68 L635.5,53.52 L636,53.35 L636.5,53.19 L637,53.03 L637.5,52.87 L638,52.71 L638.5,52.55 L639,52.39 L639.5,52.23 L640,52.08 L640.5,51.92 L641,51.77 L641.5,51.62 L642,51.47 L642.5,51.32 L643,51.17 L643.5,51.02 L644,50.88 L644.5,50.73 L645,50.59 L645.5,50.44 L646,50.3 L646.5,50.16 L647,50.02 L647.5,49.88 L648,49.75 L648.5,49.61 L649,49.48 L649.5,49.34 L650,49.21 L650.5,49.08 L651,48.95 L651.5,48.82 L652,48.7 L652.5,48.57 L653,48.45 L653.5,48.32 L654,48.2 L654.5,48.08 L655,47.96 L655.5,47.84 L656,47.73 L656.5,47.61 L657,47.5 L657.5,47.38 L658,47.27 L658.5,47.16 L659,47.06 L659.5,46.95 L660,46.84 L660.5,46.74 L661,46.63 L661.5,46.53 L662,46.43 L662.5,46.33 L663,46.24 L663.5,46.14 L664,46.05 L664.5,45.95 L665,45.86 L665.5,45.77 L666,45.68 L666.5,45.59 L667,45.51 L667.5,45.42 L668,45.34 L668.5,45.26 L669,45.18 L669.5,45.1 L670,45.02 L670.5,44.95 L671,44.88 L671.5,44.8 L672,44.73 L672.5,44.66 L673,44.6 L673.4,44.54" fill="none" stroke="#a334f4" stroke-width="1.05" stroke-linejoin="round" stroke-linecap="round" />
</g>
<clipPath id="clipa"><rect x="53" y="22" width="621" height="131"/></clipPath>
<line x1="271.9" y1="37.3" x2="294.7" y2="35.2" stroke="#222" stroke-width="0.9" />
<line x1="282.8" y1="49.6" x2="312.7" y2="49.2" stroke="#222" stroke-width="0.9" />
<line x1="295" y1="60.8" x2="331" y2="63.5" stroke="#222" stroke-width="0.9" />
<line x1="298.5" y1="65.9" x2="343.4" y2="75.6" stroke="#222" stroke-width="0.9" />
<line x1="470.6" y1="102.4" x2="484.5" y2="125.8" stroke="#222" stroke-width="0.9" />
<line x1="490.4" y1="93.1" x2="526.8" y2="114.5" stroke="#222" stroke-width="0.9" />
<line x1="507.9" y1="88" x2="568.6" y2="96.6" stroke="#222" stroke-width="0.9" />
<text transform="translate(296.2,39.8) scale(0.93,1)" font-size="14.6" text-anchor="start" fill="#000" stroke="none" font-weight="normal"  >2 K</text>
<text transform="translate(315,53.1) scale(0.93,1)" font-size="14.6" text-anchor="start" fill="#000" stroke="none" font-weight="normal"  >4 K</text>
<text transform="translate(333.4,66.6) scale(0.93,1)" font-size="14.6" text-anchor="start" fill="#000" stroke="none" font-weight="normal"  >12 K</text>
<text transform="translate(349.1,80.1) scale(0.93,1)" font-size="14.6" text-anchor="start" fill="#000" stroke="none" font-weight="normal"  >20 K</text>
<text transform="translate(473.7,141.3) scale(0.93,1)" font-size="14.6" text-anchor="start" fill="#000" stroke="none" font-weight="normal"  >30 K</text>
<text transform="translate(516,127.8) scale(0.93,1)" font-size="14.6" text-anchor="start" fill="#000" stroke="none" font-weight="normal"  >40 K</text>
<text transform="translate(558.3,108) scale(0.93,1)" font-size="14.6" text-anchor="start" fill="#000" stroke="none" font-weight="normal"  >50 K</text>
<text transform="translate(635.5,38) scale(0.88,1)" font-size="15.4" text-anchor="start" fill="#000" stroke="#000" font-weight="normal"  >S74</text>
<line x1="53.7" y1="22.7" x2="673.5" y2="22.7" stroke="#444" stroke-width="1.3" />
<line x1="53.7" y1="152.3" x2="673.5" y2="152.3" stroke="#a0a0a0" stroke-width="1.3" />
<line x1="53.7" y1="22.7" x2="53.7" y2="152.3" stroke="#999" stroke-width="1.3" />
<line x1="673.5" y1="22.7" x2="673.5" y2="152.3" stroke="#555" stroke-width="1.3" />
<line x1="53.7" y1="152.3" x2="53.7" y2="149.3" stroke="#333" stroke-width="1" />
<line x1="53.7" y1="22.7" x2="53.7" y2="25.7" stroke="#333" stroke-width="1" />
<line x1="157" y1="152.3" x2="157" y2="150.3" stroke="#333" stroke-width="1" />
<line x1="157" y1="22.7" x2="157" y2="24.7" stroke="#333" stroke-width="1" />
<line x1="260.3" y1="152.3" x2="260.3" y2="149.3" stroke="#333" stroke-width="1" />
<line x1="260.3" y1="22.7" x2="260.3" y2="25.7" stroke="#333" stroke-width="1" />
<line x1="363.6" y1="152.3" x2="363.6" y2="150.3" stroke="#333" stroke-width="1" />
<line x1="363.6" y1="22.7" x2="363.6" y2="24.7" stroke="#333" stroke-width="1" />
<line x1="466.9" y1="152.3" x2="466.9" y2="149.3" stroke="#333" stroke-width="1" />
<line x1="466.9" y1="22.7" x2="466.9" y2="25.7" stroke="#333" stroke-width="1" />
<line x1="570.2" y1="152.3" x2="570.2" y2="150.3" stroke="#333" stroke-width="1" />
<line x1="570.2" y1="22.7" x2="570.2" y2="24.7" stroke="#333" stroke-width="1" />
<line x1="673.5" y1="152.3" x2="673.5" y2="149.3" stroke="#333" stroke-width="1" />
<line x1="673.5" y1="22.7" x2="673.5" y2="25.7" stroke="#333" stroke-width="1" />
<line x1="53.7" y1="152.5" x2="56.7" y2="152.5" stroke="#555" stroke-width="1" />
<line x1="673.5" y1="152.5" x2="670.5" y2="152.5" stroke="#555" stroke-width="1" />
<line x1="53.7" y1="136.25" x2="55.7" y2="136.25" stroke="#555" stroke-width="1" />
<line x1="673.5" y1="136.25" x2="671.5" y2="136.25" stroke="#555" stroke-width="1" />
<line x1="53.7" y1="120" x2="56.7" y2="120" stroke="#555" stroke-width="1" />
<line x1="673.5" y1="120" x2="670.5" y2="120" stroke="#555" stroke-width="1" />
<line x1="53.7" y1="103.75" x2="55.7" y2="103.75" stroke="#555" stroke-width="1" />
<line x1="673.5" y1="103.75" x2="671.5" y2="103.75" stroke="#555" stroke-width="1" />
<line x1="53.7" y1="87.5" x2="56.7" y2="87.5" stroke="#555" stroke-width="1" />
<line x1="673.5" y1="87.5" x2="670.5" y2="87.5" stroke="#555" stroke-width="1" />
<line x1="53.7" y1="71.25" x2="55.7" y2="71.25" stroke="#555" stroke-width="1" />
<line x1="673.5" y1="71.25" x2="671.5" y2="71.25" stroke="#555" stroke-width="1" />
<line x1="53.7" y1="55" x2="56.7" y2="55" stroke="#555" stroke-width="1" />
<line x1="673.5" y1="55" x2="670.5" y2="55" stroke="#555" stroke-width="1" />
<line x1="53.7" y1="38.75" x2="55.7" y2="38.75" stroke="#555" stroke-width="1" />
<line x1="673.5" y1="38.75" x2="671.5" y2="38.75" stroke="#555" stroke-width="1" />
<line x1="53.7" y1="22.5" x2="56.7" y2="22.5" stroke="#555" stroke-width="1" />
<line x1="673.5" y1="22.5" x2="670.5" y2="22.5" stroke="#555" stroke-width="1" />
<text x="50.8" y="27.1" font-size="13.8" text-anchor="end" fill="#000" stroke="none" font-weight="normal"  >1.0</text>
<text x="50.8" y="59.6" font-size="13.8" text-anchor="end" fill="#000" stroke="none" font-weight="normal"  >0.5</text>
<text x="50.8" y="92.1" font-size="13.8" text-anchor="end" fill="#000" stroke="none" font-weight="normal"  >0.0</text>
<text x="50.8" y="124.6" font-size="13.8" text-anchor="end" fill="#000" stroke="none" font-weight="normal"  >-0.5</text>
<text x="50.8" y="157.1" font-size="13.8" text-anchor="end" fill="#000" stroke="none" font-weight="normal"  >-1.0</text>
<text x="53.7" y="165.6" font-size="13.8" text-anchor="middle" fill="#000" stroke="none" font-weight="normal"  >0</text>
<text x="260.3" y="165.6" font-size="13.8" text-anchor="middle" fill="#000" stroke="none" font-weight="normal"  >3</text>
<text x="466.9" y="165.6" font-size="13.8" text-anchor="middle" fill="#000" stroke="none" font-weight="normal"  >6</text>
<text x="673.5" y="165.6" font-size="13.8" text-anchor="middle" fill="#000" stroke="none" font-weight="normal"  >9</text>
<text x="367.6" y="181.8" font-size="16.9" text-anchor="middle" fill="#000" stroke="#000" font-weight="normal"  >&#956;<tspan font-size="10.5" dy="4.5">0</tspan><tspan dy="-4.5" font-style="italic">H</tspan> (T)</text>
<text transform="translate(20.6,87.7) rotate(-90)" font-size="16.4" text-anchor="middle" fill="#000" stroke="#000">&#916;&#961;<tspan font-size="11" dy="3">xx</tspan><tspan dy="-3"> (m&#937; cm)</tspan></text>
<text transform="translate(1.6,16) scale(0.94,1)" font-size="18" text-anchor="start" fill="#000" stroke="none" font-weight="bold"  >a</text>
<path d="M66,371.8 C67.17,371.92 70.67,372.05 73,372.5 C75.33,372.95 77.5,373.67 80,374.5 C82.5,375.33 85.5,376.55 88,377.5 C90.5,378.45 92.5,379.28 95,380.2 C97.5,381.12 100.5,382.12 103,383 C105.5,383.88 107.83,384.75 110,385.5 C112.17,386.25 113.97,386.83 116,387.5 C118.03,388.17 121.17,389.17 122.2,389.5" fill="none" stroke="#999933" stroke-width="1.1" stroke-linejoin="round" stroke-linecap="round" />
<path d="M78.6,373.3 C80.5,373.5 86.43,374.02 90,374.5 C93.57,374.98 95.73,375.53 100,376.2 C104.27,376.87 113,378.12 115.6,378.5" fill="none" stroke="#f42a2a" stroke-width="1.1" stroke-linejoin="round" stroke-linecap="round" />
<path d="M84.5,403.5 C85.75,403.55 89.42,403.55 92,403.8 C94.58,404.05 97.67,404.47 100,405 C102.33,405.53 104,406.17 106,407 C108,407.83 109.67,408.97 112,410 C114.33,411.03 118.67,412.67 120,413.2" fill="none" stroke="#ff8030" stroke-width="1.1" stroke-linejoin="round" stroke-linecap="round" />
<path d="M68.5,302.8 C69.48,303.08 72.37,303.8 74.4,304.5 C76.43,305.2 78.53,305.92 80.7,307 C82.87,308.08 85.22,309.58 87.4,311 C89.58,312.42 91.75,313.83 93.8,315.5 C95.85,317.17 97.58,318.92 99.7,321 C101.82,323.08 104.3,325.92 106.5,328 C108.7,330.08 110.62,331.42 112.9,333.5 C115.18,335.58 116.45,336.88 120.2,340.5 C123.95,344.12 130.13,350.13 135.4,355.2 C140.67,360.27 146.32,366.38 151.8,370.9 C157.28,375.42 162.82,378.72 168.3,382.3 C173.78,385.88 179.22,389.03 184.7,392.4 C190.18,395.77 195.78,399.67 201.2,402.5 C206.62,405.33 214.53,408.25 217.2,409.4" fill="none" stroke="#b03ef0" stroke-width="1.1" stroke-linejoin="round" stroke-linecap="round" />
<path d="M65.8,274.7 C67.2,275.5 71.67,278.2 74.2,279.5 C76.73,280.8 78.75,281.5 81,282.5 C83.25,283.5 85.53,284.55 87.7,285.5 C89.87,286.45 91.95,287.2 94,288.2 C96.05,289.2 97.85,290.25 100,291.5 C102.15,292.75 104.73,294.2 106.9,295.7 C109.07,297.2 110.82,298.87 113,300.5 C115.18,302.13 116.27,302.25 120,305.5 C123.73,308.75 130.1,315.02 135.4,320 C140.7,324.98 146.32,330.3 151.8,335.4 C157.28,340.5 162.82,345.45 168.3,350.6 C173.78,355.75 179.22,361.87 184.7,366.3 C190.18,370.73 195.78,374.12 201.2,377.2 C206.62,380.28 214.53,383.53 217.2,384.8" fill="none" stroke="#3ee03e" stroke-width="1.1" stroke-linejoin="round" stroke-linecap="round" />
<path d="M74.2,262.7 C75.33,263.17 78.75,264.37 81,265.5 C83.25,266.63 85.6,268 87.7,269.5 C89.8,271 91.5,272.67 93.6,274.5 C95.7,276.33 98.08,278.42 100.3,280.5 C102.52,282.58 104.78,284.67 106.9,287 C109.02,289.33 110.78,291.92 113,294.5 C115.22,297.08 116.47,298 120.2,302.5 C123.93,307 130.13,315.38 135.4,321.5 C140.67,327.62 146.32,333.42 151.8,339.2 C157.28,344.98 162.82,350.83 168.3,356.2 C173.78,361.57 179.22,366.85 184.7,371.4 C190.18,375.95 195.78,379.7 201.2,383.5 C206.62,387.3 214.53,392.42 217.2,394.2" fill="none" stroke="#6235e8" stroke-width="1.1" stroke-linejoin="round" stroke-linecap="round" />
<path d="M74,230 C75.17,230.67 78.78,232.33 81,234 C83.22,235.67 85.13,237.92 87.3,240 C89.47,242.08 91.83,244.08 94,246.5 C96.17,248.92 98.15,251.92 100.3,254.5 C102.45,257.08 104.75,259.5 106.9,262 C109.05,264.5 111.02,266.83 113.2,269.5 C115.38,272.17 116.3,272.92 120,278 C123.7,283.08 130.1,292.95 135.4,300 C140.7,307.05 146.32,313.55 151.8,320.3 C157.28,327.05 162.82,333.97 168.3,340.5 C173.78,347.03 179.22,354.02 184.7,359.5 C190.18,364.98 195.92,369.4 201.2,373.4 C206.48,377.4 213.87,381.82 216.4,383.5" fill="none" stroke="#2a90f0" stroke-width="1.1" stroke-linejoin="round" stroke-linecap="round" />
<path d="M68,367.6 L65.2,372.3 L70.8,372.3 Z" fill="none" stroke="#999933" stroke-width="0.9"/>
<path d="M74.2,367.6 L71.4,372.3 L77,372.3 Z" fill="none" stroke="#999933" stroke-width="0.9"/>
<path d="M80.4,372.8 L77.6,377.5 L83.2,377.5 Z" fill="none" stroke="#999933" stroke-width="0.9"/>
<path d="M86.8,375 L84,379.7 L89.6,379.7 Z" fill="none" stroke="#999933" stroke-width="0.9"/>
<path d="M93.7,378.3 L90.9,383 L96.5,383 Z" fill="none" stroke="#999933" stroke-width="0.9"/>
<path d="M100,379.5 L97.2,384.2 L102.8,384.2 Z" fill="none" stroke="#999933" stroke-width="0.9"/>
<path d="M106.7,383.1 L103.9,387.8 L109.5,387.8 Z" fill="none" stroke="#999933" stroke-width="0.9"/>
<path d="M113.3,384.6 L110.5,389.3 L116.1,389.3 Z" fill="none" stroke="#999933" stroke-width="0.9"/>
<path d="M120,385.3 L117.2,390 L122.8,390 Z" fill="none" stroke="#999933" stroke-width="0.9"/>
<path d="M80.8,369.9 L78,374.6 L83.6,374.6 Z" fill="none" stroke="#f42a2a" stroke-width="0.9"/>
<path d="M87.2,368.4 L84.4,373.1 L90,373.1 Z" fill="none" stroke="#f42a2a" stroke-width="0.9"/>
<path d="M93.7,372.1 L90.9,376.8 L96.5,376.8 Z" fill="none" stroke="#f42a2a" stroke-width="0.9"/>
<path d="M100,375 L97.2,379.7 L102.8,379.7 Z" fill="none" stroke="#f42a2a" stroke-width="0.9"/>
<path d="M106.7,373.5 L103.9,378.2 L109.5,378.2 Z" fill="none" stroke="#f42a2a" stroke-width="0.9"/>
<path d="M113.3,374.3 L110.5,379 L116.1,379 Z" fill="none" stroke="#f42a2a" stroke-width="0.9"/>
<path d="M87.2,399.4 L84.4,404.1 L90,404.1 Z" fill="none" stroke="#ff8030" stroke-width="0.9"/>
<path d="M93.7,399.4 L90.9,404.1 L96.5,404.1 Z" fill="none" stroke="#ff8030" stroke-width="0.9"/>
<path d="M100.5,398.7 L97.7,403.4 L103.3,403.4 Z" fill="none" stroke="#ff8030" stroke-width="0.9"/>
<path d="M106.7,406.8 L103.9,411.5 L109.5,411.5 Z" fill="none" stroke="#ff8030" stroke-width="0.9"/>
<path d="M113.3,404.3 L110.5,409 L116.1,409 Z" fill="none" stroke="#ff8030" stroke-width="0.9"/>
<path d="M119.7,414.2 L116.9,418.9 L122.5,418.9 Z" fill="none" stroke="#ff8030" stroke-width="0.9"/>
<path d="M74.2,266.9 L71.4,271.6 L77,271.6 Z" fill="none" stroke="#b03ef0" stroke-width="0.9"/>
<path d="M67.7,295.4 L64.9,300.1 L70.5,300.1 Z" fill="none" stroke="#b03ef0" stroke-width="0.9"/>
<path d="M74.4,309.3 L71.6,314 L77.2,314 Z" fill="none" stroke="#b03ef0" stroke-width="0.9"/>
<path d="M80.7,303.5 L77.9,308.2 L83.5,308.2 Z" fill="none" stroke="#b03ef0" stroke-width="0.9"/>
<path d="M87.4,307.3 L84.6,312 L90.2,312 Z" fill="none" stroke="#b03ef0" stroke-width="0.9"/>
<path d="M93.8,312.7 L91,317.4 L96.6,317.4 Z" fill="none" stroke="#b03ef0" stroke-width="0.9"/>
<path d="M99.7,320.8 L96.9,325.5 L102.5,325.5 Z" fill="none" stroke="#b03ef0" stroke-width="0.9"/>
<path d="M106.5,327.1 L103.7,331.8 L109.3,331.8 Z" fill="none" stroke="#b03ef0" stroke-width="0.9"/>
<path d="M112.9,331.6 L110.1,336.3 L115.7,336.3 Z" fill="none" stroke="#b03ef0" stroke-width="0.9"/>
<path d="M119.6,337.2 L116.8,341.9 L122.4,341.9 Z" fill="none" stroke="#b03ef0" stroke-width="0.9"/>
<path d="M151.8,368.7 L149,373.4 L154.6,373.4 Z" fill="none" stroke="#b03ef0" stroke-width="0.9"/>
<path d="M184.7,389.7 L181.9,394.4 L187.5,394.4 Z" fill="none" stroke="#b03ef0" stroke-width="0.9"/>
<path d="M217,407.4 L214.2,412.1 L219.8,412.1 Z" fill="none" stroke="#b03ef0" stroke-width="0.9"/>
<path d="M67.7,273.3 L64.9,278 L70.5,278 Z" fill="none" stroke="#3ee03e" stroke-width="0.9"/>
<path d="M74.2,277.4 L71.4,282.1 L77,282.1 Z" fill="none" stroke="#3ee03e" stroke-width="0.9"/>
<path d="M81,280.8 L78.2,285.5 L83.8,285.5 Z" fill="none" stroke="#3ee03e" stroke-width="0.9"/>
<path d="M87.7,284 L84.9,288.7 L90.5,288.7 Z" fill="none" stroke="#3ee03e" stroke-width="0.9"/>
<path d="M94,283.8 L91.2,288.5 L96.8,288.5 Z" fill="none" stroke="#3ee03e" stroke-width="0.9"/>
<path d="M100,289.7 L97.2,294.4 L102.8,294.4 Z" fill="none" stroke="#3ee03e" stroke-width="0.9"/>
<path d="M106.9,294.1 L104.1,298.8 L109.7,298.8 Z" fill="none" stroke="#3ee03e" stroke-width="0.9"/>
<path d="M113,298.6 L110.2,303.3 L115.8,303.3 Z" fill="none" stroke="#3ee03e" stroke-width="0.9"/>
<path d="M119.3,303.5 L116.5,308.2 L122.1,308.2 Z" fill="none" stroke="#3ee03e" stroke-width="0.9"/>
<path d="M151.8,320.1 L149,324.8 L154.6,324.8 Z" fill="none" stroke="#3ee03e" stroke-width="0.9"/>
<path d="M184.7,372 L181.9,376.7 L187.5,376.7 Z" fill="none" stroke="#3ee03e" stroke-width="0.9"/>
<path d="M217,383.3 L214.2,388 L219.8,388 Z" fill="none" stroke="#3ee03e" stroke-width="0.9"/>
<path d="M81,262.7 L78.2,267.4 L83.8,267.4 Z" fill="none" stroke="#6235e8" stroke-width="0.9"/>
<path d="M87.7,266.3 L84.9,271 L90.5,271 Z" fill="none" stroke="#6235e8" stroke-width="0.9"/>
<path d="M93.6,273.3 L90.8,278 L96.4,278 Z" fill="none" stroke="#6235e8" stroke-width="0.9"/>
<path d="M100.3,277.7 L97.5,282.4 L103.1,282.4 Z" fill="none" stroke="#6235e8" stroke-width="0.9"/>
<path d="M106.9,285.3 L104.1,290 L109.7,290 Z" fill="none" stroke="#6235e8" stroke-width="0.9"/>
<path d="M113,293.1 L110.2,297.8 L115.8,297.8 Z" fill="none" stroke="#6235e8" stroke-width="0.9"/>
<path d="M120,300.9 L117.2,305.6 L122.8,305.6 Z" fill="none" stroke="#6235e8" stroke-width="0.9"/>
<path d="M151.8,337 L149,341.7 L154.6,341.7 Z" fill="none" stroke="#6235e8" stroke-width="0.9"/>
<path d="M184.7,366.9 L181.9,371.6 L187.5,371.6 Z" fill="none" stroke="#6235e8" stroke-width="0.9"/>
<path d="M217,396.5 L214.2,401.2 L219.8,401.2 Z" fill="none" stroke="#6235e8" stroke-width="0.9"/>
<path d="M74.2,227.6 L71.4,232.3 L77,232.3 Z" fill="none" stroke="#2a90f0" stroke-width="0.9"/>
<path d="M81,230.8 L78.2,235.5 L83.8,235.5 Z" fill="none" stroke="#2a90f0" stroke-width="0.9"/>
<path d="M87.3,237.5 L84.5,242.2 L90.1,242.2 Z" fill="none" stroke="#2a90f0" stroke-width="0.9"/>
<path d="M94,243.1 L91.2,247.8 L96.8,247.8 Z" fill="none" stroke="#2a90f0" stroke-width="0.9"/>
<path d="M100.3,252.9 L97.5,257.6 L103.1,257.6 Z" fill="none" stroke="#2a90f0" stroke-width="0.9"/>
<path d="M106.3,258 L103.5,262.7 L109.1,262.7 Z" fill="none" stroke="#2a90f0" stroke-width="0.9"/>
<path d="M113.2,265.7 L110.4,270.4 L116,270.4 Z" fill="none" stroke="#2a90f0" stroke-width="0.9"/>
<path d="M119.6,275.3 L116.8,280 L122.4,280 Z" fill="none" stroke="#2a90f0" stroke-width="0.9"/>
<path d="M151.8,312 L149,316.7 L154.6,316.7 Z" fill="none" stroke="#2a90f0" stroke-width="0.9"/>
<path d="M184.7,357.6 L181.9,362.3 L187.5,362.3 Z" fill="none" stroke="#2a90f0" stroke-width="0.9"/>
<path d="M217,383.3 L214.2,388 L219.8,388 Z" fill="none" stroke="#2a90f0" stroke-width="0.9"/>
<text x="72" y="224.3" font-size="10" text-anchor="start" fill="#222" stroke="none" font-weight="normal"  >B5</text>
<text x="68.6" y="259.9" font-size="10" text-anchor="start" fill="#222" stroke="none" font-weight="normal"  >B6</text>
<text x="58.6" y="273.7" font-size="10" text-anchor="start" fill="#222" stroke="none" font-weight="normal"  >B4</text>
<text x="64.3" y="293.8" font-size="10" text-anchor="start" fill="#222" stroke="none" font-weight="normal"  >B7</text>
<text x="86.6" y="370.3" font-size="10" text-anchor="start" fill="#222" stroke="none" font-weight="normal"  >B1</text>
<text x="57.8" y="380.7" font-size="10" text-anchor="start" fill="#222" stroke="none" font-weight="normal"  >B3</text>
<text x="72.5" y="404.8" font-size="10" text-anchor="start" fill="#222" stroke="none" font-weight="normal"  >B2</text>
<rect x="166.8" y="194.3" width="56.8" height="113" fill="#fff"/>
<path d="M167.4,234.6 C168.13,235.5 170,237.78 171.8,240 C173.6,242.22 176.12,244.4 178.2,247.9 C180.28,251.4 182.62,257.2 184.3,261 C185.98,264.8 187.07,267.95 188.3,270.7 C189.53,273.45 189.9,274.12 191.7,277.5 C193.5,280.88 196.63,287.42 199.1,291 C201.57,294.58 204.03,297 206.5,299 C208.97,301 211.32,302 213.9,303 C216.48,304 220.65,304.67 222,305" fill="none" stroke="#111" stroke-width="1.0" stroke-linejoin="round" stroke-linecap="round" />
<path d="M168.4,256.6 C169.08,257.12 171.07,258.53 172.5,259.7 C173.93,260.87 175.03,261.72 177,263.6 C178.97,265.48 182.1,268.4 184.3,271 C186.5,273.6 187.98,276.23 190.2,279.2 C192.42,282.17 195.13,285.97 197.6,288.8 C200.07,291.63 202.28,294.12 205,296.2 C207.72,298.28 211.07,300.08 213.9,301.3 C216.73,302.52 220.65,303.13 222,303.5" fill="none" stroke="#f41c24" stroke-width="1.1" stroke-linejoin="round" stroke-linecap="round" />
<circle cx="168.3" cy="222" r="2.5" fill="url(#gk)"/>
<circle cx="170.3" cy="228" r="2.5" fill="url(#gk)"/>
<circle cx="168.1" cy="231.5" r="2.5" fill="url(#gk)"/>
<circle cx="178.2" cy="258" r="2.5" fill="url(#gk)"/>
<circle cx="182" cy="258" r="2.5" fill="url(#gk)"/>
<circle cx="190" cy="271" r="2.5" fill="url(#gk)"/>
<circle cx="197.9" cy="285.8" r="2.5" fill="url(#gk)"/>
<circle cx="204.6" cy="296.2" r="2.5" fill="url(#gk)"/>
<circle cx="168.2" cy="246.2" r="2.5" fill="url(#gr)"/>
<circle cx="168.1" cy="243.2" r="2.5" fill="url(#gr)"/>
<circle cx="170.2" cy="258.2" r="2.5" fill="url(#gr)"/>
<circle cx="177.7" cy="265.1" r="2.5" fill="url(#gr)"/>
<circle cx="181.7" cy="268.2" r="2.5" fill="url(#gr)"/>
<circle cx="189.5" cy="279.6" r="2.5" fill="url(#gr)"/>
<circle cx="197.3" cy="288.8" r="2.5" fill="url(#gr)"/>
<circle cx="204.6" cy="292" r="2.5" fill="url(#gr)"/>
<circle cx="212.7" cy="295.4" r="2.5" fill="url(#gr)"/>
<circle cx="220.5" cy="302.8" r="2.5" fill="url(#gr)"/>
<line x1="166.8" y1="194.3" x2="166.8" y2="307.3" stroke="#555" stroke-width="1.1" />
<line x1="166.8" y1="307.3" x2="223.6" y2="307.3" stroke="#555" stroke-width="1.1" />
<line x1="166.9" y1="307.3" x2="166.9" y2="304.8" stroke="#444" stroke-width="0.9" />
<line x1="178.25" y1="307.3" x2="178.25" y2="305.8" stroke="#444" stroke-width="0.9" />
<line x1="189.61" y1="307.3" x2="189.61" y2="304.8" stroke="#444" stroke-width="0.9" />
<line x1="200.97" y1="307.3" x2="200.97" y2="305.8" stroke="#444" stroke-width="0.9" />
<line x1="212.32" y1="307.3" x2="212.32" y2="304.8" stroke="#444" stroke-width="0.9" />
<line x1="166.8" y1="307.3" x2="169.3" y2="307.3" stroke="#444" stroke-width="0.9" />
<line x1="166.8" y1="284.8" x2="168.3" y2="284.8" stroke="#444" stroke-width="0.9" />
<line x1="166.8" y1="262.3" x2="169.3" y2="262.3" stroke="#444" stroke-width="0.9" />
<line x1="166.8" y1="239.8" x2="168.3" y2="239.8" stroke="#444" stroke-width="0.9" />
<line x1="166.8" y1="217.3" x2="169.3" y2="217.3" stroke="#444" stroke-width="0.9" />
<line x1="166.8" y1="194.8" x2="168.3" y2="194.8" stroke="#444" stroke-width="0.9" />
<text transform="translate(164,311.1) scale(0.88,1)" font-size="10.8" text-anchor="end" fill="#000" stroke="none" font-weight="normal"  >0.0</text>
<text transform="translate(164,266.1) scale(0.88,1)" font-size="10.8" text-anchor="end" fill="#000" stroke="none" font-weight="normal"  >0.2</text>
<text transform="translate(164,221.1) scale(0.88,1)" font-size="10.8" text-anchor="end" fill="#000" stroke="none" font-weight="normal"  >0.4</text>
<text transform="translate(166.9,318.6) scale(0.88,1)" font-size="10.8" text-anchor="middle" fill="#000" stroke="none" font-weight="normal"  >0</text>
<text transform="translate(189.61,318.6) scale(0.88,1)" font-size="10.8" text-anchor="middle" fill="#000" stroke="none" font-weight="normal"  >30</text>
<text transform="translate(212.32,318.6) scale(0.88,1)" font-size="10.8" text-anchor="middle" fill="#000" stroke="none" font-weight="normal"  >60</text>
<text x="194" y="330.6" font-size="13.5" text-anchor="middle" fill="#000" stroke="none" font-weight="normal"  ><tspan font-style="italic">T</tspan> (K)</text>
<text transform="translate(145.8,246) rotate(-90) scale(0.862,1)" font-size="15.2" text-anchor="middle" fill="#000" stroke="#000">|&#916;&#961;<tspan font-size="11" dy="3.2">xx</tspan><tspan dy="-3.2">| (m&#937; cm)</tspan></text>
<text transform="translate(189.2,213.3) scale(0.93,1)" font-size="14.6" text-anchor="start" fill="#000" stroke="#000" font-weight="normal"  >S74</text>
<text x="180.5" y="231" font-size="10" text-anchor="start" fill="#666" stroke="none" font-weight="normal"  >B8</text>
<text x="171.6" y="292" font-size="10" text-anchor="start" fill="#f2282a" stroke="none" font-weight="normal"  >B9</text>
<line x1="55.2" y1="194.3" x2="223.6" y2="194.3" stroke="#555" stroke-width="1.3" />
<line x1="55.2" y1="432.3" x2="223.6" y2="432.3" stroke="#555" stroke-width="1.3" />
<line x1="55.2" y1="194.3" x2="55.2" y2="432.3" stroke="#999" stroke-width="1.3" />
<line x1="223.6" y1="194.3" x2="223.6" y2="432.3" stroke="#666" stroke-width="1.3" />
<line x1="55.2" y1="432.3" x2="55.2" y2="429.3" stroke="#444" stroke-width="1" />
<line x1="71.35" y1="432.3" x2="71.35" y2="430.3" stroke="#444" stroke-width="1" />
<line x1="87.5" y1="432.3" x2="87.5" y2="429.3" stroke="#444" stroke-width="1" />
<line x1="103.65" y1="432.3" x2="103.65" y2="430.3" stroke="#444" stroke-width="1" />
<line x1="119.8" y1="432.3" x2="119.8" y2="429.3" stroke="#444" stroke-width="1" />
<line x1="135.95" y1="432.3" x2="135.95" y2="430.3" stroke="#444" stroke-width="1" />
<line x1="152.1" y1="432.3" x2="152.1" y2="429.3" stroke="#444" stroke-width="1" />
<line x1="168.25" y1="432.3" x2="168.25" y2="430.3" stroke="#444" stroke-width="1" />
<line x1="184.4" y1="432.3" x2="184.4" y2="429.3" stroke="#444" stroke-width="1" />
<line x1="200.55" y1="432.3" x2="200.55" y2="430.3" stroke="#444" stroke-width="1" />
<line x1="216.7" y1="432.3" x2="216.7" y2="429.3" stroke="#444" stroke-width="1" />
<line x1="55.2" y1="194.3" x2="55.2" y2="197.3" stroke="#444" stroke-width="1" />
<line x1="71.35" y1="194.3" x2="71.35" y2="196.3" stroke="#444" stroke-width="1" />
<line x1="87.5" y1="194.3" x2="87.5" y2="197.3" stroke="#444" stroke-width="1" />
<line x1="103.65" y1="194.3" x2="103.65" y2="196.3" stroke="#444" stroke-width="1" />
<line x1="119.8" y1="194.3" x2="119.8" y2="197.3" stroke="#444" stroke-width="1" />
<line x1="135.95" y1="194.3" x2="135.95" y2="196.3" stroke="#444" stroke-width="1" />
<line x1="152.1" y1="194.3" x2="152.1" y2="197.3" stroke="#444" stroke-width="1" />
<line x1="168.25" y1="194.3" x2="168.25" y2="196.3" stroke="#444" stroke-width="1" />
<line x1="184.4" y1="194.3" x2="184.4" y2="197.3" stroke="#444" stroke-width="1" />
<line x1="200.55" y1="194.3" x2="200.55" y2="196.3" stroke="#444" stroke-width="1" />
<line x1="216.7" y1="194.3" x2="216.7" y2="197.3" stroke="#444" stroke-width="1" />
<line x1="55.2" y1="432.3" x2="58.2" y2="432.3" stroke="#555" stroke-width="1" />
<line x1="223.6" y1="432.3" x2="220.6" y2="432.3" stroke="#555" stroke-width="1" />
<line x1="55.2" y1="393.56" x2="57.2" y2="393.56" stroke="#555" stroke-width="1" />
<line x1="223.6" y1="393.56" x2="221.6" y2="393.56" stroke="#555" stroke-width="1" />
<line x1="55.2" y1="354.81" x2="58.2" y2="354.81" stroke="#555" stroke-width="1" />
<line x1="223.6" y1="354.81" x2="220.6" y2="354.81" stroke="#555" stroke-width="1" />
<line x1="55.2" y1="316.06" x2="57.2" y2="316.06" stroke="#555" stroke-width="1" />
<line x1="223.6" y1="316.06" x2="221.6" y2="316.06" stroke="#555" stroke-width="1" />
<line x1="55.2" y1="277.32" x2="58.2" y2="277.32" stroke="#555" stroke-width="1" />
<line x1="223.6" y1="277.32" x2="220.6" y2="277.32" stroke="#555" stroke-width="1" />
<line x1="55.2" y1="238.57" x2="57.2" y2="238.57" stroke="#555" stroke-width="1" />
<line x1="223.6" y1="238.57" x2="221.6" y2="238.57" stroke="#555" stroke-width="1" />
<line x1="55.2" y1="199.83" x2="58.2" y2="199.83" stroke="#555" stroke-width="1" />
<line x1="223.6" y1="199.83" x2="220.6" y2="199.83" stroke="#555" stroke-width="1" />
<text x="52.6" y="436.9" font-size="13.8" text-anchor="end" fill="#000" stroke="none" font-weight="normal"  >0.0</text>
<text x="52.6" y="359.41" font-size="13.8" text-anchor="end" fill="#000" stroke="none" font-weight="normal"  >0.3</text>
<text x="52.6" y="281.92" font-size="13.8" text-anchor="end" fill="#000" stroke="none" font-weight="normal"  >0.6</text>
<text x="52.6" y="204.43" font-size="13.8" text-anchor="end" fill="#000" stroke="none" font-weight="normal"  >0.9</text>
<text x="55.2" y="445.8" font-size="13.8" text-anchor="middle" fill="#000" stroke="none" font-weight="normal"  >0</text>
<text x="87.5" y="445.8" font-size="13.8" text-anchor="middle" fill="#000" stroke="none" font-weight="normal"  >10</text>
<text x="119.8" y="445.8" font-size="13.8" text-anchor="middle" fill="#000" stroke="none" font-weight="normal"  >20</text>
<text x="152.1" y="445.8" font-size="13.8" text-anchor="middle" fill="#000" stroke="none" font-weight="normal"  >30</text>
<text x="184.4" y="445.8" font-size="13.8" text-anchor="middle" fill="#000" stroke="none" font-weight="normal"  >40</text>
<text x="216.7" y="445.8" font-size="13.8" text-anchor="middle" fill="#000" stroke="none" font-weight="normal"  >50</text>
<text x="141.7" y="467.9" font-size="16.6" text-anchor="middle" fill="#000" stroke="#000" font-weight="normal"  ><tspan font-style="italic">T</tspan> (K)</text>
<text transform="translate(20.5,302.2) rotate(-90)" font-size="16.5" text-anchor="middle" fill="#000" stroke="#000">|&#916;&#961;<tspan font-size="11" dy="3">xx</tspan><tspan dy="-3">| (m&#937; cm)</tspan></text>
<text x="0.6" y="200.6" font-size="17" text-anchor="start" fill="#000" stroke="none" font-weight="bold"  >b</text>
<path d="M285.1,403.4 L285.1,360.5 L288.4,358.4 L291.9,324.1 L298.2,299.1 L312.6,281.1 L376.6,237.5 L424.5,226.3" fill="none" stroke="#ff2a2a" stroke-width="1.0" stroke-linejoin="round"/>
<path d="M285.2,420.3 L286,368.5 L286.6,365.4 L288.7,349.6 L292.3,323 L299.9,297.6 L314.1,269.5 L379.2,223.4 L423.9,215.1" fill="none" stroke="#2020f4" stroke-width="1.0" stroke-linejoin="round"/>
<line x1="285.2" y1="414" x2="285.2" y2="427.7" stroke="#2020f4" stroke-width="0.9" />
<line x1="283.2" y1="414" x2="287.2" y2="414" stroke="#2020f4" stroke-width="0.9" />
<line x1="283.2" y1="427.7" x2="287.2" y2="427.7" stroke="#2020f4" stroke-width="0.9" />
<line x1="286" y1="368" x2="286" y2="377" stroke="#2020f4" stroke-width="0.9" />
<line x1="284" y1="377" x2="288" y2="377" stroke="#2020f4" stroke-width="0.9" />
<circle cx="285.1" cy="403.4" r="2.7" fill="url(#crg)"/>
<circle cx="285.1" cy="360.5" r="2.7" fill="url(#crg)"/>
<circle cx="288.4" cy="358.4" r="2.7" fill="url(#crg)"/>
<circle cx="291.9" cy="324.1" r="2.7" fill="url(#crg)"/>
<circle cx="298.2" cy="299.1" r="2.7" fill="url(#crg)"/>
<circle cx="312.6" cy="281.1" r="2.7" fill="url(#crg)"/>
<circle cx="376.6" cy="237.5" r="2.7" fill="url(#crg)"/>
<circle cx="424.5" cy="226.3" r="2.7" fill="url(#crg)"/>
<circle cx="285.2" cy="420.3" r="2.7" fill="url(#cbg)"/>
<circle cx="286" cy="368.5" r="2.7" fill="url(#cbg)"/>
<circle cx="286.6" cy="365.4" r="2.7" fill="url(#cbg)"/>
<circle cx="288.7" cy="349.6" r="2.7" fill="url(#cbg)"/>
<circle cx="292.3" cy="323" r="2.7" fill="url(#cbg)"/>
<circle cx="299.9" cy="297.6" r="2.7" fill="url(#cbg)"/>
<circle cx="314.1" cy="269.5" r="2.7" fill="url(#cbg)"/>
<circle cx="379.2" cy="223.4" r="2.7" fill="url(#cbg)"/>
<circle cx="423.9" cy="215.1" r="2.7" fill="url(#cbg)"/>
<line x1="279" y1="195" x2="448.4" y2="195" stroke="#666" stroke-width="1.3" />
<line x1="279" y1="432.1" x2="448.4" y2="432.1" stroke="#555" stroke-width="1.3" />
<line x1="279" y1="195" x2="279" y2="432.1" stroke="#888" stroke-width="1.3" />
<line x1="448.4" y1="195" x2="448.4" y2="432.1" stroke="#666" stroke-width="1.3" />
<line x1="284.5" y1="432.1" x2="284.5" y2="429.1" stroke="#444" stroke-width="1" />
<line x1="284.5" y1="195" x2="284.5" y2="198" stroke="#444" stroke-width="1" />
<line x1="311.8" y1="432.1" x2="311.8" y2="430.1" stroke="#444" stroke-width="1" />
<line x1="311.8" y1="195" x2="311.8" y2="197" stroke="#444" stroke-width="1" />
<line x1="339.1" y1="432.1" x2="339.1" y2="429.1" stroke="#444" stroke-width="1" />
<line x1="339.1" y1="195" x2="339.1" y2="198" stroke="#444" stroke-width="1" />
<line x1="366.4" y1="432.1" x2="366.4" y2="430.1" stroke="#444" stroke-width="1" />
<line x1="366.4" y1="195" x2="366.4" y2="197" stroke="#444" stroke-width="1" />
<line x1="393.7" y1="432.1" x2="393.7" y2="429.1" stroke="#444" stroke-width="1" />
<line x1="393.7" y1="195" x2="393.7" y2="198" stroke="#444" stroke-width="1" />
<line x1="421" y1="432.1" x2="421" y2="430.1" stroke="#444" stroke-width="1" />
<line x1="421" y1="195" x2="421" y2="197" stroke="#444" stroke-width="1" />
<line x1="448.3" y1="432.1" x2="448.3" y2="429.1" stroke="#444" stroke-width="1" />
<line x1="448.3" y1="195" x2="448.3" y2="198" stroke="#444" stroke-width="1" />
<line x1="279" y1="424.02" x2="280.6" y2="424.02" stroke="#555" stroke-width="1" />
<line x1="448.4" y1="424.02" x2="446.8" y2="424.02" stroke="#555" stroke-width="1" />
<line x1="279" y1="417.04" x2="280.6" y2="417.04" stroke="#555" stroke-width="1" />
<line x1="448.4" y1="417.04" x2="446.8" y2="417.04" stroke="#555" stroke-width="1" />
<line x1="279" y1="411.15" x2="280.6" y2="411.15" stroke="#555" stroke-width="1" />
<line x1="448.4" y1="411.15" x2="446.8" y2="411.15" stroke="#555" stroke-width="1" />
<line x1="279" y1="406.04" x2="280.6" y2="406.04" stroke="#555" stroke-width="1" />
<line x1="448.4" y1="406.04" x2="446.8" y2="406.04" stroke="#555" stroke-width="1" />
<line x1="279" y1="401.53" x2="280.6" y2="401.53" stroke="#555" stroke-width="1" />
<line x1="448.4" y1="401.53" x2="446.8" y2="401.53" stroke="#555" stroke-width="1" />
<line x1="279" y1="397.5" x2="282" y2="397.5" stroke="#555" stroke-width="1" />
<line x1="448.4" y1="397.5" x2="445.4" y2="397.5" stroke="#555" stroke-width="1" />
<line x1="279" y1="370.98" x2="280.6" y2="370.98" stroke="#555" stroke-width="1" />
<line x1="448.4" y1="370.98" x2="446.8" y2="370.98" stroke="#555" stroke-width="1" />
<line x1="279" y1="355.47" x2="280.6" y2="355.47" stroke="#555" stroke-width="1" />
<line x1="448.4" y1="355.47" x2="446.8" y2="355.47" stroke="#555" stroke-width="1" />
<line x1="279" y1="344.46" x2="280.6" y2="344.46" stroke="#555" stroke-width="1" />
<line x1="448.4" y1="344.46" x2="446.8" y2="344.46" stroke="#555" stroke-width="1" />
<line x1="279" y1="335.92" x2="280.6" y2="335.92" stroke="#555" stroke-width="1" />
<line x1="448.4" y1="335.92" x2="446.8" y2="335.92" stroke="#555" stroke-width="1" />
<line x1="279" y1="328.94" x2="280.6" y2="328.94" stroke="#555" stroke-width="1" />
<line x1="448.4" y1="328.94" x2="446.8" y2="328.94" stroke="#555" stroke-width="1" />
<line x1="279" y1="323.05" x2="280.6" y2="323.05" stroke="#555" stroke-width="1" />
<line x1="448.4" y1="323.05" x2="446.8" y2="323.05" stroke="#555" stroke-width="1" />
<line x1="279" y1="317.94" x2="280.6" y2="317.94" stroke="#555" stroke-width="1" />
<line x1="448.4" y1="317.94" x2="446.8" y2="317.94" stroke="#555" stroke-width="1" />
<line x1="279" y1="313.43" x2="280.6" y2="313.43" stroke="#555" stroke-width="1" />
<line x1="448.4" y1="313.43" x2="446.8" y2="313.43" stroke="#555" stroke-width="1" />
<line x1="279" y1="309.4" x2="282" y2="309.4" stroke="#555" stroke-width="1" />
<line x1="448.4" y1="309.4" x2="445.4" y2="309.4" stroke="#555" stroke-width="1" />
<line x1="279" y1="282.88" x2="280.6" y2="282.88" stroke="#555" stroke-width="1" />
<line x1="448.4" y1="282.88" x2="446.8" y2="282.88" stroke="#555" stroke-width="1" />
<line x1="279" y1="267.37" x2="280.6" y2="267.37" stroke="#555" stroke-width="1" />
<line x1="448.4" y1="267.37" x2="446.8" y2="267.37" stroke="#555" stroke-width="1" />
<line x1="279" y1="256.36" x2="280.6" y2="256.36" stroke="#555" stroke-width="1" />
<line x1="448.4" y1="256.36" x2="446.8" y2="256.36" stroke="#555" stroke-width="1" />
<line x1="279" y1="247.82" x2="280.6" y2="247.82" stroke="#555" stroke-width="1" />
<line x1="448.4" y1="247.82" x2="446.8" y2="247.82" stroke="#555" stroke-width="1" />
<line x1="279" y1="240.84" x2="280.6" y2="240.84" stroke="#555" stroke-width="1" />
<line x1="448.4" y1="240.84" x2="446.8" y2="240.84" stroke="#555" stroke-width="1" />
<line x1="279" y1="234.95" x2="280.6" y2="234.95" stroke="#555" stroke-width="1" />
<line x1="448.4" y1="234.95" x2="446.8" y2="234.95" stroke="#555" stroke-width="1" />
<line x1="279" y1="229.84" x2="280.6" y2="229.84" stroke="#555" stroke-width="1" />
<line x1="448.4" y1="229.84" x2="446.8" y2="229.84" stroke="#555" stroke-width="1" />
<line x1="279" y1="225.33" x2="280.6" y2="225.33" stroke="#555" stroke-width="1" />
<line x1="448.4" y1="225.33" x2="446.8" y2="225.33" stroke="#555" stroke-width="1" />
<line x1="279" y1="221.3" x2="282" y2="221.3" stroke="#555" stroke-width="1" />
<line x1="448.4" y1="221.3" x2="445.4" y2="221.3" stroke="#555" stroke-width="1" />
<text x="277" y="402.5" font-size="13.8" text-anchor="end" fill="#000" stroke="none" font-weight="normal"  >10<tspan font-size="9.5" dy="-5">-3</tspan></text>
<text x="277" y="314.4" font-size="13.8" text-anchor="end" fill="#000" stroke="none" font-weight="normal"  >10<tspan font-size="9.5" dy="-5">-2</tspan></text>
<text x="277" y="226.3" font-size="13.8" text-anchor="end" fill="#000" stroke="none" font-weight="normal"  >10<tspan font-size="9.5" dy="-5">-1</tspan></text>
<text x="284.5" y="445.6" font-size="13.8" text-anchor="middle" fill="#000" stroke="none" font-weight="normal"  >0</text>
<text x="339.1" y="445.6" font-size="13.8" text-anchor="middle" fill="#000" stroke="none" font-weight="normal"  >10</text>
<text x="393.7" y="445.6" font-size="13.8" text-anchor="middle" fill="#000" stroke="none" font-weight="normal"  >20</text>
<text x="448.3" y="445.6" font-size="13.8" text-anchor="middle" fill="#000" stroke="none" font-weight="normal"  >30</text>
<text x="370.2" y="467.5" font-size="16.9" text-anchor="middle" fill="#000" stroke="#000" font-weight="normal"  >&#956;<tspan font-size="10.5" dy="4.5">0</tspan><tspan dy="-4.5" font-style="italic">H</tspan> (T)</text>
<text transform="translate(244.9,305.9) rotate(-90)" font-size="16.3" text-anchor="middle" fill="#000" stroke="#000">m<tspan font-size="11.5" dy="4">c</tspan><tspan dy="-4">/m</tspan><tspan font-size="11.5" dy="4">e</tspan></text>
<text transform="translate(385.3,216) scale(0.895,1)" font-size="15.5" text-anchor="start" fill="#1a1aff" stroke="#1a1aff" font-weight="normal"  >S74</text>
<text transform="translate(403.7,249.5) scale(0.895,1)" font-size="15.5" text-anchor="start" fill="#ff1a1a" stroke="#ff1a1a" font-weight="normal"  >S75</text>
<text x="251.5" y="201" font-size="17" text-anchor="start" fill="#000" stroke="none" font-weight="bold"  >c</text>
<path d="M509.9,209.9 L510.7,249.5 L513.6,252 L516.7,284.3 L523.6,307.7 L537.3,324.6 L601.6,365.5 L649.4,375.9" fill="none" stroke="#ff2a2a" stroke-width="1.0" stroke-linejoin="round"/>
<path d="M510.7,257.7 L511.5,261.8 L513.5,276.4 L517.3,301.5 L524.7,324.9 L539.1,351.3 L604.2,394.6 L648.9,402.4" fill="none" stroke="#2020f4" stroke-width="1.0" stroke-linejoin="round"/>
<circle cx="509.9" cy="209.9" r="2.6" fill="#ff1010"/>
<circle cx="510.7" cy="249.5" r="2.6" fill="#ff1010"/>
<circle cx="513.6" cy="252" r="2.6" fill="#ff1010"/>
<circle cx="516.7" cy="284.3" r="2.6" fill="#ff1010"/>
<circle cx="523.6" cy="307.7" r="2.6" fill="#ff1010"/>
<circle cx="537.3" cy="324.6" r="2.6" fill="#ff1010"/>
<circle cx="601.6" cy="365.5" r="2.6" fill="#ff1010"/>
<circle cx="649.4" cy="375.9" r="2.6" fill="#ff1010"/>
<circle cx="510.7" cy="257.7" r="2.6" fill="#1010ff"/>
<circle cx="511.5" cy="261.8" r="2.6" fill="#1010ff"/>
<circle cx="513.5" cy="276.4" r="2.6" fill="#1010ff"/>
<circle cx="517.3" cy="301.5" r="2.6" fill="#1010ff"/>
<circle cx="524.7" cy="324.9" r="2.6" fill="#1010ff"/>
<circle cx="539.1" cy="351.3" r="2.6" fill="#1010ff"/>
<circle cx="604.2" cy="394.6" r="2.6" fill="#1010ff"/>
<circle cx="648.9" cy="402.4" r="2.6" fill="#1010ff"/>
<line x1="504" y1="194.5" x2="673.4" y2="194.5" stroke="#555" stroke-width="1.3" />
<line x1="504" y1="431.8" x2="673.4" y2="431.8" stroke="#555" stroke-width="1.3" />
<line x1="504" y1="194.5" x2="504" y2="431.8" stroke="#888" stroke-width="1.3" />
<line x1="673.4" y1="194.5" x2="673.4" y2="431.8" stroke="#666" stroke-width="1.3" />
<line x1="509" y1="431.8" x2="509" y2="428.8" stroke="#444" stroke-width="1" />
<line x1="509" y1="194.5" x2="509" y2="197.5" stroke="#444" stroke-width="1" />
<line x1="536.25" y1="431.8" x2="536.25" y2="429.8" stroke="#444" stroke-width="1" />
<line x1="536.25" y1="194.5" x2="536.25" y2="196.5" stroke="#444" stroke-width="1" />
<line x1="563.5" y1="431.8" x2="563.5" y2="428.8" stroke="#444" stroke-width="1" />
<line x1="563.5" y1="194.5" x2="563.5" y2="197.5" stroke="#444" stroke-width="1" />
<line x1="590.75" y1="431.8" x2="590.75" y2="429.8" stroke="#444" stroke-width="1" />
<line x1="590.75" y1="194.5" x2="590.75" y2="196.5" stroke="#444" stroke-width="1" />
<line x1="618" y1="431.8" x2="618" y2="428.8" stroke="#444" stroke-width="1" />
<line x1="618" y1="194.5" x2="618" y2="197.5" stroke="#444" stroke-width="1" />
<line x1="645.25" y1="431.8" x2="645.25" y2="429.8" stroke="#444" stroke-width="1" />
<line x1="645.25" y1="194.5" x2="645.25" y2="196.5" stroke="#444" stroke-width="1" />
<line x1="672.5" y1="431.8" x2="672.5" y2="428.8" stroke="#444" stroke-width="1" />
<line x1="672.5" y1="194.5" x2="672.5" y2="197.5" stroke="#444" stroke-width="1" />
<line x1="504" y1="432" x2="507" y2="432" stroke="#555" stroke-width="1" />
<line x1="673.4" y1="432" x2="670.4" y2="432" stroke="#555" stroke-width="1" />
<line x1="504" y1="407.26" x2="505.6" y2="407.26" stroke="#555" stroke-width="1" />
<line x1="673.4" y1="407.26" x2="671.8" y2="407.26" stroke="#555" stroke-width="1" />
<line x1="504" y1="392.78" x2="505.6" y2="392.78" stroke="#555" stroke-width="1" />
<line x1="673.4" y1="392.78" x2="671.8" y2="392.78" stroke="#555" stroke-width="1" />
<line x1="504" y1="382.51" x2="505.6" y2="382.51" stroke="#555" stroke-width="1" />
<line x1="673.4" y1="382.51" x2="671.8" y2="382.51" stroke="#555" stroke-width="1" />
<line x1="504" y1="374.54" x2="505.6" y2="374.54" stroke="#555" stroke-width="1" />
<line x1="673.4" y1="374.54" x2="671.8" y2="374.54" stroke="#555" stroke-width="1" />
<line x1="504" y1="368.04" x2="505.6" y2="368.04" stroke="#555" stroke-width="1" />
<line x1="673.4" y1="368.04" x2="671.8" y2="368.04" stroke="#555" stroke-width="1" />
<line x1="504" y1="362.53" x2="505.6" y2="362.53" stroke="#555" stroke-width="1" />
<line x1="673.4" y1="362.53" x2="671.8" y2="362.53" stroke="#555" stroke-width="1" />
<line x1="504" y1="357.77" x2="505.6" y2="357.77" stroke="#555" stroke-width="1" />
<line x1="673.4" y1="357.77" x2="671.8" y2="357.77" stroke="#555" stroke-width="1" />
<line x1="504" y1="353.56" x2="505.6" y2="353.56" stroke="#555" stroke-width="1" />
<line x1="673.4" y1="353.56" x2="671.8" y2="353.56" stroke="#555" stroke-width="1" />
<line x1="504" y1="349.8" x2="507" y2="349.8" stroke="#555" stroke-width="1" />
<line x1="673.4" y1="349.8" x2="670.4" y2="349.8" stroke="#555" stroke-width="1" />
<line x1="504" y1="325.06" x2="505.6" y2="325.06" stroke="#555" stroke-width="1" />
<line x1="673.4" y1="325.06" x2="671.8" y2="325.06" stroke="#555" stroke-width="1" />
<line x1="504" y1="310.58" x2="505.6" y2="310.58" stroke="#555" stroke-width="1" />
<line x1="673.4" y1="310.58" x2="671.8" y2="310.58" stroke="#555" stroke-width="1" />
<line x1="504" y1="300.31" x2="505.6" y2="300.31" stroke="#555" stroke-width="1" />
<line x1="673.4" y1="300.31" x2="671.8" y2="300.31" stroke="#555" stroke-width="1" />
<line x1="504" y1="292.34" x2="505.6" y2="292.34" stroke="#555" stroke-width="1" />
<line x1="673.4" y1="292.34" x2="671.8" y2="292.34" stroke="#555" stroke-width="1" />
<line x1="504" y1="285.84" x2="505.6" y2="285.84" stroke="#555" stroke-width="1" />
<line x1="673.4" y1="285.84" x2="671.8" y2="285.84" stroke="#555" stroke-width="1" />
<line x1="504" y1="280.33" x2="505.6" y2="280.33" stroke="#555" stroke-width="1" />
<line x1="673.4" y1="280.33" x2="671.8" y2="280.33" stroke="#555" stroke-width="1" />
<line x1="504" y1="275.57" x2="505.6" y2="275.57" stroke="#555" stroke-width="1" />
<line x1="673.4" y1="275.57" x2="671.8" y2="275.57" stroke="#555" stroke-width="1" />
<line x1="504" y1="271.36" x2="505.6" y2="271.36" stroke="#555" stroke-width="1" />
<line x1="673.4" y1="271.36" x2="671.8" y2="271.36" stroke="#555" stroke-width="1" />
<line x1="504" y1="267.6" x2="507" y2="267.6" stroke="#555" stroke-width="1" />
<line x1="673.4" y1="267.6" x2="670.4" y2="267.6" stroke="#555" stroke-width="1" />
<line x1="504" y1="242.86" x2="505.6" y2="242.86" stroke="#555" stroke-width="1" />
<line x1="673.4" y1="242.86" x2="671.8" y2="242.86" stroke="#555" stroke-width="1" />
<line x1="504" y1="228.38" x2="505.6" y2="228.38" stroke="#555" stroke-width="1" />
<line x1="673.4" y1="228.38" x2="671.8" y2="228.38" stroke="#555" stroke-width="1" />
<line x1="504" y1="218.11" x2="505.6" y2="218.11" stroke="#555" stroke-width="1" />
<line x1="673.4" y1="218.11" x2="671.8" y2="218.11" stroke="#555" stroke-width="1" />
<line x1="504" y1="210.14" x2="505.6" y2="210.14" stroke="#555" stroke-width="1" />
<line x1="673.4" y1="210.14" x2="671.8" y2="210.14" stroke="#555" stroke-width="1" />
<line x1="504" y1="203.64" x2="505.6" y2="203.64" stroke="#555" stroke-width="1" />
<line x1="673.4" y1="203.64" x2="671.8" y2="203.64" stroke="#555" stroke-width="1" />
<line x1="504" y1="198.13" x2="505.6" y2="198.13" stroke="#555" stroke-width="1" />
<line x1="673.4" y1="198.13" x2="671.8" y2="198.13" stroke="#555" stroke-width="1" />
<text x="501.2" y="437" font-size="13.8" text-anchor="end" fill="#000" stroke="none" font-weight="normal"  >10<tspan font-size="9.5" dy="-5">3</tspan></text>
<text x="501.2" y="354.8" font-size="13.8" text-anchor="end" fill="#000" stroke="none" font-weight="normal"  >10<tspan font-size="9.5" dy="-5">4</tspan></text>
<text x="501.2" y="272.6" font-size="13.8" text-anchor="end" fill="#000" stroke="none" font-weight="normal"  >10<tspan font-size="9.5" dy="-5">5</tspan></text>
<text x="509" y="445.6" font-size="13.8" text-anchor="middle" fill="#000" stroke="none" font-weight="normal"  >0</text>
<text x="563.5" y="445.6" font-size="13.8" text-anchor="middle" fill="#000" stroke="none" font-weight="normal"  >10</text>
<text x="618" y="445.6" font-size="13.8" text-anchor="middle" fill="#000" stroke="none" font-weight="normal"  >20</text>
<text x="672.5" y="445.6" font-size="13.8" text-anchor="middle" fill="#000" stroke="none" font-weight="normal"  >30</text>
<text x="589.2" y="467.5" font-size="16.9" text-anchor="middle" fill="#000" stroke="#000" font-weight="normal"  >&#956;<tspan font-size="10.5" dy="4.5">0</tspan><tspan dy="-4.5" font-style="italic">H</tspan> (T)</text>
<text transform="translate(477.9,305) rotate(-90)" font-size="16" text-anchor="middle" fill="#000" stroke="#000">v<tspan font-size="11.5" dy="3">F</tspan><tspan dy="-3"> (m/s)</tspan></text>
<text transform="translate(521.3,225.4) scale(0.9,1)" font-size="15.5" text-anchor="start" fill="#ff1a1a" stroke="#ff1a1a" font-weight="normal"  >S75</text>
<text transform="translate(540.8,386) scale(0.895,1)" font-size="15.5" text-anchor="start" fill="#1a1aff" stroke="#1a1aff" font-weight="normal"  >S74</text>
<text x="487.2" y="200.6" font-size="17" text-anchor="start" fill="#000" stroke="none" font-weight="bold"  >d</text>
</svg>
</body></html>
